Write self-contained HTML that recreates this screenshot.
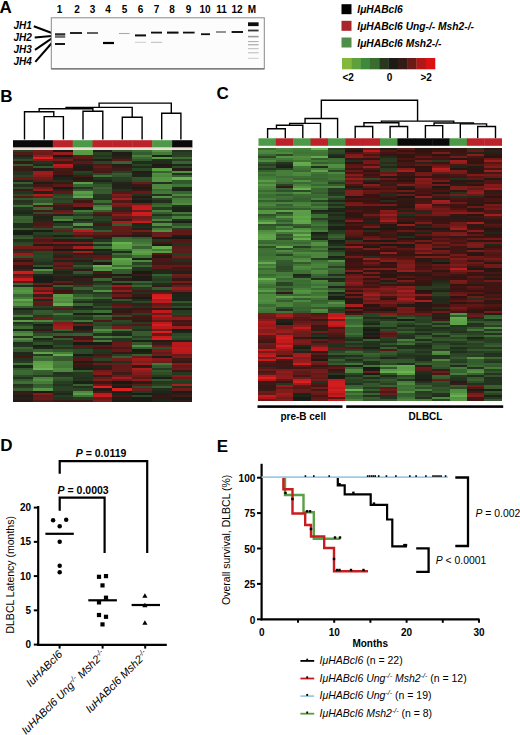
<!DOCTYPE html>
<html><head><meta charset="utf-8"><style>
html,body{margin:0;padding:0;background:#fff;}
svg{display:block;font-family:"Liberation Sans", sans-serif;}
</style></head><body>
<svg width="520" height="735" viewBox="0 0 520 735" shape-rendering="auto">
<rect width="520" height="735" fill="#fff"/>
<text x="-0.6" y="12.6" font-size="17" font-weight="bold" font-style="normal" text-anchor="start" fill="#000" >A</text>
<text x="59.5" y="12.8" font-size="10" font-weight="bold" font-style="normal" text-anchor="middle" fill="#000" >1</text>
<text x="77" y="12.8" font-size="10" font-weight="bold" font-style="normal" text-anchor="middle" fill="#000" >2</text>
<text x="92.5" y="12.8" font-size="10" font-weight="bold" font-style="normal" text-anchor="middle" fill="#000" >3</text>
<text x="108" y="12.8" font-size="10" font-weight="bold" font-style="normal" text-anchor="middle" fill="#000" >4</text>
<text x="124.5" y="12.8" font-size="10" font-weight="bold" font-style="normal" text-anchor="middle" fill="#000" >5</text>
<text x="140.5" y="12.8" font-size="10" font-weight="bold" font-style="normal" text-anchor="middle" fill="#000" >6</text>
<text x="156.5" y="12.8" font-size="10" font-weight="bold" font-style="normal" text-anchor="middle" fill="#000" >7</text>
<text x="172" y="12.8" font-size="10" font-weight="bold" font-style="normal" text-anchor="middle" fill="#000" >8</text>
<text x="188.5" y="12.8" font-size="10" font-weight="bold" font-style="normal" text-anchor="middle" fill="#000" >9</text>
<text x="205" y="12.8" font-size="10" font-weight="bold" font-style="normal" text-anchor="middle" fill="#000" >10</text>
<text x="221.5" y="12.8" font-size="10" font-weight="bold" font-style="normal" text-anchor="middle" fill="#000" >11</text>
<text x="237" y="12.8" font-size="10" font-weight="bold" font-style="normal" text-anchor="middle" fill="#000" >12</text>
<text x="252" y="12.8" font-size="10" font-weight="bold" font-style="normal" text-anchor="middle" fill="#000" >M</text>
<text x="13.5" y="28.9" font-size="10" font-weight="bold" font-style="italic" text-anchor="start" fill="#000" >JH1</text>
<text x="13.5" y="40.8" font-size="10" font-weight="bold" font-style="italic" text-anchor="start" fill="#000" >JH2</text>
<text x="13.5" y="53.2" font-size="10" font-weight="bold" font-style="italic" text-anchor="start" fill="#000" >JH3</text>
<text x="13.5" y="65.3" font-size="10" font-weight="bold" font-style="italic" text-anchor="start" fill="#000" >JH4</text>
<line x1="33.8" y1="26.2" x2="51.8" y2="33" stroke="#000" stroke-width="2" />
<line x1="34.7" y1="37.5" x2="51.8" y2="35.9" stroke="#000" stroke-width="2" />
<line x1="35" y1="49.8" x2="51.8" y2="38.4" stroke="#000" stroke-width="2" />
<line x1="35.3" y1="61.9" x2="51.8" y2="43" stroke="#000" stroke-width="2" />
<defs><filter id="bl" x="-20%" y="-200%" width="140%" height="500%"><feGaussianBlur stdDeviation="0.55"/></filter></defs>
<rect x="51.3" y="17.8" width="213" height="51" fill="#fcfcfc" stroke="#8a8a8a" stroke-width="1"/>
<line x1="51.3" y1="68.9" x2="264.3" y2="68.9" stroke="#707070" stroke-width="1.4" />
<rect x="55" y="33.099999999999994" width="10.200000000000003" height="4.4" fill="#9a9a9a" filter="url(#bl)"/>
<rect x="55" y="33.4" width="10.200000000000003" height="1.8" fill="#2e2e2e" filter="url(#bl)"/>
<rect x="55" y="36.35" width="10.200000000000003" height="1.3" fill="#555" filter="url(#bl)"/>
<rect x="55" y="43.05" width="10" height="1.9" fill="#111" filter="url(#bl)"/>
<rect x="70" y="32.1" width="12" height="1.8" fill="#111" filter="url(#bl)"/>
<rect x="87" y="32.2" width="11" height="1.6" fill="#3c3c3c" filter="url(#bl)"/>
<rect x="103" y="41.9" width="11" height="2.2" fill="#000" filter="url(#bl)"/>
<rect x="119" y="32.95" width="10.599999999999994" height="1.1" fill="#aaa" filter="url(#bl)"/>
<rect x="135" y="34.4" width="11" height="2.0" fill="#111" filter="url(#bl)"/>
<rect x="135" y="41.8" width="11" height="1.0" fill="#ccc" filter="url(#bl)"/>
<rect x="151" y="31.650000000000002" width="11" height="1.9" fill="#111" filter="url(#bl)"/>
<rect x="151" y="41.8" width="11" height="1.0" fill="#bbb" filter="url(#bl)"/>
<rect x="167" y="31.6" width="11.5" height="2.0" fill="#0a0a0a" filter="url(#bl)"/>
<rect x="183" y="31.700000000000003" width="11.599999999999994" height="1.8" fill="#111" filter="url(#bl)"/>
<rect x="201" y="33.300000000000004" width="9" height="1.8" fill="#111" filter="url(#bl)"/>
<rect x="216" y="31.35" width="10" height="1.3" fill="#5a5a5a" filter="url(#bl)"/>
<rect x="231.6" y="31.05" width="11.400000000000006" height="1.9" fill="#111" filter="url(#bl)"/>
<rect x="248" y="22.3" width="10.600000000000023" height="3.8" fill="#111" filter="url(#bl)"/>
<rect x="248" y="29.6" width="10.600000000000023" height="1.8" fill="#333" filter="url(#bl)"/>
<rect x="248" y="35.800000000000004" width="10.600000000000023" height="1.6" fill="#999" filter="url(#bl)"/>
<rect x="248" y="41.1" width="10.600000000000023" height="1.0" fill="#aaa" filter="url(#bl)"/>
<rect x="248" y="44.3" width="10.600000000000023" height="1.0" fill="#999" filter="url(#bl)"/>
<rect x="248" y="48.2" width="10.600000000000023" height="1.0" fill="#bbb" filter="url(#bl)"/>
<rect x="248" y="52.3" width="10.600000000000023" height="1.0" fill="#bbb" filter="url(#bl)"/>
<rect x="248" y="57.8" width="10.600000000000023" height="1.0" fill="#ccc" filter="url(#bl)"/>
<rect x="341.5" y="4.2" width="10" height="10" fill="#000" />
<text x="357.3" y="13.399999999999999" font-size="10.25" font-weight="bold" font-style="italic" text-anchor="start" fill="#000" >I&#956;HABcl6</text>
<rect x="341.5" y="20.8" width="10" height="10" fill="#a8252b" />
<text x="357.3" y="30.0" font-size="10.25" font-weight="bold" font-style="italic" text-anchor="start" fill="#000" >I&#956;HABcl6 Ung-/- Msh2-/-</text>
<rect x="341.5" y="37.5" width="10" height="10" fill="#4f8d49" />
<text x="357.3" y="46.7" font-size="10.25" font-weight="bold" font-style="italic" text-anchor="start" fill="#000" >I&#956;HABcl6 Msh2-/-</text>
<rect x="342.0" y="58" width="9.600000000000001" height="11.3" fill="#84b83c" />
<rect x="351.3" y="58" width="9.600000000000001" height="11.3" fill="#5f9f3c" />
<rect x="360.6" y="58" width="9.600000000000001" height="11.3" fill="#3f8a3a" />
<rect x="369.9" y="58" width="9.600000000000001" height="11.3" fill="#3a6c2e" />
<rect x="379.2" y="58" width="9.600000000000001" height="11.3" fill="#28381f" />
<rect x="388.5" y="58" width="9.600000000000001" height="11.3" fill="#1c1c16" />
<rect x="397.8" y="58" width="9.600000000000001" height="11.3" fill="#361a14" />
<rect x="407.1" y="58" width="9.600000000000001" height="11.3" fill="#6a1a17" />
<rect x="416.4" y="58" width="9.600000000000001" height="11.3" fill="#b01818" />
<rect x="425.7" y="58" width="9.600000000000001" height="11.3" fill="#dc1212" />
<text x="342.5" y="80.5" font-size="10" font-weight="bold" font-style="normal" text-anchor="start" fill="#000" >&lt;2</text>
<text x="389.6" y="80.5" font-size="10" font-weight="bold" font-style="normal" text-anchor="middle" fill="#000" >0</text>
<text x="431.8" y="80.5" font-size="10" font-weight="bold" font-style="normal" text-anchor="end" fill="#000" >&gt;2</text>
<text x="0.2" y="102.2" font-size="17" font-weight="bold" font-style="normal" text-anchor="start" fill="#000" >B</text>
<polyline points="44.2,139.6 44.2,116.6 63.4,116.6 63.4,139.6" fill="none" stroke="#000" stroke-width="1.4" stroke-linejoin="miter" stroke-linecap="butt"/>
<polyline points="24.5,139.6 24.5,111.8 53.8,111.8 53.8,116.6" fill="none" stroke="#000" stroke-width="1.4" stroke-linejoin="miter" stroke-linecap="butt"/>
<polyline points="83,139.6 83,111.3 102.8,111.3 102.8,139.6" fill="none" stroke="#000" stroke-width="1.4" stroke-linejoin="miter" stroke-linecap="butt"/>
<polyline points="39.15,111.8 39.15,108.7 92.9,108.7 92.9,111.3" fill="none" stroke="#000" stroke-width="1.4" stroke-linejoin="miter" stroke-linecap="butt"/>
<polyline points="122.3,139.6 122.3,117.2 142.1,117.2 142.1,139.6" fill="none" stroke="#000" stroke-width="1.4" stroke-linejoin="miter" stroke-linecap="butt"/>
<polyline points="66.025,108.7 66.025,107.4 132.2,107.4 132.2,117.2" fill="none" stroke="#000" stroke-width="1.4" stroke-linejoin="miter" stroke-linecap="butt"/>
<polyline points="161.7,139.6 161.7,113.2 180.9,113.2 180.9,139.6" fill="none" stroke="#000" stroke-width="1.4" stroke-linejoin="miter" stroke-linecap="butt"/>
<polyline points="99.1125,107.4 99.1125,103.1 171.3,103.1 171.3,113.2" fill="none" stroke="#000" stroke-width="1.4" stroke-linejoin="miter" stroke-linecap="butt"/>
<rect x="13.0" y="140.2" width="20.29" height="7.400000000000006" fill="#0a0a0a" />
<rect x="32.89" y="140.2" width="20.29" height="7.400000000000006" fill="#0a0a0a" />
<rect x="52.78" y="140.2" width="20.29" height="7.400000000000006" fill="#bb2229" />
<rect x="72.67" y="140.2" width="20.29" height="7.400000000000006" fill="#4c9a48" />
<rect x="92.56" y="140.2" width="20.29" height="7.400000000000006" fill="#bb2229" />
<rect x="112.44" y="140.2" width="20.29" height="7.400000000000006" fill="#bb2229" />
<rect x="132.33" y="140.2" width="20.29" height="7.400000000000006" fill="#bb2229" />
<rect x="152.22" y="140.2" width="20.29" height="7.400000000000006" fill="#4c9a48" />
<rect x="172.11" y="140.2" width="20.29" height="7.400000000000006" fill="#0a0a0a" />
<rect x="13" y="147.6" width="179" height="2.3" fill="#ecdcd8" />
<g shape-rendering="crispEdges">
<rect x="13" y="150" width="20" height="2" fill="#294023"/>
<rect x="13" y="152" width="20" height="3" fill="#4c1b17"/>
<rect x="13" y="155" width="20" height="2" fill="#1d2719"/>
<rect x="13" y="157" width="20" height="2" fill="#23331f"/>
<rect x="13" y="159" width="20" height="2" fill="#314a29"/>
<rect x="13" y="161" width="20" height="3" fill="#391915"/>
<rect x="13" y="164" width="20" height="2" fill="#35572c"/>
<rect x="13" y="166" width="20" height="2" fill="#3b1e18"/>
<rect x="13" y="168" width="20" height="3" fill="#381d17"/>
<rect x="13" y="171" width="20" height="2" fill="#24321e"/>
<rect x="13" y="173" width="20" height="2" fill="#24321e"/>
<rect x="13" y="175" width="20" height="2" fill="#2b4025"/>
<rect x="13" y="177" width="20" height="3" fill="#691a18"/>
<rect x="13" y="180" width="20" height="2" fill="#22221a"/>
<rect x="13" y="182" width="20" height="2" fill="#395d2f"/>
<rect x="13" y="184" width="20" height="3" fill="#23311d"/>
<rect x="13" y="187" width="20" height="2" fill="#324b29"/>
<rect x="13" y="189" width="20" height="2" fill="#3c1a16"/>
<rect x="13" y="191" width="20" height="3" fill="#253421"/>
<rect x="13" y="194" width="20" height="2" fill="#304828"/>
<rect x="13" y="196" width="20" height="2" fill="#4f1c18"/>
<rect x="13" y="198" width="20" height="2" fill="#35552b"/>
<rect x="13" y="200" width="20" height="3" fill="#25341f"/>
<rect x="13" y="203" width="20" height="2" fill="#293c23"/>
<rect x="13" y="205" width="20" height="2" fill="#3f7135"/>
<rect x="13" y="207" width="20" height="3" fill="#23341f"/>
<rect x="13" y="210" width="20" height="2" fill="#1f2e1c"/>
<rect x="13" y="212" width="20" height="2" fill="#1d2719"/>
<rect x="13" y="214" width="20" height="2" fill="#253620"/>
<rect x="13" y="216" width="20" height="3" fill="#396431"/>
<rect x="13" y="219" width="20" height="2" fill="#375a2e"/>
<rect x="13" y="221" width="20" height="2" fill="#3a5e30"/>
<rect x="13" y="223" width="20" height="3" fill="#1f2d1b"/>
<rect x="13" y="226" width="20" height="2" fill="#202f1c"/>
<rect x="13" y="228" width="20" height="2" fill="#365a2e"/>
<rect x="13" y="230" width="20" height="2" fill="#192115"/>
<rect x="13" y="232" width="20" height="3" fill="#171e13"/>
<rect x="13" y="235" width="20" height="2" fill="#2f4e28"/>
<rect x="13" y="237" width="20" height="2" fill="#37592d"/>
<rect x="13" y="239" width="20" height="3" fill="#22321e"/>
<rect x="13" y="242" width="20" height="2" fill="#2b4725"/>
<rect x="13" y="244" width="20" height="2" fill="#2e4b28"/>
<rect x="13" y="246" width="20" height="3" fill="#741918"/>
<rect x="13" y="249" width="20" height="2" fill="#202f1c"/>
<rect x="13" y="251" width="20" height="2" fill="#5e1a18"/>
<rect x="13" y="253" width="20" height="2" fill="#971c1c"/>
<rect x="13" y="255" width="20" height="3" fill="#315129"/>
<rect x="13" y="258" width="20" height="2" fill="#541715"/>
<rect x="13" y="260" width="20" height="2" fill="#281b15"/>
<rect x="13" y="262" width="20" height="3" fill="#661917"/>
<rect x="13" y="265" width="20" height="2" fill="#2b1d16"/>
<rect x="13" y="267" width="20" height="2" fill="#2b1c16"/>
<rect x="13" y="269" width="20" height="2" fill="#4e1816"/>
<rect x="13" y="271" width="20" height="3" fill="#cf1d1f"/>
<rect x="13" y="274" width="20" height="2" fill="#5e1a18"/>
<rect x="13" y="276" width="20" height="2" fill="#7b1b19"/>
<rect x="13" y="278" width="20" height="3" fill="#ca1c1e"/>
<rect x="13" y="281" width="20" height="2" fill="#631917"/>
<rect x="13" y="283" width="20" height="2" fill="#3c6232"/>
<rect x="13" y="285" width="20" height="2" fill="#22301f"/>
<rect x="13" y="287" width="20" height="3" fill="#508c3f"/>
<rect x="13" y="290" width="20" height="2" fill="#579845"/>
<rect x="13" y="292" width="20" height="2" fill="#528f40"/>
<rect x="13" y="294" width="20" height="3" fill="#386532"/>
<rect x="13" y="297" width="20" height="2" fill="#447b3a"/>
<rect x="13" y="299" width="20" height="2" fill="#5fa94b"/>
<rect x="13" y="301" width="20" height="2" fill="#4e883d"/>
<rect x="13" y="303" width="20" height="3" fill="#559642"/>
<rect x="13" y="306" width="20" height="2" fill="#355e2f"/>
<rect x="13" y="308" width="20" height="2" fill="#1c2618"/>
<rect x="13" y="310" width="20" height="3" fill="#293b23"/>
<rect x="13" y="313" width="20" height="2" fill="#2b4625"/>
<rect x="13" y="315" width="20" height="2" fill="#45793a"/>
<rect x="13" y="317" width="20" height="3" fill="#253321"/>
<rect x="13" y="320" width="20" height="2" fill="#5c9c46"/>
<rect x="13" y="322" width="20" height="2" fill="#21311d"/>
<rect x="13" y="324" width="20" height="2" fill="#2d4a27"/>
<rect x="13" y="326" width="20" height="3" fill="#3c6c33"/>
<rect x="13" y="329" width="20" height="2" fill="#1d2719"/>
<rect x="13" y="331" width="20" height="2" fill="#467b3a"/>
<rect x="13" y="333" width="20" height="3" fill="#518e40"/>
<rect x="13" y="336" width="20" height="2" fill="#24351f"/>
<rect x="13" y="338" width="20" height="2" fill="#548f43"/>
<rect x="13" y="340" width="20" height="2" fill="#3f7135"/>
<rect x="13" y="342" width="20" height="3" fill="#20301c"/>
<rect x="13" y="345" width="20" height="2" fill="#23341f"/>
<rect x="13" y="347" width="20" height="2" fill="#3a6632"/>
<rect x="13" y="349" width="20" height="3" fill="#34542b"/>
<rect x="13" y="352" width="20" height="2" fill="#1e291a"/>
<rect x="13" y="354" width="20" height="2" fill="#1f291b"/>
<rect x="13" y="356" width="20" height="2" fill="#451614"/>
<rect x="13" y="358" width="20" height="3" fill="#22331e"/>
<rect x="13" y="361" width="20" height="2" fill="#273d21"/>
<rect x="13" y="363" width="20" height="2" fill="#407336"/>
<rect x="13" y="365" width="20" height="3" fill="#1d2719"/>
<rect x="13" y="368" width="20" height="2" fill="#35572c"/>
<rect x="13" y="370" width="20" height="2" fill="#3b6a32"/>
<rect x="13" y="372" width="20" height="3" fill="#3b6933"/>
<rect x="13" y="375" width="20" height="2" fill="#2e4c28"/>
<rect x="13" y="377" width="20" height="2" fill="#22321e"/>
<rect x="13" y="379" width="20" height="2" fill="#31572b"/>
<rect x="13" y="381" width="20" height="3" fill="#3d6e34"/>
<rect x="13" y="384" width="20" height="2" fill="#25361f"/>
<rect x="13" y="386" width="20" height="2" fill="#273d21"/>
<rect x="13" y="388" width="20" height="3" fill="#385c2f"/>
<rect x="13" y="391" width="20" height="2" fill="#351c18"/>
<rect x="13" y="393" width="20" height="2" fill="#341c18"/>
<rect x="13" y="395" width="20" height="2" fill="#1b1f17"/>
<rect x="13" y="397" width="20" height="3" fill="#2a1c16"/>
<rect x="13" y="400" width="20" height="2" fill="#261914"/>
<rect x="33" y="150" width="20" height="2" fill="#731d1b"/>
<rect x="33" y="152" width="20" height="3" fill="#6d1b19"/>
<rect x="33" y="155" width="20" height="2" fill="#961c1c"/>
<rect x="33" y="157" width="20" height="2" fill="#de1f21"/>
<rect x="33" y="159" width="20" height="2" fill="#7e1c1a"/>
<rect x="33" y="161" width="20" height="3" fill="#253321"/>
<rect x="33" y="164" width="20" height="2" fill="#1f291b"/>
<rect x="33" y="166" width="20" height="2" fill="#36572c"/>
<rect x="33" y="168" width="20" height="3" fill="#271a14"/>
<rect x="33" y="171" width="20" height="2" fill="#9a1d1d"/>
<rect x="33" y="173" width="20" height="2" fill="#9b1d1d"/>
<rect x="33" y="175" width="20" height="2" fill="#8a1b1b"/>
<rect x="33" y="177" width="20" height="3" fill="#661e1c"/>
<rect x="33" y="180" width="20" height="2" fill="#591917"/>
<rect x="33" y="182" width="20" height="2" fill="#1a1e16"/>
<rect x="33" y="184" width="20" height="3" fill="#471614"/>
<rect x="33" y="187" width="20" height="2" fill="#6f1b19"/>
<rect x="33" y="189" width="20" height="2" fill="#941d1d"/>
<rect x="33" y="191" width="20" height="3" fill="#1b2518"/>
<rect x="33" y="194" width="20" height="2" fill="#b6191b"/>
<rect x="33" y="196" width="20" height="2" fill="#721917"/>
<rect x="33" y="198" width="20" height="2" fill="#365f2e"/>
<rect x="33" y="200" width="20" height="3" fill="#34552b"/>
<rect x="33" y="203" width="20" height="2" fill="#4e863f"/>
<rect x="33" y="205" width="20" height="2" fill="#4a1b16"/>
<rect x="33" y="207" width="20" height="3" fill="#3c6132"/>
<rect x="33" y="210" width="20" height="2" fill="#461915"/>
<rect x="33" y="212" width="20" height="2" fill="#314928"/>
<rect x="33" y="214" width="20" height="2" fill="#3a1e18"/>
<rect x="33" y="216" width="20" height="3" fill="#23231a"/>
<rect x="33" y="219" width="20" height="2" fill="#1e281a"/>
<rect x="33" y="221" width="20" height="2" fill="#481a16"/>
<rect x="33" y="223" width="20" height="3" fill="#491a16"/>
<rect x="33" y="226" width="20" height="2" fill="#551e1a"/>
<rect x="33" y="228" width="20" height="2" fill="#304828"/>
<rect x="33" y="230" width="20" height="2" fill="#191d15"/>
<rect x="33" y="232" width="20" height="3" fill="#283e22"/>
<rect x="33" y="235" width="20" height="2" fill="#23311d"/>
<rect x="33" y="237" width="20" height="2" fill="#611d1b"/>
<rect x="33" y="239" width="20" height="3" fill="#541716"/>
<rect x="33" y="242" width="20" height="2" fill="#691a18"/>
<rect x="33" y="244" width="20" height="2" fill="#261913"/>
<rect x="33" y="246" width="20" height="3" fill="#711c1a"/>
<rect x="33" y="249" width="20" height="2" fill="#4f1917"/>
<rect x="33" y="251" width="20" height="2" fill="#2a4424"/>
<rect x="33" y="253" width="20" height="2" fill="#284223"/>
<rect x="33" y="255" width="20" height="3" fill="#2b4725"/>
<rect x="33" y="258" width="20" height="2" fill="#284223"/>
<rect x="33" y="260" width="20" height="2" fill="#293b23"/>
<rect x="33" y="262" width="20" height="3" fill="#21311d"/>
<rect x="33" y="265" width="20" height="2" fill="#33542b"/>
<rect x="33" y="267" width="20" height="2" fill="#182015"/>
<rect x="33" y="269" width="20" height="2" fill="#559144"/>
<rect x="33" y="271" width="20" height="3" fill="#37592d"/>
<rect x="33" y="274" width="20" height="2" fill="#1e281a"/>
<rect x="33" y="276" width="20" height="2" fill="#1a1e16"/>
<rect x="33" y="278" width="20" height="3" fill="#191d15"/>
<rect x="33" y="281" width="20" height="2" fill="#1a1e16"/>
<rect x="33" y="283" width="20" height="2" fill="#6d1b19"/>
<rect x="33" y="285" width="20" height="2" fill="#301a16"/>
<rect x="33" y="287" width="20" height="3" fill="#901b1b"/>
<rect x="33" y="290" width="20" height="2" fill="#641917"/>
<rect x="33" y="292" width="20" height="2" fill="#b8191b"/>
<rect x="33" y="294" width="20" height="3" fill="#3e1b17"/>
<rect x="33" y="297" width="20" height="2" fill="#8b1b1b"/>
<rect x="33" y="299" width="20" height="2" fill="#1f291b"/>
<rect x="33" y="301" width="20" height="2" fill="#661917"/>
<rect x="33" y="303" width="20" height="3" fill="#5d1a18"/>
<rect x="33" y="306" width="20" height="2" fill="#2a4124"/>
<rect x="33" y="308" width="20" height="2" fill="#22301f"/>
<rect x="33" y="310" width="20" height="3" fill="#37592d"/>
<rect x="33" y="313" width="20" height="2" fill="#34552b"/>
<rect x="33" y="315" width="20" height="2" fill="#273821"/>
<rect x="33" y="317" width="20" height="3" fill="#701c1a"/>
<rect x="33" y="320" width="20" height="2" fill="#4f8740"/>
<rect x="33" y="322" width="20" height="2" fill="#2c4926"/>
<rect x="33" y="324" width="20" height="2" fill="#192115"/>
<rect x="33" y="326" width="20" height="3" fill="#212f1e"/>
<rect x="33" y="329" width="20" height="2" fill="#371814"/>
<rect x="33" y="331" width="20" height="2" fill="#273821"/>
<rect x="33" y="333" width="20" height="3" fill="#2f4e28"/>
<rect x="33" y="336" width="20" height="2" fill="#447a39"/>
<rect x="33" y="338" width="20" height="2" fill="#1e281a"/>
<rect x="33" y="340" width="20" height="2" fill="#273821"/>
<rect x="33" y="342" width="20" height="3" fill="#305029"/>
<rect x="33" y="345" width="20" height="2" fill="#192115"/>
<rect x="33" y="347" width="20" height="2" fill="#1e291a"/>
<rect x="33" y="349" width="20" height="3" fill="#3b6031"/>
<rect x="33" y="352" width="20" height="2" fill="#5fa149"/>
<rect x="33" y="354" width="20" height="2" fill="#263a20"/>
<rect x="33" y="356" width="20" height="2" fill="#417537"/>
<rect x="33" y="358" width="20" height="3" fill="#3b6a32"/>
<rect x="33" y="361" width="20" height="2" fill="#5c9c46"/>
<rect x="33" y="363" width="20" height="2" fill="#5fa048"/>
<rect x="33" y="365" width="20" height="3" fill="#61a44a"/>
<rect x="33" y="368" width="20" height="2" fill="#6bb451"/>
<rect x="33" y="370" width="20" height="2" fill="#366030"/>
<rect x="33" y="372" width="20" height="3" fill="#35592d"/>
<rect x="33" y="375" width="20" height="2" fill="#273d21"/>
<rect x="33" y="377" width="20" height="2" fill="#4c813d"/>
<rect x="33" y="379" width="20" height="2" fill="#549044"/>
<rect x="33" y="381" width="20" height="3" fill="#467c3b"/>
<rect x="33" y="384" width="20" height="2" fill="#37592d"/>
<rect x="33" y="386" width="20" height="2" fill="#366130"/>
<rect x="33" y="388" width="20" height="3" fill="#569345"/>
<rect x="33" y="391" width="20" height="2" fill="#1e1a14"/>
<rect x="33" y="393" width="20" height="2" fill="#871a1a"/>
<rect x="33" y="395" width="20" height="2" fill="#5f1b18"/>
<rect x="33" y="397" width="20" height="3" fill="#611d1b"/>
<rect x="33" y="400" width="20" height="2" fill="#501917"/>
<rect x="53" y="150" width="20" height="2" fill="#1c1813"/>
<rect x="53" y="152" width="20" height="3" fill="#961c1c"/>
<rect x="53" y="155" width="20" height="2" fill="#171b14"/>
<rect x="53" y="157" width="20" height="2" fill="#561816"/>
<rect x="53" y="159" width="20" height="2" fill="#741d1a"/>
<rect x="53" y="161" width="20" height="3" fill="#3d1a16"/>
<rect x="53" y="164" width="20" height="2" fill="#c21a1c"/>
<rect x="53" y="166" width="20" height="2" fill="#ad1719"/>
<rect x="53" y="168" width="20" height="3" fill="#471915"/>
<rect x="53" y="171" width="20" height="2" fill="#431814"/>
<rect x="53" y="173" width="20" height="2" fill="#421714"/>
<rect x="53" y="175" width="20" height="2" fill="#191d15"/>
<rect x="53" y="177" width="20" height="3" fill="#22221a"/>
<rect x="53" y="180" width="20" height="2" fill="#23311d"/>
<rect x="53" y="182" width="20" height="2" fill="#3a1915"/>
<rect x="53" y="184" width="20" height="3" fill="#591917"/>
<rect x="53" y="187" width="20" height="2" fill="#1c1813"/>
<rect x="53" y="189" width="20" height="2" fill="#3c1a16"/>
<rect x="53" y="191" width="20" height="3" fill="#5b1917"/>
<rect x="53" y="194" width="20" height="2" fill="#294424"/>
<rect x="53" y="196" width="20" height="2" fill="#315129"/>
<rect x="53" y="198" width="20" height="2" fill="#2a3f24"/>
<rect x="53" y="200" width="20" height="3" fill="#2f4727"/>
<rect x="53" y="203" width="20" height="2" fill="#571f1a"/>
<rect x="53" y="205" width="20" height="2" fill="#3f1b17"/>
<rect x="53" y="207" width="20" height="3" fill="#23231b"/>
<rect x="53" y="210" width="20" height="2" fill="#571f1b"/>
<rect x="53" y="212" width="20" height="2" fill="#741d1b"/>
<rect x="53" y="214" width="20" height="2" fill="#1e281a"/>
<rect x="53" y="216" width="20" height="3" fill="#3a6732"/>
<rect x="53" y="219" width="20" height="2" fill="#4b843f"/>
<rect x="53" y="221" width="20" height="2" fill="#1b2316"/>
<rect x="53" y="223" width="20" height="3" fill="#283b22"/>
<rect x="53" y="226" width="20" height="2" fill="#3d6332"/>
<rect x="53" y="228" width="20" height="2" fill="#2a4123"/>
<rect x="53" y="230" width="20" height="2" fill="#621d1b"/>
<rect x="53" y="232" width="20" height="3" fill="#2a4123"/>
<rect x="53" y="235" width="20" height="2" fill="#1b2316"/>
<rect x="53" y="237" width="20" height="2" fill="#283f22"/>
<rect x="53" y="239" width="20" height="3" fill="#361713"/>
<rect x="53" y="242" width="20" height="2" fill="#831919"/>
<rect x="53" y="244" width="20" height="2" fill="#311a16"/>
<rect x="53" y="246" width="20" height="3" fill="#501917"/>
<rect x="53" y="249" width="20" height="2" fill="#1c1812"/>
<rect x="53" y="251" width="20" height="2" fill="#5b1917"/>
<rect x="53" y="253" width="20" height="2" fill="#222f1c"/>
<rect x="53" y="255" width="20" height="3" fill="#341c18"/>
<rect x="53" y="258" width="20" height="2" fill="#5c1a18"/>
<rect x="53" y="260" width="20" height="2" fill="#22221a"/>
<rect x="53" y="262" width="20" height="3" fill="#621d1b"/>
<rect x="53" y="265" width="20" height="2" fill="#4d1b17"/>
<rect x="53" y="267" width="20" height="2" fill="#641e1c"/>
<rect x="53" y="269" width="20" height="2" fill="#23301d"/>
<rect x="53" y="271" width="20" height="3" fill="#23231a"/>
<rect x="53" y="274" width="20" height="2" fill="#222f1c"/>
<rect x="53" y="276" width="20" height="2" fill="#351b16"/>
<rect x="53" y="278" width="20" height="3" fill="#212119"/>
<rect x="53" y="281" width="20" height="2" fill="#5e1c1a"/>
<rect x="53" y="283" width="20" height="2" fill="#371814"/>
<rect x="53" y="285" width="20" height="2" fill="#385b2e"/>
<rect x="53" y="287" width="20" height="3" fill="#21311d"/>
<rect x="53" y="290" width="20" height="2" fill="#371714"/>
<rect x="53" y="292" width="20" height="2" fill="#451514"/>
<rect x="53" y="294" width="20" height="3" fill="#5c9b46"/>
<rect x="53" y="297" width="20" height="2" fill="#539142"/>
<rect x="53" y="299" width="20" height="2" fill="#569345"/>
<rect x="53" y="301" width="20" height="2" fill="#4d8841"/>
<rect x="53" y="303" width="20" height="3" fill="#65ab4d"/>
<rect x="53" y="306" width="20" height="2" fill="#284222"/>
<rect x="53" y="308" width="20" height="2" fill="#5a1917"/>
<rect x="53" y="310" width="20" height="3" fill="#2c4826"/>
<rect x="53" y="313" width="20" height="2" fill="#427638"/>
<rect x="53" y="315" width="20" height="2" fill="#2e4b27"/>
<rect x="53" y="317" width="20" height="3" fill="#2a4524"/>
<rect x="53" y="320" width="20" height="2" fill="#36582d"/>
<rect x="53" y="322" width="20" height="2" fill="#831919"/>
<rect x="53" y="324" width="20" height="2" fill="#931b1b"/>
<rect x="53" y="326" width="20" height="3" fill="#a11e1e"/>
<rect x="53" y="329" width="20" height="2" fill="#3a5e30"/>
<rect x="53" y="331" width="20" height="2" fill="#222f1e"/>
<rect x="53" y="333" width="20" height="3" fill="#36592d"/>
<rect x="53" y="336" width="20" height="2" fill="#381814"/>
<rect x="53" y="338" width="20" height="2" fill="#375a2e"/>
<rect x="53" y="340" width="20" height="2" fill="#24381f"/>
<rect x="53" y="342" width="20" height="3" fill="#263720"/>
<rect x="53" y="345" width="20" height="2" fill="#2e4b27"/>
<rect x="53" y="347" width="20" height="2" fill="#263421"/>
<rect x="53" y="349" width="20" height="3" fill="#35562b"/>
<rect x="53" y="352" width="20" height="2" fill="#4a7e3b"/>
<rect x="53" y="354" width="20" height="2" fill="#65aa4d"/>
<rect x="53" y="356" width="20" height="2" fill="#335b2d"/>
<rect x="53" y="358" width="20" height="3" fill="#36572c"/>
<rect x="53" y="361" width="20" height="2" fill="#467b3a"/>
<rect x="53" y="363" width="20" height="2" fill="#467b3a"/>
<rect x="53" y="365" width="20" height="3" fill="#437638"/>
<rect x="53" y="368" width="20" height="2" fill="#518b41"/>
<rect x="53" y="370" width="20" height="2" fill="#4c8740"/>
<rect x="53" y="372" width="20" height="3" fill="#22321e"/>
<rect x="53" y="375" width="20" height="2" fill="#24381f"/>
<rect x="53" y="377" width="20" height="2" fill="#37592d"/>
<rect x="53" y="379" width="20" height="2" fill="#315129"/>
<rect x="53" y="381" width="20" height="3" fill="#283e22"/>
<rect x="53" y="384" width="20" height="2" fill="#22331e"/>
<rect x="53" y="386" width="20" height="2" fill="#294023"/>
<rect x="53" y="388" width="20" height="3" fill="#2a4123"/>
<rect x="53" y="391" width="20" height="2" fill="#21311d"/>
<rect x="53" y="393" width="20" height="2" fill="#1e281a"/>
<rect x="53" y="395" width="20" height="2" fill="#263c21"/>
<rect x="53" y="397" width="20" height="3" fill="#243320"/>
<rect x="53" y="400" width="20" height="2" fill="#3a1915"/>
<rect x="73" y="150" width="20" height="2" fill="#589c45"/>
<rect x="73" y="152" width="20" height="3" fill="#589945"/>
<rect x="73" y="155" width="20" height="2" fill="#5d1c1a"/>
<rect x="73" y="157" width="20" height="2" fill="#5a1917"/>
<rect x="73" y="159" width="20" height="2" fill="#341c18"/>
<rect x="73" y="161" width="20" height="3" fill="#571816"/>
<rect x="73" y="164" width="20" height="2" fill="#321b17"/>
<rect x="73" y="166" width="20" height="2" fill="#1b1f16"/>
<rect x="73" y="168" width="20" height="3" fill="#271a14"/>
<rect x="73" y="171" width="20" height="2" fill="#284223"/>
<rect x="73" y="173" width="20" height="2" fill="#25391f"/>
<rect x="73" y="175" width="20" height="2" fill="#4a1715"/>
<rect x="73" y="177" width="20" height="3" fill="#1a1f16"/>
<rect x="73" y="180" width="20" height="2" fill="#311a16"/>
<rect x="73" y="182" width="20" height="2" fill="#599c46"/>
<rect x="73" y="184" width="20" height="3" fill="#386431"/>
<rect x="73" y="187" width="20" height="2" fill="#23341f"/>
<rect x="73" y="189" width="20" height="2" fill="#34542b"/>
<rect x="73" y="191" width="20" height="3" fill="#599e46"/>
<rect x="73" y="194" width="20" height="2" fill="#518b41"/>
<rect x="73" y="196" width="20" height="2" fill="#62a64b"/>
<rect x="73" y="198" width="20" height="2" fill="#284122"/>
<rect x="73" y="200" width="20" height="3" fill="#451514"/>
<rect x="73" y="203" width="20" height="2" fill="#6e1c1a"/>
<rect x="73" y="205" width="20" height="2" fill="#721d1b"/>
<rect x="73" y="207" width="20" height="3" fill="#191c15"/>
<rect x="73" y="210" width="20" height="2" fill="#447b3a"/>
<rect x="73" y="212" width="20" height="2" fill="#33552b"/>
<rect x="73" y="214" width="20" height="2" fill="#293b23"/>
<rect x="73" y="216" width="20" height="3" fill="#36582d"/>
<rect x="73" y="219" width="20" height="2" fill="#1f2e1c"/>
<rect x="73" y="221" width="20" height="2" fill="#294023"/>
<rect x="73" y="223" width="20" height="3" fill="#549342"/>
<rect x="73" y="226" width="20" height="2" fill="#22301f"/>
<rect x="73" y="228" width="20" height="2" fill="#3c6a34"/>
<rect x="73" y="230" width="20" height="2" fill="#b91a1b"/>
<rect x="73" y="232" width="20" height="3" fill="#711c1a"/>
<rect x="73" y="235" width="20" height="2" fill="#4a1715"/>
<rect x="73" y="237" width="20" height="2" fill="#294323"/>
<rect x="73" y="239" width="20" height="3" fill="#1c2518"/>
<rect x="73" y="242" width="20" height="2" fill="#801c1a"/>
<rect x="73" y="244" width="20" height="2" fill="#291b15"/>
<rect x="73" y="246" width="20" height="3" fill="#a41e1e"/>
<rect x="73" y="249" width="20" height="2" fill="#1a1e16"/>
<rect x="73" y="251" width="20" height="2" fill="#a01e1e"/>
<rect x="73" y="253" width="20" height="2" fill="#3e1a16"/>
<rect x="73" y="255" width="20" height="3" fill="#4d1b18"/>
<rect x="73" y="258" width="20" height="2" fill="#24321e"/>
<rect x="73" y="260" width="20" height="2" fill="#311a16"/>
<rect x="73" y="262" width="20" height="3" fill="#24331e"/>
<rect x="73" y="265" width="20" height="2" fill="#33552b"/>
<rect x="73" y="267" width="20" height="2" fill="#273c21"/>
<rect x="73" y="269" width="20" height="2" fill="#311a17"/>
<rect x="73" y="271" width="20" height="3" fill="#33552b"/>
<rect x="73" y="274" width="20" height="2" fill="#23311f"/>
<rect x="73" y="276" width="20" height="2" fill="#1b1f16"/>
<rect x="73" y="278" width="20" height="3" fill="#351c18"/>
<rect x="73" y="281" width="20" height="2" fill="#1f291b"/>
<rect x="73" y="283" width="20" height="2" fill="#491715"/>
<rect x="73" y="285" width="20" height="2" fill="#283e22"/>
<rect x="73" y="287" width="20" height="3" fill="#3a5f30"/>
<rect x="73" y="290" width="20" height="2" fill="#25351f"/>
<rect x="73" y="292" width="20" height="2" fill="#273921"/>
<rect x="73" y="294" width="20" height="3" fill="#345d2e"/>
<rect x="73" y="297" width="20" height="2" fill="#447738"/>
<rect x="73" y="299" width="20" height="2" fill="#2e4b27"/>
<rect x="73" y="301" width="20" height="2" fill="#202f1c"/>
<rect x="73" y="303" width="20" height="3" fill="#386330"/>
<rect x="73" y="306" width="20" height="2" fill="#1d2719"/>
<rect x="73" y="308" width="20" height="2" fill="#212f1e"/>
<rect x="73" y="310" width="20" height="3" fill="#34562c"/>
<rect x="73" y="313" width="20" height="2" fill="#1a2216"/>
<rect x="73" y="315" width="20" height="2" fill="#2d4a27"/>
<rect x="73" y="317" width="20" height="3" fill="#263720"/>
<rect x="73" y="320" width="20" height="2" fill="#447839"/>
<rect x="73" y="322" width="20" height="2" fill="#1f2a1b"/>
<rect x="73" y="324" width="20" height="2" fill="#651e1c"/>
<rect x="73" y="326" width="20" height="3" fill="#191d15"/>
<rect x="73" y="329" width="20" height="2" fill="#301a16"/>
<rect x="73" y="331" width="20" height="2" fill="#253421"/>
<rect x="73" y="333" width="20" height="3" fill="#3a5e30"/>
<rect x="73" y="336" width="20" height="2" fill="#3c1a16"/>
<rect x="73" y="338" width="20" height="2" fill="#471614"/>
<rect x="73" y="340" width="20" height="2" fill="#751a18"/>
<rect x="73" y="342" width="20" height="3" fill="#171b14"/>
<rect x="73" y="345" width="20" height="2" fill="#5a1917"/>
<rect x="73" y="347" width="20" height="2" fill="#243220"/>
<rect x="73" y="349" width="20" height="3" fill="#2d4a27"/>
<rect x="73" y="352" width="20" height="2" fill="#2c4826"/>
<rect x="73" y="354" width="20" height="2" fill="#191d15"/>
<rect x="73" y="356" width="20" height="2" fill="#22301f"/>
<rect x="73" y="358" width="20" height="3" fill="#561816"/>
<rect x="73" y="361" width="20" height="2" fill="#251913"/>
<rect x="73" y="363" width="20" height="2" fill="#451514"/>
<rect x="73" y="365" width="20" height="3" fill="#2e1915"/>
<rect x="73" y="368" width="20" height="2" fill="#1a1e16"/>
<rect x="73" y="370" width="20" height="2" fill="#385b2e"/>
<rect x="73" y="372" width="20" height="3" fill="#25391f"/>
<rect x="73" y="375" width="20" height="2" fill="#263720"/>
<rect x="73" y="377" width="20" height="2" fill="#22321e"/>
<rect x="73" y="379" width="20" height="2" fill="#24341e"/>
<rect x="73" y="381" width="20" height="3" fill="#1a2216"/>
<rect x="73" y="384" width="20" height="2" fill="#3a5e30"/>
<rect x="73" y="386" width="20" height="2" fill="#21311d"/>
<rect x="73" y="388" width="20" height="3" fill="#284223"/>
<rect x="73" y="391" width="20" height="2" fill="#4e893e"/>
<rect x="73" y="393" width="20" height="2" fill="#5a9d47"/>
<rect x="73" y="395" width="20" height="2" fill="#3f7037"/>
<rect x="73" y="397" width="20" height="3" fill="#24391f"/>
<rect x="73" y="400" width="20" height="2" fill="#351c18"/>
<rect x="93" y="150" width="19" height="2" fill="#202019"/>
<rect x="93" y="152" width="19" height="3" fill="#284122"/>
<rect x="93" y="155" width="19" height="2" fill="#25341f"/>
<rect x="93" y="157" width="19" height="2" fill="#293f23"/>
<rect x="93" y="159" width="19" height="2" fill="#202018"/>
<rect x="93" y="161" width="19" height="3" fill="#2a4524"/>
<rect x="93" y="164" width="19" height="2" fill="#4b1b17"/>
<rect x="93" y="166" width="19" height="2" fill="#621d1b"/>
<rect x="93" y="168" width="19" height="3" fill="#4d1b17"/>
<rect x="93" y="171" width="19" height="2" fill="#4a1715"/>
<rect x="93" y="173" width="19" height="2" fill="#2b4625"/>
<rect x="93" y="175" width="19" height="2" fill="#3f7236"/>
<rect x="93" y="177" width="19" height="3" fill="#22331e"/>
<rect x="93" y="180" width="19" height="2" fill="#1c2618"/>
<rect x="93" y="182" width="19" height="2" fill="#293f22"/>
<rect x="93" y="184" width="19" height="3" fill="#31522a"/>
<rect x="93" y="187" width="19" height="2" fill="#3d6232"/>
<rect x="93" y="189" width="19" height="2" fill="#34572c"/>
<rect x="93" y="191" width="19" height="3" fill="#375b2e"/>
<rect x="93" y="194" width="19" height="2" fill="#25351f"/>
<rect x="93" y="196" width="19" height="2" fill="#25361f"/>
<rect x="93" y="198" width="19" height="2" fill="#21311d"/>
<rect x="93" y="200" width="19" height="3" fill="#3d6b34"/>
<rect x="93" y="203" width="19" height="2" fill="#294023"/>
<rect x="93" y="205" width="19" height="2" fill="#45793a"/>
<rect x="93" y="207" width="19" height="3" fill="#538e43"/>
<rect x="93" y="210" width="19" height="2" fill="#385b2e"/>
<rect x="93" y="212" width="19" height="2" fill="#511d19"/>
<rect x="93" y="214" width="19" height="2" fill="#3c1a16"/>
<rect x="93" y="216" width="19" height="3" fill="#293d23"/>
<rect x="93" y="219" width="19" height="2" fill="#2b4124"/>
<rect x="93" y="221" width="19" height="2" fill="#24331e"/>
<rect x="93" y="223" width="19" height="3" fill="#421714"/>
<rect x="93" y="226" width="19" height="2" fill="#253321"/>
<rect x="93" y="228" width="19" height="2" fill="#26341f"/>
<rect x="93" y="230" width="19" height="2" fill="#385c2f"/>
<rect x="93" y="232" width="19" height="3" fill="#581f1b"/>
<rect x="93" y="235" width="19" height="2" fill="#481614"/>
<rect x="93" y="237" width="19" height="2" fill="#1b2518"/>
<rect x="93" y="239" width="19" height="3" fill="#253321"/>
<rect x="93" y="242" width="19" height="2" fill="#3e7035"/>
<rect x="93" y="244" width="19" height="2" fill="#23311f"/>
<rect x="93" y="246" width="19" height="3" fill="#3d6d35"/>
<rect x="93" y="249" width="19" height="2" fill="#1a2316"/>
<rect x="93" y="251" width="19" height="2" fill="#222f1e"/>
<rect x="93" y="253" width="19" height="2" fill="#2b1d17"/>
<rect x="93" y="255" width="19" height="3" fill="#591917"/>
<rect x="93" y="258" width="19" height="2" fill="#671a18"/>
<rect x="93" y="260" width="19" height="2" fill="#32532a"/>
<rect x="93" y="262" width="19" height="3" fill="#1b1712"/>
<rect x="93" y="265" width="19" height="2" fill="#67ae4f"/>
<rect x="93" y="267" width="19" height="2" fill="#508c3f"/>
<rect x="93" y="269" width="19" height="2" fill="#559443"/>
<rect x="93" y="271" width="19" height="3" fill="#4b1715"/>
<rect x="93" y="274" width="19" height="2" fill="#192115"/>
<rect x="93" y="276" width="19" height="2" fill="#381814"/>
<rect x="93" y="278" width="19" height="3" fill="#3d6332"/>
<rect x="93" y="281" width="19" height="2" fill="#222f1e"/>
<rect x="93" y="283" width="19" height="2" fill="#263b20"/>
<rect x="93" y="285" width="19" height="2" fill="#375a2e"/>
<rect x="93" y="287" width="19" height="3" fill="#2e4b27"/>
<rect x="93" y="290" width="19" height="2" fill="#539142"/>
<rect x="93" y="292" width="19" height="2" fill="#25391f"/>
<rect x="93" y="294" width="19" height="3" fill="#2c4826"/>
<rect x="93" y="297" width="19" height="2" fill="#396431"/>
<rect x="93" y="299" width="19" height="2" fill="#253321"/>
<rect x="93" y="301" width="19" height="2" fill="#1e2d1b"/>
<rect x="93" y="303" width="19" height="3" fill="#263720"/>
<rect x="93" y="306" width="19" height="2" fill="#2e4c28"/>
<rect x="93" y="308" width="19" height="2" fill="#22321e"/>
<rect x="93" y="310" width="19" height="3" fill="#3d6e34"/>
<rect x="93" y="313" width="19" height="2" fill="#171e13"/>
<rect x="93" y="315" width="19" height="2" fill="#3c6c33"/>
<rect x="93" y="317" width="19" height="3" fill="#315129"/>
<rect x="93" y="320" width="19" height="2" fill="#4d1816"/>
<rect x="93" y="322" width="19" height="2" fill="#2d4a27"/>
<rect x="93" y="324" width="19" height="2" fill="#294323"/>
<rect x="93" y="326" width="19" height="3" fill="#34572c"/>
<rect x="93" y="329" width="19" height="2" fill="#528c42"/>
<rect x="93" y="331" width="19" height="2" fill="#3e6d35"/>
<rect x="93" y="333" width="19" height="3" fill="#23311f"/>
<rect x="93" y="336" width="19" height="2" fill="#487f3c"/>
<rect x="93" y="338" width="19" height="2" fill="#253a20"/>
<rect x="93" y="340" width="19" height="2" fill="#467b3a"/>
<rect x="93" y="342" width="19" height="3" fill="#181c14"/>
<rect x="93" y="345" width="19" height="2" fill="#511d19"/>
<rect x="93" y="347" width="19" height="2" fill="#441513"/>
<rect x="93" y="349" width="19" height="3" fill="#25341f"/>
<rect x="93" y="352" width="19" height="2" fill="#23311d"/>
<rect x="93" y="354" width="19" height="2" fill="#391d17"/>
<rect x="93" y="356" width="19" height="2" fill="#551e1a"/>
<rect x="93" y="358" width="19" height="3" fill="#2c4325"/>
<rect x="93" y="361" width="19" height="2" fill="#351b15"/>
<rect x="93" y="363" width="19" height="2" fill="#661e1c"/>
<rect x="93" y="365" width="19" height="3" fill="#1e281a"/>
<rect x="93" y="368" width="19" height="2" fill="#381814"/>
<rect x="93" y="370" width="19" height="2" fill="#701c1a"/>
<rect x="93" y="372" width="19" height="3" fill="#861a1a"/>
<rect x="93" y="375" width="19" height="2" fill="#3c1a16"/>
<rect x="93" y="377" width="19" height="2" fill="#631d1b"/>
<rect x="93" y="379" width="19" height="2" fill="#811c1a"/>
<rect x="93" y="381" width="19" height="3" fill="#3a1915"/>
<rect x="93" y="384" width="19" height="2" fill="#691a18"/>
<rect x="93" y="386" width="19" height="2" fill="#dc1f21"/>
<rect x="93" y="388" width="19" height="3" fill="#261913"/>
<rect x="93" y="391" width="19" height="2" fill="#4b1715"/>
<rect x="93" y="393" width="19" height="2" fill="#bb191b"/>
<rect x="93" y="395" width="19" height="2" fill="#c91b1d"/>
<rect x="93" y="397" width="19" height="3" fill="#6b1a18"/>
<rect x="93" y="400" width="19" height="2" fill="#7d1b19"/>
<rect x="112" y="150" width="20" height="2" fill="#34552b"/>
<rect x="112" y="152" width="20" height="3" fill="#1e1e17"/>
<rect x="112" y="155" width="20" height="2" fill="#212119"/>
<rect x="112" y="157" width="20" height="2" fill="#381d17"/>
<rect x="112" y="159" width="20" height="2" fill="#581917"/>
<rect x="112" y="161" width="20" height="3" fill="#3b6031"/>
<rect x="112" y="164" width="20" height="2" fill="#202019"/>
<rect x="112" y="166" width="20" height="2" fill="#351b16"/>
<rect x="112" y="168" width="20" height="3" fill="#3c1f18"/>
<rect x="112" y="171" width="20" height="2" fill="#2a3e24"/>
<rect x="112" y="173" width="20" height="2" fill="#375a2e"/>
<rect x="112" y="175" width="20" height="2" fill="#31522a"/>
<rect x="112" y="177" width="20" height="3" fill="#2a3e24"/>
<rect x="112" y="180" width="20" height="2" fill="#263921"/>
<rect x="112" y="182" width="20" height="2" fill="#23231b"/>
<rect x="112" y="184" width="20" height="3" fill="#212119"/>
<rect x="112" y="187" width="20" height="2" fill="#23231a"/>
<rect x="112" y="189" width="20" height="2" fill="#24331e"/>
<rect x="112" y="191" width="20" height="3" fill="#551816"/>
<rect x="112" y="194" width="20" height="2" fill="#821c1a"/>
<rect x="112" y="196" width="20" height="2" fill="#641e1c"/>
<rect x="112" y="198" width="20" height="2" fill="#a01e1e"/>
<rect x="112" y="200" width="20" height="3" fill="#501917"/>
<rect x="112" y="203" width="20" height="2" fill="#801c1a"/>
<rect x="112" y="205" width="20" height="2" fill="#6e1c1a"/>
<rect x="112" y="207" width="20" height="3" fill="#1f2e1c"/>
<rect x="112" y="210" width="20" height="2" fill="#491715"/>
<rect x="112" y="212" width="20" height="2" fill="#611b19"/>
<rect x="112" y="214" width="20" height="2" fill="#8e1c1c"/>
<rect x="112" y="216" width="20" height="3" fill="#601b19"/>
<rect x="112" y="219" width="20" height="2" fill="#3b1915"/>
<rect x="112" y="221" width="20" height="2" fill="#a31e1e"/>
<rect x="112" y="223" width="20" height="3" fill="#35582d"/>
<rect x="112" y="226" width="20" height="2" fill="#5e1c1a"/>
<rect x="112" y="228" width="20" height="2" fill="#641917"/>
<rect x="112" y="230" width="20" height="2" fill="#611b19"/>
<rect x="112" y="232" width="20" height="3" fill="#5b1917"/>
<rect x="112" y="235" width="20" height="2" fill="#311a16"/>
<rect x="112" y="237" width="20" height="2" fill="#3c6a34"/>
<rect x="112" y="239" width="20" height="3" fill="#407236"/>
<rect x="112" y="242" width="20" height="2" fill="#68b04f"/>
<rect x="112" y="244" width="20" height="2" fill="#5ba147"/>
<rect x="112" y="246" width="20" height="3" fill="#5ba047"/>
<rect x="112" y="249" width="20" height="2" fill="#3e6e35"/>
<rect x="112" y="251" width="20" height="2" fill="#1e2d1b"/>
<rect x="112" y="253" width="20" height="2" fill="#3d6d34"/>
<rect x="112" y="255" width="20" height="3" fill="#32522a"/>
<rect x="112" y="258" width="20" height="2" fill="#60a94b"/>
<rect x="112" y="260" width="20" height="2" fill="#589b45"/>
<rect x="112" y="262" width="20" height="3" fill="#549442"/>
<rect x="112" y="265" width="20" height="2" fill="#3c6a34"/>
<rect x="112" y="267" width="20" height="2" fill="#599d45"/>
<rect x="112" y="269" width="20" height="2" fill="#385c2f"/>
<rect x="112" y="271" width="20" height="3" fill="#36582d"/>
<rect x="112" y="274" width="20" height="2" fill="#1f1b14"/>
<rect x="112" y="276" width="20" height="2" fill="#294023"/>
<rect x="112" y="278" width="20" height="3" fill="#2a1c16"/>
<rect x="112" y="281" width="20" height="2" fill="#36592d"/>
<rect x="112" y="283" width="20" height="2" fill="#291b15"/>
<rect x="112" y="285" width="20" height="2" fill="#9e1d1d"/>
<rect x="112" y="287" width="20" height="3" fill="#591917"/>
<rect x="112" y="290" width="20" height="2" fill="#931b1b"/>
<rect x="112" y="292" width="20" height="2" fill="#3c1a16"/>
<rect x="112" y="294" width="20" height="3" fill="#681a18"/>
<rect x="112" y="297" width="20" height="2" fill="#381814"/>
<rect x="112" y="299" width="20" height="2" fill="#34552b"/>
<rect x="112" y="301" width="20" height="2" fill="#20301d"/>
<rect x="112" y="303" width="20" height="3" fill="#531715"/>
<rect x="112" y="306" width="20" height="2" fill="#691a18"/>
<rect x="112" y="308" width="20" height="2" fill="#23231b"/>
<rect x="112" y="310" width="20" height="3" fill="#311a16"/>
<rect x="112" y="313" width="20" height="2" fill="#4a1a16"/>
<rect x="112" y="315" width="20" height="2" fill="#2e4b27"/>
<rect x="112" y="317" width="20" height="3" fill="#451614"/>
<rect x="112" y="320" width="20" height="2" fill="#304828"/>
<rect x="112" y="322" width="20" height="2" fill="#2b4024"/>
<rect x="112" y="324" width="20" height="2" fill="#24321e"/>
<rect x="112" y="326" width="20" height="3" fill="#731c1a"/>
<rect x="112" y="329" width="20" height="2" fill="#3e7035"/>
<rect x="112" y="331" width="20" height="2" fill="#22321e"/>
<rect x="112" y="333" width="20" height="3" fill="#1e281a"/>
<rect x="112" y="336" width="20" height="2" fill="#3f7135"/>
<rect x="112" y="338" width="20" height="2" fill="#23331f"/>
<rect x="112" y="340" width="20" height="2" fill="#22331e"/>
<rect x="112" y="342" width="20" height="3" fill="#681a18"/>
<rect x="112" y="345" width="20" height="2" fill="#611d1b"/>
<rect x="112" y="347" width="20" height="2" fill="#4e1816"/>
<rect x="112" y="349" width="20" height="3" fill="#671918"/>
<rect x="112" y="352" width="20" height="2" fill="#361713"/>
<rect x="112" y="354" width="20" height="2" fill="#283f22"/>
<rect x="112" y="356" width="20" height="2" fill="#385c2f"/>
<rect x="112" y="358" width="20" height="3" fill="#701c1a"/>
<rect x="112" y="361" width="20" height="2" fill="#21311d"/>
<rect x="112" y="363" width="20" height="2" fill="#631d1b"/>
<rect x="112" y="365" width="20" height="3" fill="#611b19"/>
<rect x="112" y="368" width="20" height="2" fill="#651918"/>
<rect x="112" y="370" width="20" height="2" fill="#5d1c1a"/>
<rect x="112" y="372" width="20" height="3" fill="#3f1b17"/>
<rect x="112" y="375" width="20" height="2" fill="#721917"/>
<rect x="112" y="377" width="20" height="2" fill="#a21e1e"/>
<rect x="112" y="379" width="20" height="2" fill="#631d1b"/>
<rect x="112" y="381" width="20" height="3" fill="#1b1812"/>
<rect x="112" y="384" width="20" height="2" fill="#321b17"/>
<rect x="112" y="386" width="20" height="2" fill="#181b14"/>
<rect x="112" y="388" width="20" height="3" fill="#dd1f21"/>
<rect x="112" y="391" width="20" height="2" fill="#1a1e16"/>
<rect x="112" y="393" width="20" height="2" fill="#1c2618"/>
<rect x="112" y="395" width="20" height="2" fill="#4a1715"/>
<rect x="112" y="397" width="20" height="3" fill="#281a15"/>
<rect x="112" y="400" width="20" height="2" fill="#1f1b14"/>
<rect x="132" y="150" width="20" height="2" fill="#3c6b33"/>
<rect x="132" y="152" width="20" height="3" fill="#345d2e"/>
<rect x="132" y="155" width="20" height="2" fill="#497e3b"/>
<rect x="132" y="157" width="20" height="2" fill="#3a6732"/>
<rect x="132" y="159" width="20" height="2" fill="#31582c"/>
<rect x="132" y="161" width="20" height="3" fill="#1f2d1b"/>
<rect x="132" y="164" width="20" height="2" fill="#294323"/>
<rect x="132" y="166" width="20" height="2" fill="#1e2d1b"/>
<rect x="132" y="168" width="20" height="3" fill="#2a4625"/>
<rect x="132" y="171" width="20" height="2" fill="#281a15"/>
<rect x="132" y="173" width="20" height="2" fill="#1b2518"/>
<rect x="132" y="175" width="20" height="2" fill="#1c2618"/>
<rect x="132" y="177" width="20" height="3" fill="#32532a"/>
<rect x="132" y="180" width="20" height="2" fill="#2f4e28"/>
<rect x="132" y="182" width="20" height="2" fill="#621d1b"/>
<rect x="132" y="184" width="20" height="3" fill="#381814"/>
<rect x="132" y="187" width="20" height="2" fill="#1e1a14"/>
<rect x="132" y="189" width="20" height="2" fill="#381814"/>
<rect x="132" y="191" width="20" height="3" fill="#671918"/>
<rect x="132" y="194" width="20" height="2" fill="#23311f"/>
<rect x="132" y="196" width="20" height="2" fill="#271a14"/>
<rect x="132" y="198" width="20" height="2" fill="#1e291a"/>
<rect x="132" y="200" width="20" height="3" fill="#1e1a14"/>
<rect x="132" y="203" width="20" height="2" fill="#721c1a"/>
<rect x="132" y="205" width="20" height="2" fill="#bf1a1c"/>
<rect x="132" y="207" width="20" height="3" fill="#ca1c1e"/>
<rect x="132" y="210" width="20" height="2" fill="#631d1b"/>
<rect x="132" y="212" width="20" height="2" fill="#cf1d1f"/>
<rect x="132" y="214" width="20" height="2" fill="#ca1c1e"/>
<rect x="132" y="216" width="20" height="3" fill="#6e1b19"/>
<rect x="132" y="219" width="20" height="2" fill="#811c1a"/>
<rect x="132" y="221" width="20" height="2" fill="#c41b1d"/>
<rect x="132" y="223" width="20" height="3" fill="#1e281a"/>
<rect x="132" y="226" width="20" height="2" fill="#202f1c"/>
<rect x="132" y="228" width="20" height="2" fill="#1c2618"/>
<rect x="132" y="230" width="20" height="2" fill="#761d1b"/>
<rect x="132" y="232" width="20" height="3" fill="#3b1915"/>
<rect x="132" y="235" width="20" height="2" fill="#192015"/>
<rect x="132" y="237" width="20" height="2" fill="#36582c"/>
<rect x="132" y="239" width="20" height="3" fill="#3e6f34"/>
<rect x="132" y="242" width="20" height="2" fill="#447a39"/>
<rect x="132" y="244" width="20" height="2" fill="#4f8740"/>
<rect x="132" y="246" width="20" height="3" fill="#386230"/>
<rect x="132" y="249" width="20" height="2" fill="#549442"/>
<rect x="132" y="251" width="20" height="2" fill="#5da449"/>
<rect x="132" y="253" width="20" height="2" fill="#569843"/>
<rect x="132" y="255" width="20" height="3" fill="#3f7135"/>
<rect x="132" y="258" width="20" height="2" fill="#182014"/>
<rect x="132" y="260" width="20" height="2" fill="#4d8740"/>
<rect x="132" y="262" width="20" height="3" fill="#284223"/>
<rect x="132" y="265" width="20" height="2" fill="#386331"/>
<rect x="132" y="267" width="20" height="2" fill="#22331e"/>
<rect x="132" y="269" width="20" height="2" fill="#22321e"/>
<rect x="132" y="271" width="20" height="3" fill="#1c1812"/>
<rect x="132" y="274" width="20" height="2" fill="#3b1915"/>
<rect x="132" y="276" width="20" height="2" fill="#191d15"/>
<rect x="132" y="278" width="20" height="3" fill="#1e1a14"/>
<rect x="132" y="281" width="20" height="2" fill="#376230"/>
<rect x="132" y="283" width="20" height="2" fill="#294323"/>
<rect x="132" y="285" width="20" height="2" fill="#396531"/>
<rect x="132" y="287" width="20" height="3" fill="#24391f"/>
<rect x="132" y="290" width="20" height="2" fill="#441814"/>
<rect x="132" y="292" width="20" height="2" fill="#23301d"/>
<rect x="132" y="294" width="20" height="3" fill="#341b15"/>
<rect x="132" y="297" width="20" height="2" fill="#181c15"/>
<rect x="132" y="299" width="20" height="2" fill="#212e1b"/>
<rect x="132" y="301" width="20" height="2" fill="#2b4725"/>
<rect x="132" y="303" width="20" height="3" fill="#3a1e18"/>
<rect x="132" y="306" width="20" height="2" fill="#24321e"/>
<rect x="132" y="308" width="20" height="2" fill="#361713"/>
<rect x="132" y="310" width="20" height="3" fill="#4c1b17"/>
<rect x="132" y="313" width="20" height="2" fill="#2b3f25"/>
<rect x="132" y="315" width="20" height="2" fill="#4a1715"/>
<rect x="132" y="317" width="20" height="3" fill="#371c16"/>
<rect x="132" y="320" width="20" height="2" fill="#361713"/>
<rect x="132" y="322" width="20" height="2" fill="#273d21"/>
<rect x="132" y="324" width="20" height="2" fill="#541716"/>
<rect x="132" y="326" width="20" height="3" fill="#293f23"/>
<rect x="132" y="329" width="20" height="2" fill="#23311f"/>
<rect x="132" y="331" width="20" height="2" fill="#37592d"/>
<rect x="132" y="333" width="20" height="3" fill="#335b2d"/>
<rect x="132" y="336" width="20" height="2" fill="#283e22"/>
<rect x="132" y="338" width="20" height="2" fill="#31522a"/>
<rect x="132" y="340" width="20" height="2" fill="#1a2216"/>
<rect x="132" y="342" width="20" height="3" fill="#35562b"/>
<rect x="132" y="345" width="20" height="2" fill="#528d42"/>
<rect x="132" y="347" width="20" height="2" fill="#355e2f"/>
<rect x="132" y="349" width="20" height="3" fill="#171e13"/>
<rect x="132" y="352" width="20" height="2" fill="#1b2417"/>
<rect x="132" y="354" width="20" height="2" fill="#395c2f"/>
<rect x="132" y="356" width="20" height="2" fill="#711917"/>
<rect x="132" y="358" width="20" height="3" fill="#971c1c"/>
<rect x="132" y="361" width="20" height="2" fill="#831d1b"/>
<rect x="132" y="363" width="20" height="2" fill="#9f1d1d"/>
<rect x="132" y="365" width="20" height="3" fill="#2a1c16"/>
<rect x="132" y="368" width="20" height="2" fill="#a51f1f"/>
<rect x="132" y="370" width="20" height="2" fill="#931b1b"/>
<rect x="132" y="372" width="20" height="3" fill="#801c1a"/>
<rect x="132" y="375" width="20" height="2" fill="#6d1b19"/>
<rect x="132" y="377" width="20" height="2" fill="#581917"/>
<rect x="132" y="379" width="20" height="2" fill="#911b1b"/>
<rect x="132" y="381" width="20" height="3" fill="#2a1c16"/>
<rect x="132" y="384" width="20" height="2" fill="#5c1b19"/>
<rect x="132" y="386" width="20" height="2" fill="#2d4a27"/>
<rect x="132" y="388" width="20" height="3" fill="#681f1d"/>
<rect x="132" y="391" width="20" height="2" fill="#24381f"/>
<rect x="132" y="393" width="20" height="2" fill="#191d15"/>
<rect x="132" y="395" width="20" height="2" fill="#2b4725"/>
<rect x="132" y="397" width="20" height="3" fill="#191d15"/>
<rect x="132" y="400" width="20" height="2" fill="#1d1913"/>
<rect x="152" y="150" width="20" height="2" fill="#569245"/>
<rect x="152" y="152" width="20" height="3" fill="#437939"/>
<rect x="152" y="155" width="20" height="2" fill="#1b2316"/>
<rect x="152" y="157" width="20" height="2" fill="#579944"/>
<rect x="152" y="159" width="20" height="2" fill="#21301d"/>
<rect x="152" y="161" width="20" height="3" fill="#1f2e1c"/>
<rect x="152" y="164" width="20" height="2" fill="#1f1a14"/>
<rect x="152" y="166" width="20" height="2" fill="#271a14"/>
<rect x="152" y="168" width="20" height="3" fill="#5a9f46"/>
<rect x="152" y="171" width="20" height="2" fill="#386331"/>
<rect x="152" y="173" width="20" height="2" fill="#529041"/>
<rect x="152" y="175" width="20" height="2" fill="#4e883d"/>
<rect x="152" y="177" width="20" height="3" fill="#559543"/>
<rect x="152" y="180" width="20" height="2" fill="#559543"/>
<rect x="152" y="182" width="20" height="2" fill="#20301c"/>
<rect x="152" y="184" width="20" height="3" fill="#4e863f"/>
<rect x="152" y="187" width="20" height="2" fill="#508840"/>
<rect x="152" y="189" width="20" height="2" fill="#3c6b34"/>
<rect x="152" y="191" width="20" height="3" fill="#437839"/>
<rect x="152" y="194" width="20" height="2" fill="#22321e"/>
<rect x="152" y="196" width="20" height="2" fill="#528f41"/>
<rect x="152" y="198" width="20" height="2" fill="#2a3d23"/>
<rect x="152" y="200" width="20" height="3" fill="#20301c"/>
<rect x="152" y="203" width="20" height="2" fill="#365f2e"/>
<rect x="152" y="205" width="20" height="2" fill="#3c6c33"/>
<rect x="152" y="207" width="20" height="3" fill="#273c21"/>
<rect x="152" y="210" width="20" height="2" fill="#49803d"/>
<rect x="152" y="212" width="20" height="2" fill="#345d2e"/>
<rect x="152" y="214" width="20" height="2" fill="#23331f"/>
<rect x="152" y="216" width="20" height="3" fill="#30562b"/>
<rect x="152" y="219" width="20" height="2" fill="#4a823e"/>
<rect x="152" y="221" width="20" height="2" fill="#283a22"/>
<rect x="152" y="223" width="20" height="3" fill="#528f41"/>
<rect x="152" y="226" width="20" height="2" fill="#2b4625"/>
<rect x="152" y="228" width="20" height="2" fill="#447939"/>
<rect x="152" y="230" width="20" height="2" fill="#538e43"/>
<rect x="152" y="232" width="20" height="3" fill="#661e1c"/>
<rect x="152" y="235" width="20" height="2" fill="#711c1a"/>
<rect x="152" y="237" width="20" height="2" fill="#1d1913"/>
<rect x="152" y="239" width="20" height="3" fill="#253421"/>
<rect x="152" y="242" width="20" height="2" fill="#461614"/>
<rect x="152" y="244" width="20" height="2" fill="#171b14"/>
<rect x="152" y="246" width="20" height="3" fill="#64a84c"/>
<rect x="152" y="249" width="20" height="2" fill="#457939"/>
<rect x="152" y="251" width="20" height="2" fill="#5c9c47"/>
<rect x="152" y="253" width="20" height="2" fill="#531715"/>
<rect x="152" y="255" width="20" height="3" fill="#261914"/>
<rect x="152" y="258" width="20" height="2" fill="#4c1816"/>
<rect x="152" y="260" width="20" height="2" fill="#491715"/>
<rect x="152" y="262" width="20" height="3" fill="#3e1a16"/>
<rect x="152" y="265" width="20" height="2" fill="#631917"/>
<rect x="152" y="267" width="20" height="2" fill="#5f1a18"/>
<rect x="152" y="269" width="20" height="2" fill="#1e291a"/>
<rect x="152" y="271" width="20" height="3" fill="#1f2a1b"/>
<rect x="152" y="274" width="20" height="2" fill="#355f2f"/>
<rect x="152" y="276" width="20" height="2" fill="#2b4625"/>
<rect x="152" y="278" width="20" height="3" fill="#273d21"/>
<rect x="152" y="281" width="20" height="2" fill="#2b4725"/>
<rect x="152" y="283" width="20" height="2" fill="#1f2e1b"/>
<rect x="152" y="285" width="20" height="2" fill="#351c18"/>
<rect x="152" y="287" width="20" height="3" fill="#36592d"/>
<rect x="152" y="290" width="20" height="2" fill="#1f2e1c"/>
<rect x="152" y="292" width="20" height="2" fill="#5d1a18"/>
<rect x="152" y="294" width="20" height="3" fill="#d21d1f"/>
<rect x="152" y="297" width="20" height="2" fill="#de1f21"/>
<rect x="152" y="299" width="20" height="2" fill="#a71f1f"/>
<rect x="152" y="301" width="20" height="2" fill="#c11b1d"/>
<rect x="152" y="303" width="20" height="3" fill="#5f1c1a"/>
<rect x="152" y="306" width="20" height="2" fill="#7c1b19"/>
<rect x="152" y="308" width="20" height="2" fill="#381814"/>
<rect x="152" y="310" width="20" height="3" fill="#bf1a1c"/>
<rect x="152" y="313" width="20" height="2" fill="#6a1b19"/>
<rect x="152" y="315" width="20" height="2" fill="#b9191b"/>
<rect x="152" y="317" width="20" height="3" fill="#8d1b1b"/>
<rect x="152" y="320" width="20" height="2" fill="#641917"/>
<rect x="152" y="322" width="20" height="2" fill="#bc1a1c"/>
<rect x="152" y="324" width="20" height="2" fill="#d31d1f"/>
<rect x="152" y="326" width="20" height="3" fill="#bd191b"/>
<rect x="152" y="329" width="20" height="2" fill="#6b1b19"/>
<rect x="152" y="331" width="20" height="2" fill="#db1f21"/>
<rect x="152" y="333" width="20" height="3" fill="#661a18"/>
<rect x="152" y="336" width="20" height="2" fill="#c41b1d"/>
<rect x="152" y="338" width="20" height="2" fill="#d61e20"/>
<rect x="152" y="340" width="20" height="2" fill="#271a14"/>
<rect x="152" y="342" width="20" height="3" fill="#361d19"/>
<rect x="152" y="345" width="20" height="2" fill="#681a18"/>
<rect x="152" y="347" width="20" height="2" fill="#2f4d27"/>
<rect x="152" y="349" width="20" height="3" fill="#7b1b19"/>
<rect x="152" y="352" width="20" height="2" fill="#601c1a"/>
<rect x="152" y="354" width="20" height="2" fill="#711c1a"/>
<rect x="152" y="356" width="20" height="2" fill="#1a1e16"/>
<rect x="152" y="358" width="20" height="3" fill="#851a1a"/>
<rect x="152" y="361" width="20" height="2" fill="#691f1d"/>
<rect x="152" y="363" width="20" height="2" fill="#447739"/>
<rect x="152" y="365" width="20" height="3" fill="#35592d"/>
<rect x="152" y="368" width="20" height="2" fill="#253a20"/>
<rect x="152" y="370" width="20" height="2" fill="#35582d"/>
<rect x="152" y="372" width="20" height="3" fill="#2f4e27"/>
<rect x="152" y="375" width="20" height="2" fill="#263b20"/>
<rect x="152" y="377" width="20" height="2" fill="#192115"/>
<rect x="152" y="379" width="20" height="2" fill="#34562c"/>
<rect x="152" y="381" width="20" height="3" fill="#263720"/>
<rect x="152" y="384" width="20" height="2" fill="#294023"/>
<rect x="152" y="386" width="20" height="2" fill="#3a5e30"/>
<rect x="152" y="388" width="20" height="3" fill="#202d1c"/>
<rect x="152" y="391" width="20" height="2" fill="#1c2619"/>
<rect x="152" y="393" width="20" height="2" fill="#291b15"/>
<rect x="152" y="395" width="20" height="2" fill="#361713"/>
<rect x="152" y="397" width="20" height="3" fill="#2a1c16"/>
<rect x="152" y="400" width="20" height="2" fill="#1c2518"/>
<rect x="172" y="150" width="20" height="2" fill="#243320"/>
<rect x="172" y="152" width="20" height="3" fill="#293f22"/>
<rect x="172" y="155" width="20" height="2" fill="#294424"/>
<rect x="172" y="157" width="20" height="2" fill="#3c6b34"/>
<rect x="172" y="159" width="20" height="2" fill="#293f22"/>
<rect x="172" y="161" width="20" height="3" fill="#3b6031"/>
<rect x="172" y="164" width="20" height="2" fill="#1e281a"/>
<rect x="172" y="166" width="20" height="2" fill="#2c4926"/>
<rect x="172" y="168" width="20" height="3" fill="#291b15"/>
<rect x="172" y="171" width="20" height="2" fill="#549044"/>
<rect x="172" y="173" width="20" height="2" fill="#22321e"/>
<rect x="172" y="175" width="20" height="2" fill="#36602f"/>
<rect x="172" y="177" width="20" height="3" fill="#6ab351"/>
<rect x="172" y="180" width="20" height="2" fill="#32592c"/>
<rect x="172" y="182" width="20" height="2" fill="#335a2d"/>
<rect x="172" y="184" width="20" height="3" fill="#407336"/>
<rect x="172" y="187" width="20" height="2" fill="#1f2e1c"/>
<rect x="172" y="189" width="20" height="2" fill="#1d2719"/>
<rect x="172" y="191" width="20" height="3" fill="#386330"/>
<rect x="172" y="194" width="20" height="2" fill="#4d873d"/>
<rect x="172" y="196" width="20" height="2" fill="#34552b"/>
<rect x="172" y="198" width="20" height="2" fill="#467c3b"/>
<rect x="172" y="200" width="20" height="3" fill="#4a7f3c"/>
<rect x="172" y="203" width="20" height="2" fill="#528c42"/>
<rect x="172" y="205" width="20" height="2" fill="#23311f"/>
<rect x="172" y="207" width="20" height="3" fill="#1c2618"/>
<rect x="172" y="210" width="20" height="2" fill="#1b2316"/>
<rect x="172" y="212" width="20" height="2" fill="#447739"/>
<rect x="172" y="214" width="20" height="2" fill="#2e4b28"/>
<rect x="172" y="216" width="20" height="3" fill="#49803d"/>
<rect x="172" y="219" width="20" height="2" fill="#243320"/>
<rect x="172" y="221" width="20" height="2" fill="#192015"/>
<rect x="172" y="223" width="20" height="3" fill="#31522a"/>
<rect x="172" y="226" width="20" height="2" fill="#417537"/>
<rect x="172" y="228" width="20" height="2" fill="#293c23"/>
<rect x="172" y="230" width="20" height="2" fill="#5f1a18"/>
<rect x="172" y="232" width="20" height="3" fill="#5e1a18"/>
<rect x="172" y="235" width="20" height="2" fill="#1b1f17"/>
<rect x="172" y="237" width="20" height="2" fill="#1b1812"/>
<rect x="172" y="239" width="20" height="3" fill="#501917"/>
<rect x="172" y="242" width="20" height="2" fill="#4f1c18"/>
<rect x="172" y="244" width="20" height="2" fill="#23311d"/>
<rect x="172" y="246" width="20" height="3" fill="#561e1a"/>
<rect x="172" y="249" width="20" height="2" fill="#621d1b"/>
<rect x="172" y="251" width="20" height="2" fill="#571f1a"/>
<rect x="172" y="253" width="20" height="2" fill="#273d21"/>
<rect x="172" y="255" width="20" height="3" fill="#691f1d"/>
<rect x="172" y="258" width="20" height="2" fill="#4f1c18"/>
<rect x="172" y="260" width="20" height="2" fill="#22301d"/>
<rect x="172" y="262" width="20" height="3" fill="#3c1a16"/>
<rect x="172" y="265" width="20" height="2" fill="#671918"/>
<rect x="172" y="267" width="20" height="2" fill="#431814"/>
<rect x="172" y="269" width="20" height="2" fill="#391d17"/>
<rect x="172" y="271" width="20" height="3" fill="#212119"/>
<rect x="172" y="274" width="20" height="2" fill="#701c1a"/>
<rect x="172" y="276" width="20" height="2" fill="#5f1b18"/>
<rect x="172" y="278" width="20" height="3" fill="#381814"/>
<rect x="172" y="281" width="20" height="2" fill="#7b1b19"/>
<rect x="172" y="283" width="20" height="2" fill="#3c1a16"/>
<rect x="172" y="285" width="20" height="2" fill="#661e1c"/>
<rect x="172" y="287" width="20" height="3" fill="#961c1c"/>
<rect x="172" y="290" width="20" height="2" fill="#6f1c1a"/>
<rect x="172" y="292" width="20" height="2" fill="#2f1916"/>
<rect x="172" y="294" width="20" height="3" fill="#1b2518"/>
<rect x="172" y="297" width="20" height="2" fill="#1d2719"/>
<rect x="172" y="299" width="20" height="2" fill="#1c2618"/>
<rect x="172" y="301" width="20" height="2" fill="#34552b"/>
<rect x="172" y="303" width="20" height="3" fill="#253321"/>
<rect x="172" y="306" width="20" height="2" fill="#2f4e28"/>
<rect x="172" y="308" width="20" height="2" fill="#181f14"/>
<rect x="172" y="310" width="20" height="3" fill="#273c21"/>
<rect x="172" y="313" width="20" height="2" fill="#284223"/>
<rect x="172" y="315" width="20" height="2" fill="#651918"/>
<rect x="172" y="317" width="20" height="3" fill="#8a1b1b"/>
<rect x="172" y="320" width="20" height="2" fill="#441513"/>
<rect x="172" y="322" width="20" height="2" fill="#4f1816"/>
<rect x="172" y="324" width="20" height="2" fill="#471614"/>
<rect x="172" y="326" width="20" height="3" fill="#9b1d1d"/>
<rect x="172" y="329" width="20" height="2" fill="#171e13"/>
<rect x="172" y="331" width="20" height="2" fill="#1c2618"/>
<rect x="172" y="333" width="20" height="3" fill="#2c4826"/>
<rect x="172" y="336" width="20" height="2" fill="#305029"/>
<rect x="172" y="338" width="20" height="2" fill="#2b4625"/>
<rect x="172" y="340" width="20" height="2" fill="#1c2518"/>
<rect x="172" y="342" width="20" height="3" fill="#b91a1b"/>
<rect x="172" y="345" width="20" height="2" fill="#b4191b"/>
<rect x="172" y="347" width="20" height="2" fill="#c01a1c"/>
<rect x="172" y="349" width="20" height="3" fill="#be1a1c"/>
<rect x="172" y="352" width="20" height="2" fill="#b5191b"/>
<rect x="172" y="354" width="20" height="2" fill="#6a1b19"/>
<rect x="172" y="356" width="20" height="2" fill="#7a1b19"/>
<rect x="172" y="358" width="20" height="3" fill="#3e1b17"/>
<rect x="172" y="361" width="20" height="2" fill="#361714"/>
<rect x="172" y="363" width="20" height="2" fill="#811c1a"/>
<rect x="172" y="365" width="20" height="3" fill="#641917"/>
<rect x="172" y="368" width="20" height="2" fill="#6b1b19"/>
<rect x="172" y="370" width="20" height="2" fill="#391815"/>
<rect x="172" y="372" width="20" height="3" fill="#25391f"/>
<rect x="172" y="375" width="20" height="2" fill="#841d1b"/>
<rect x="172" y="377" width="20" height="2" fill="#6a1a18"/>
<rect x="172" y="379" width="20" height="2" fill="#284122"/>
<rect x="172" y="381" width="20" height="3" fill="#273d21"/>
<rect x="172" y="384" width="20" height="2" fill="#a51f1f"/>
<rect x="172" y="386" width="20" height="2" fill="#202f1c"/>
<rect x="172" y="388" width="20" height="3" fill="#6c1b19"/>
<rect x="172" y="391" width="20" height="2" fill="#1e1a14"/>
<rect x="172" y="393" width="20" height="2" fill="#311a16"/>
<rect x="172" y="395" width="20" height="2" fill="#3e1b17"/>
<rect x="172" y="397" width="20" height="3" fill="#1d1913"/>
<rect x="172" y="400" width="20" height="2" fill="#311a16"/>
</g>
<text x="216.6" y="99.4" font-size="17" font-weight="bold" font-style="normal" text-anchor="start" fill="#000" >C</text>
<polyline points="267.6,138.3 267.6,128.8 285.3,128.8 285.3,138.3" fill="none" stroke="#000" stroke-width="1.4" stroke-linejoin="miter" stroke-linecap="butt"/>
<polyline points="276.45000000000005,128.8 276.45000000000005,125.2 302.8,125.2 302.8,138.3" fill="none" stroke="#000" stroke-width="1.4" stroke-linejoin="miter" stroke-linecap="butt"/>
<polyline points="289.625,125.2 289.625,123.4 320.5,123.4 320.5,138.3" fill="none" stroke="#000" stroke-width="1.4" stroke-linejoin="miter" stroke-linecap="butt"/>
<polyline points="305.0625,123.4 305.0625,118.5 337.6,118.5 337.6,138.3" fill="none" stroke="#000" stroke-width="1.4" stroke-linejoin="miter" stroke-linecap="butt"/>
<polyline points="355.2,138.3 355.2,126.5 372.7,126.5 372.7,138.3" fill="none" stroke="#000" stroke-width="1.4" stroke-linejoin="miter" stroke-linecap="butt"/>
<polyline points="390.1,138.3 390.1,126.5 407.6,126.5 407.6,138.3" fill="none" stroke="#000" stroke-width="1.4" stroke-linejoin="miter" stroke-linecap="butt"/>
<polyline points="363.95,126.5 363.95,122.7 398.85,122.7 398.85,126.5" fill="none" stroke="#000" stroke-width="1.4" stroke-linejoin="miter" stroke-linecap="butt"/>
<polyline points="425.4,138.3 425.4,125.6 442.7,125.6 442.7,138.3" fill="none" stroke="#000" stroke-width="1.4" stroke-linejoin="miter" stroke-linecap="butt"/>
<polyline points="477.7,138.3 477.7,126.5 495.5,126.5 495.5,138.3" fill="none" stroke="#000" stroke-width="1.4" stroke-linejoin="miter" stroke-linecap="butt"/>
<polyline points="460.3,138.3 460.3,123.9 486.6,123.9 486.6,126.5" fill="none" stroke="#000" stroke-width="1.4" stroke-linejoin="miter" stroke-linecap="butt"/>
<polyline points="434.04999999999995,125.6 434.04999999999995,123.0 473.45000000000005,123.0 473.45000000000005,123.9" fill="none" stroke="#000" stroke-width="1.4" stroke-linejoin="miter" stroke-linecap="butt"/>
<polyline points="381.4,122.7 381.4,121.1 453.75,121.1 453.75,123.0" fill="none" stroke="#000" stroke-width="1.4" stroke-linejoin="miter" stroke-linecap="butt"/>
<polyline points="321.33125,118.5 321.33125,100.2 417.575,100.2 417.575,121.1" fill="none" stroke="#000" stroke-width="1.4" stroke-linejoin="miter" stroke-linecap="butt"/>
<rect x="258.5" y="138.3" width="17.76" height="7.599999999999994" fill="#4c9a48" />
<rect x="275.86" y="138.3" width="17.76" height="7.599999999999994" fill="#bb2229" />
<rect x="293.23" y="138.3" width="17.76" height="7.599999999999994" fill="#4c9a48" />
<rect x="310.59" y="138.3" width="17.76" height="7.599999999999994" fill="#bb2229" />
<rect x="327.96" y="138.3" width="17.76" height="7.599999999999994" fill="#4c9a48" />
<rect x="345.32" y="138.3" width="17.76" height="7.599999999999994" fill="#bb2229" />
<rect x="362.69" y="138.3" width="17.76" height="7.599999999999994" fill="#bb2229" />
<rect x="380.05" y="138.3" width="17.76" height="7.599999999999994" fill="#4c9a48" />
<rect x="397.41" y="138.3" width="17.76" height="7.599999999999994" fill="#0a0a0a" />
<rect x="414.78" y="138.3" width="17.76" height="7.599999999999994" fill="#0a0a0a" />
<rect x="432.14" y="138.3" width="17.76" height="7.599999999999994" fill="#0a0a0a" />
<rect x="449.51" y="138.3" width="17.76" height="7.599999999999994" fill="#4c9a48" />
<rect x="466.87" y="138.3" width="17.76" height="7.599999999999994" fill="#bb2229" />
<rect x="484.24" y="138.3" width="17.76" height="7.599999999999994" fill="#bb2229" />
<rect x="258.5" y="145.9" width="243.1" height="2.1" fill="#f4f8f2" />
<g shape-rendering="crispEdges">
<rect x="258" y="148" width="18" height="2" fill="#3c6b33"/>
<rect x="258" y="150" width="18" height="2" fill="#4e893e"/>
<rect x="258" y="152" width="18" height="2" fill="#4a853d"/>
<rect x="258" y="154" width="18" height="2" fill="#3b6a33"/>
<rect x="258" y="156" width="18" height="2" fill="#2b4725"/>
<rect x="258" y="158" width="18" height="2" fill="#417737"/>
<rect x="258" y="160" width="18" height="2" fill="#508c40"/>
<rect x="258" y="162" width="18" height="2" fill="#33552b"/>
<rect x="258" y="164" width="18" height="2" fill="#284122"/>
<rect x="258" y="166" width="18" height="2" fill="#33552b"/>
<rect x="258" y="168" width="18" height="2" fill="#263c20"/>
<rect x="258" y="170" width="18" height="2" fill="#36612e"/>
<rect x="258" y="172" width="18" height="2" fill="#427838"/>
<rect x="258" y="174" width="18" height="2" fill="#3b6c32"/>
<rect x="258" y="176" width="18" height="2" fill="#427938"/>
<rect x="258" y="178" width="18" height="2" fill="#467f3a"/>
<rect x="258" y="180" width="18" height="2" fill="#589c45"/>
<rect x="258" y="182" width="18" height="2" fill="#487f3a"/>
<rect x="258" y="184" width="18" height="2" fill="#559743"/>
<rect x="258" y="186" width="18" height="2" fill="#4c863d"/>
<rect x="258" y="188" width="18" height="2" fill="#487f3a"/>
<rect x="258" y="190" width="18" height="2" fill="#3b6a31"/>
<rect x="258" y="192" width="18" height="2" fill="#457e3b"/>
<rect x="258" y="194" width="18" height="2" fill="#3c6e33"/>
<rect x="258" y="196" width="18" height="2" fill="#3c6d32"/>
<rect x="258" y="198" width="18" height="2" fill="#48833c"/>
<rect x="258" y="200" width="18" height="2" fill="#35602e"/>
<rect x="258" y="202" width="18" height="2" fill="#457d3a"/>
<rect x="258" y="204" width="18" height="2" fill="#4d873d"/>
<rect x="258" y="206" width="18" height="2" fill="#407435"/>
<rect x="258" y="208" width="18" height="2" fill="#37622f"/>
<rect x="258" y="210" width="18" height="2" fill="#559642"/>
<rect x="258" y="212" width="18" height="2" fill="#569644"/>
<rect x="258" y="214" width="18" height="2" fill="#32532a"/>
<rect x="258" y="216" width="18" height="2" fill="#396532"/>
<rect x="258" y="218" width="18" height="2" fill="#427537"/>
<rect x="258" y="220" width="18" height="2" fill="#539142"/>
<rect x="258" y="222" width="18" height="2" fill="#69b150"/>
<rect x="258" y="224" width="18" height="2" fill="#315129"/>
<rect x="258" y="226" width="18" height="2" fill="#36612e"/>
<rect x="258" y="228" width="18" height="2" fill="#36602e"/>
<rect x="258" y="230" width="18" height="2" fill="#4f8b3f"/>
<rect x="258" y="232" width="18" height="2" fill="#549442"/>
<rect x="258" y="234" width="18" height="2" fill="#5fa149"/>
<rect x="258" y="236" width="18" height="2" fill="#62a64b"/>
<rect x="258" y="238" width="18" height="2" fill="#60a249"/>
<rect x="258" y="240" width="18" height="2" fill="#3c6e33"/>
<rect x="258" y="242" width="18" height="2" fill="#396731"/>
<rect x="258" y="244" width="18" height="2" fill="#49843d"/>
<rect x="258" y="246" width="18" height="2" fill="#2f4e28"/>
<rect x="258" y="248" width="18" height="2" fill="#3d6e33"/>
<rect x="258" y="250" width="18" height="2" fill="#3f7235"/>
<rect x="258" y="252" width="18" height="2" fill="#3e7034"/>
<rect x="258" y="254" width="18" height="2" fill="#3c6d34"/>
<rect x="258" y="256" width="18" height="2" fill="#407536"/>
<rect x="258" y="258" width="18" height="2" fill="#417636"/>
<rect x="258" y="260" width="18" height="2" fill="#4a7f3c"/>
<rect x="258" y="262" width="18" height="2" fill="#61ab4c"/>
<rect x="258" y="264" width="18" height="2" fill="#447b3a"/>
<rect x="258" y="266" width="18" height="2" fill="#4f8a3e"/>
<rect x="258" y="268" width="18" height="2" fill="#3b6b31"/>
<rect x="258" y="270" width="18" height="2" fill="#447c3a"/>
<rect x="258" y="272" width="18" height="2" fill="#447c3a"/>
<rect x="258" y="274" width="18" height="2" fill="#3a6832"/>
<rect x="258" y="276" width="18" height="2" fill="#417737"/>
<rect x="258" y="278" width="18" height="2" fill="#6ab351"/>
<rect x="258" y="280" width="18" height="2" fill="#539243"/>
<rect x="258" y="282" width="18" height="2" fill="#4d873e"/>
<rect x="258" y="284" width="18" height="2" fill="#407537"/>
<rect x="258" y="286" width="18" height="2" fill="#3d6f33"/>
<rect x="258" y="288" width="18" height="2" fill="#4b883f"/>
<rect x="258" y="290" width="18" height="2" fill="#5a9d47"/>
<rect x="258" y="292" width="18" height="2" fill="#3f7335"/>
<rect x="258" y="294" width="18" height="2" fill="#4f8b3f"/>
<rect x="258" y="296" width="18" height="2" fill="#4e893e"/>
<rect x="258" y="298" width="18" height="2" fill="#508c40"/>
<rect x="258" y="300" width="18" height="2" fill="#529041"/>
<rect x="258" y="302" width="18" height="2" fill="#4a873e"/>
<rect x="258" y="304" width="18" height="3" fill="#3c6c34"/>
<rect x="258" y="307" width="18" height="2" fill="#467f3a"/>
<rect x="258" y="309" width="18" height="2" fill="#427938"/>
<rect x="258" y="311" width="18" height="2" fill="#3f7335"/>
<rect x="258" y="313" width="18" height="2" fill="#731c1a"/>
<rect x="258" y="315" width="18" height="2" fill="#6e1c1a"/>
<rect x="258" y="317" width="18" height="2" fill="#681a18"/>
<rect x="258" y="319" width="18" height="2" fill="#821d1b"/>
<rect x="258" y="321" width="18" height="2" fill="#b5181a"/>
<rect x="258" y="323" width="18" height="2" fill="#ab1719"/>
<rect x="258" y="325" width="18" height="2" fill="#911c1c"/>
<rect x="258" y="327" width="18" height="2" fill="#a41e1e"/>
<rect x="258" y="329" width="18" height="2" fill="#891b1b"/>
<rect x="258" y="331" width="18" height="2" fill="#841d1b"/>
<rect x="258" y="333" width="18" height="2" fill="#a51e1e"/>
<rect x="258" y="335" width="18" height="2" fill="#5d1a18"/>
<rect x="258" y="337" width="18" height="2" fill="#551816"/>
<rect x="258" y="339" width="18" height="2" fill="#4a1715"/>
<rect x="258" y="341" width="18" height="2" fill="#3b1915"/>
<rect x="258" y="343" width="18" height="2" fill="#671f1d"/>
<rect x="258" y="345" width="18" height="2" fill="#661917"/>
<rect x="258" y="347" width="18" height="2" fill="#5c1b19"/>
<rect x="258" y="349" width="18" height="2" fill="#c51b1d"/>
<rect x="258" y="351" width="18" height="2" fill="#7a1b19"/>
<rect x="258" y="353" width="18" height="2" fill="#b7191b"/>
<rect x="258" y="355" width="18" height="2" fill="#c71b1d"/>
<rect x="258" y="357" width="18" height="2" fill="#741d1b"/>
<rect x="258" y="359" width="18" height="2" fill="#c81b1d"/>
<rect x="258" y="361" width="18" height="2" fill="#4f1917"/>
<rect x="258" y="363" width="18" height="2" fill="#4a1715"/>
<rect x="258" y="365" width="18" height="2" fill="#351c18"/>
<rect x="258" y="367" width="18" height="2" fill="#561816"/>
<rect x="258" y="369" width="18" height="2" fill="#661e1c"/>
<rect x="258" y="371" width="18" height="2" fill="#4c1816"/>
<rect x="258" y="373" width="18" height="2" fill="#5c1b19"/>
<rect x="258" y="375" width="18" height="2" fill="#ba191b"/>
<rect x="258" y="377" width="18" height="2" fill="#de1f21"/>
<rect x="258" y="379" width="18" height="2" fill="#ad1719"/>
<rect x="258" y="381" width="18" height="2" fill="#3b1915"/>
<rect x="258" y="383" width="18" height="2" fill="#3c1a16"/>
<rect x="258" y="385" width="18" height="2" fill="#381814"/>
<rect x="258" y="387" width="18" height="2" fill="#371814"/>
<rect x="258" y="389" width="18" height="2" fill="#3b1915"/>
<rect x="258" y="391" width="18" height="2" fill="#6c1b19"/>
<rect x="258" y="393" width="18" height="2" fill="#631917"/>
<rect x="258" y="395" width="18" height="2" fill="#c61b1d"/>
<rect x="258" y="397" width="18" height="2" fill="#ae1719"/>
<rect x="258" y="399" width="18" height="2" fill="#6a1b19"/>
<rect x="276" y="148" width="17" height="2" fill="#4b843c"/>
<rect x="276" y="150" width="17" height="2" fill="#447c39"/>
<rect x="276" y="152" width="17" height="2" fill="#4e893e"/>
<rect x="276" y="154" width="17" height="2" fill="#2e4b27"/>
<rect x="276" y="156" width="17" height="2" fill="#539241"/>
<rect x="276" y="158" width="17" height="2" fill="#427938"/>
<rect x="276" y="160" width="17" height="2" fill="#3a6930"/>
<rect x="276" y="162" width="17" height="2" fill="#24351f"/>
<rect x="276" y="164" width="17" height="2" fill="#1f291a"/>
<rect x="276" y="166" width="17" height="2" fill="#1a2216"/>
<rect x="276" y="168" width="17" height="2" fill="#294624"/>
<rect x="276" y="170" width="17" height="2" fill="#477d3b"/>
<rect x="276" y="172" width="17" height="2" fill="#487e3c"/>
<rect x="276" y="174" width="17" height="2" fill="#477d3b"/>
<rect x="276" y="176" width="17" height="2" fill="#3e6c36"/>
<rect x="276" y="178" width="17" height="2" fill="#44793a"/>
<rect x="276" y="180" width="17" height="2" fill="#44783a"/>
<rect x="276" y="182" width="17" height="2" fill="#3e6c36"/>
<rect x="276" y="184" width="17" height="2" fill="#294323"/>
<rect x="276" y="186" width="17" height="2" fill="#331b17"/>
<rect x="276" y="188" width="17" height="2" fill="#396432"/>
<rect x="276" y="190" width="17" height="2" fill="#2f522a"/>
<rect x="276" y="192" width="17" height="2" fill="#45793a"/>
<rect x="276" y="194" width="17" height="2" fill="#345b2e"/>
<rect x="276" y="196" width="17" height="2" fill="#407136"/>
<rect x="276" y="198" width="17" height="2" fill="#3d6a35"/>
<rect x="276" y="200" width="17" height="2" fill="#2f5129"/>
<rect x="276" y="202" width="17" height="2" fill="#4b833e"/>
<rect x="276" y="204" width="17" height="2" fill="#376030"/>
<rect x="276" y="206" width="17" height="2" fill="#3f6e37"/>
<rect x="276" y="208" width="17" height="2" fill="#33592d"/>
<rect x="276" y="210" width="17" height="2" fill="#5ea549"/>
<rect x="276" y="212" width="17" height="2" fill="#2c4b26"/>
<rect x="276" y="214" width="17" height="2" fill="#3b6733"/>
<rect x="276" y="216" width="17" height="2" fill="#559642"/>
<rect x="276" y="218" width="17" height="2" fill="#3f6f36"/>
<rect x="276" y="220" width="17" height="2" fill="#365f2f"/>
<rect x="276" y="222" width="17" height="2" fill="#44783a"/>
<rect x="276" y="224" width="17" height="2" fill="#2d4d27"/>
<rect x="276" y="226" width="17" height="2" fill="#4c853f"/>
<rect x="276" y="228" width="17" height="2" fill="#3e6d34"/>
<rect x="276" y="230" width="17" height="2" fill="#5ea64a"/>
<rect x="276" y="232" width="17" height="2" fill="#44783a"/>
<rect x="276" y="234" width="17" height="2" fill="#2f4f28"/>
<rect x="276" y="236" width="17" height="2" fill="#365e2f"/>
<rect x="276" y="238" width="17" height="2" fill="#2a4724"/>
<rect x="276" y="240" width="17" height="2" fill="#417236"/>
<rect x="276" y="242" width="17" height="2" fill="#3e6e35"/>
<rect x="276" y="244" width="17" height="2" fill="#427537"/>
<rect x="276" y="246" width="17" height="2" fill="#66ac4e"/>
<rect x="276" y="248" width="17" height="2" fill="#30522a"/>
<rect x="276" y="250" width="17" height="2" fill="#508c3f"/>
<rect x="276" y="252" width="17" height="2" fill="#417236"/>
<rect x="276" y="254" width="17" height="2" fill="#294624"/>
<rect x="276" y="256" width="17" height="2" fill="#44793a"/>
<rect x="276" y="258" width="17" height="2" fill="#457939"/>
<rect x="276" y="260" width="17" height="2" fill="#345a2e"/>
<rect x="276" y="262" width="17" height="2" fill="#33582d"/>
<rect x="276" y="264" width="17" height="2" fill="#32562c"/>
<rect x="276" y="266" width="17" height="2" fill="#2c4c27"/>
<rect x="276" y="268" width="17" height="2" fill="#2d4c27"/>
<rect x="276" y="270" width="17" height="2" fill="#30512a"/>
<rect x="276" y="272" width="17" height="2" fill="#457939"/>
<rect x="276" y="274" width="17" height="2" fill="#447738"/>
<rect x="276" y="276" width="17" height="2" fill="#4b843e"/>
<rect x="276" y="278" width="17" height="2" fill="#3b6832"/>
<rect x="276" y="280" width="17" height="2" fill="#417236"/>
<rect x="276" y="282" width="17" height="2" fill="#294624"/>
<rect x="276" y="284" width="17" height="2" fill="#294624"/>
<rect x="276" y="286" width="17" height="2" fill="#3c6933"/>
<rect x="276" y="288" width="17" height="2" fill="#2e4f28"/>
<rect x="276" y="290" width="17" height="2" fill="#365e2f"/>
<rect x="276" y="292" width="17" height="2" fill="#301916"/>
<rect x="276" y="294" width="17" height="2" fill="#3b6733"/>
<rect x="276" y="296" width="17" height="2" fill="#5d9e47"/>
<rect x="276" y="298" width="17" height="2" fill="#407237"/>
<rect x="276" y="300" width="17" height="2" fill="#385b2e"/>
<rect x="276" y="302" width="17" height="2" fill="#487f3c"/>
<rect x="276" y="304" width="17" height="3" fill="#4a813d"/>
<rect x="276" y="307" width="17" height="2" fill="#305029"/>
<rect x="276" y="309" width="17" height="2" fill="#23311f"/>
<rect x="276" y="311" width="17" height="2" fill="#417337"/>
<rect x="276" y="313" width="17" height="2" fill="#a01e1e"/>
<rect x="276" y="315" width="17" height="2" fill="#a81f1f"/>
<rect x="276" y="317" width="17" height="2" fill="#741d1b"/>
<rect x="276" y="319" width="17" height="2" fill="#1c2518"/>
<rect x="276" y="321" width="17" height="2" fill="#291b15"/>
<rect x="276" y="323" width="17" height="2" fill="#181b14"/>
<rect x="276" y="325" width="17" height="2" fill="#7b1b19"/>
<rect x="276" y="327" width="17" height="2" fill="#781a18"/>
<rect x="276" y="329" width="17" height="2" fill="#921c1c"/>
<rect x="276" y="331" width="17" height="2" fill="#9b1d1d"/>
<rect x="276" y="333" width="17" height="2" fill="#711c1a"/>
<rect x="276" y="335" width="17" height="2" fill="#c41a1c"/>
<rect x="276" y="337" width="17" height="2" fill="#d11d1f"/>
<rect x="276" y="339" width="17" height="2" fill="#c11b1d"/>
<rect x="276" y="341" width="17" height="2" fill="#c21b1d"/>
<rect x="276" y="343" width="17" height="2" fill="#ad1719"/>
<rect x="276" y="345" width="17" height="2" fill="#da1e20"/>
<rect x="276" y="347" width="17" height="2" fill="#b6191b"/>
<rect x="276" y="349" width="17" height="2" fill="#8f1c1c"/>
<rect x="276" y="351" width="17" height="2" fill="#771a18"/>
<rect x="276" y="353" width="17" height="2" fill="#781a18"/>
<rect x="276" y="355" width="17" height="2" fill="#3b1915"/>
<rect x="276" y="357" width="17" height="2" fill="#c61b1d"/>
<rect x="276" y="359" width="17" height="2" fill="#491715"/>
<rect x="276" y="361" width="17" height="2" fill="#381814"/>
<rect x="276" y="363" width="17" height="2" fill="#441513"/>
<rect x="276" y="365" width="17" height="2" fill="#391915"/>
<rect x="276" y="367" width="17" height="2" fill="#391815"/>
<rect x="276" y="369" width="17" height="2" fill="#731c1a"/>
<rect x="276" y="371" width="17" height="2" fill="#921b1b"/>
<rect x="276" y="373" width="17" height="2" fill="#811c1a"/>
<rect x="276" y="375" width="17" height="2" fill="#8c1b1b"/>
<rect x="276" y="377" width="17" height="2" fill="#8e1c1c"/>
<rect x="276" y="379" width="17" height="2" fill="#5b1917"/>
<rect x="276" y="381" width="17" height="2" fill="#361714"/>
<rect x="276" y="383" width="17" height="2" fill="#24381f"/>
<rect x="276" y="385" width="17" height="2" fill="#921b1b"/>
<rect x="276" y="387" width="17" height="2" fill="#671a18"/>
<rect x="276" y="389" width="17" height="2" fill="#801c1a"/>
<rect x="276" y="391" width="17" height="2" fill="#811c1a"/>
<rect x="276" y="393" width="17" height="2" fill="#9c1d1d"/>
<rect x="276" y="395" width="17" height="2" fill="#8f1c1c"/>
<rect x="276" y="397" width="17" height="2" fill="#701c1a"/>
<rect x="276" y="399" width="17" height="2" fill="#821d1a"/>
<rect x="293" y="148" width="18" height="2" fill="#447d3a"/>
<rect x="293" y="150" width="18" height="2" fill="#407637"/>
<rect x="293" y="152" width="18" height="2" fill="#3f7436"/>
<rect x="293" y="154" width="18" height="2" fill="#437a38"/>
<rect x="293" y="156" width="18" height="2" fill="#508d40"/>
<rect x="293" y="158" width="18" height="2" fill="#4d873d"/>
<rect x="293" y="160" width="18" height="2" fill="#407536"/>
<rect x="293" y="162" width="18" height="2" fill="#66ac4e"/>
<rect x="293" y="164" width="18" height="2" fill="#60a94b"/>
<rect x="293" y="166" width="18" height="2" fill="#417737"/>
<rect x="293" y="168" width="18" height="2" fill="#3e7235"/>
<rect x="293" y="170" width="18" height="2" fill="#396830"/>
<rect x="293" y="172" width="18" height="2" fill="#4f8b3f"/>
<rect x="293" y="174" width="18" height="2" fill="#4b873e"/>
<rect x="293" y="176" width="18" height="2" fill="#3e7034"/>
<rect x="293" y="178" width="18" height="2" fill="#386530"/>
<rect x="293" y="180" width="18" height="2" fill="#539242"/>
<rect x="293" y="182" width="18" height="2" fill="#3b6a33"/>
<rect x="293" y="184" width="18" height="2" fill="#4a7f3b"/>
<rect x="293" y="186" width="18" height="2" fill="#549343"/>
<rect x="293" y="188" width="18" height="2" fill="#68b050"/>
<rect x="293" y="190" width="18" height="2" fill="#2d4a27"/>
<rect x="293" y="192" width="18" height="2" fill="#528f41"/>
<rect x="293" y="194" width="18" height="2" fill="#3c6c33"/>
<rect x="293" y="196" width="18" height="2" fill="#396730"/>
<rect x="293" y="198" width="18" height="2" fill="#355f2e"/>
<rect x="293" y="200" width="18" height="2" fill="#36622f"/>
<rect x="293" y="202" width="18" height="2" fill="#47803b"/>
<rect x="293" y="204" width="18" height="2" fill="#4a863d"/>
<rect x="293" y="206" width="18" height="2" fill="#417636"/>
<rect x="293" y="208" width="18" height="2" fill="#355f2d"/>
<rect x="293" y="210" width="18" height="2" fill="#5d9d47"/>
<rect x="293" y="212" width="18" height="2" fill="#599b46"/>
<rect x="293" y="214" width="18" height="2" fill="#589c45"/>
<rect x="293" y="216" width="18" height="2" fill="#5ea649"/>
<rect x="293" y="218" width="18" height="2" fill="#5a9f47"/>
<rect x="293" y="220" width="18" height="2" fill="#60aa4b"/>
<rect x="293" y="222" width="18" height="2" fill="#60a34a"/>
<rect x="293" y="224" width="18" height="2" fill="#3a5e30"/>
<rect x="293" y="226" width="18" height="2" fill="#2f4e28"/>
<rect x="293" y="228" width="18" height="2" fill="#518e41"/>
<rect x="293" y="230" width="18" height="2" fill="#5ca248"/>
<rect x="293" y="232" width="18" height="2" fill="#4c833d"/>
<rect x="293" y="234" width="18" height="2" fill="#68b04f"/>
<rect x="293" y="236" width="18" height="2" fill="#508b3f"/>
<rect x="293" y="238" width="18" height="2" fill="#66ac4e"/>
<rect x="293" y="240" width="18" height="2" fill="#417536"/>
<rect x="293" y="242" width="18" height="2" fill="#3a6832"/>
<rect x="293" y="244" width="18" height="2" fill="#457c39"/>
<rect x="293" y="246" width="18" height="2" fill="#273d21"/>
<rect x="293" y="248" width="18" height="2" fill="#3c6c32"/>
<rect x="293" y="250" width="18" height="2" fill="#3c6e33"/>
<rect x="293" y="252" width="18" height="2" fill="#4f8b3f"/>
<rect x="293" y="254" width="18" height="2" fill="#447c39"/>
<rect x="293" y="256" width="18" height="2" fill="#3c6d33"/>
<rect x="293" y="258" width="18" height="2" fill="#4f873f"/>
<rect x="293" y="260" width="18" height="2" fill="#559245"/>
<rect x="293" y="262" width="18" height="2" fill="#35582d"/>
<rect x="293" y="264" width="18" height="2" fill="#407536"/>
<rect x="293" y="266" width="18" height="2" fill="#4f8b3f"/>
<rect x="293" y="268" width="18" height="2" fill="#48823c"/>
<rect x="293" y="270" width="18" height="2" fill="#3e7134"/>
<rect x="293" y="272" width="18" height="2" fill="#3e7034"/>
<rect x="293" y="274" width="18" height="2" fill="#1d2719"/>
<rect x="293" y="276" width="18" height="2" fill="#23311f"/>
<rect x="293" y="278" width="18" height="2" fill="#417737"/>
<rect x="293" y="280" width="18" height="2" fill="#3c6c34"/>
<rect x="293" y="282" width="18" height="2" fill="#3d6f33"/>
<rect x="293" y="284" width="18" height="2" fill="#3a6932"/>
<rect x="293" y="286" width="18" height="2" fill="#3d6e34"/>
<rect x="293" y="288" width="18" height="2" fill="#47803b"/>
<rect x="293" y="290" width="18" height="2" fill="#549542"/>
<rect x="293" y="292" width="18" height="2" fill="#508d40"/>
<rect x="293" y="294" width="18" height="2" fill="#3a6931"/>
<rect x="293" y="296" width="18" height="2" fill="#549343"/>
<rect x="293" y="298" width="18" height="2" fill="#355e2f"/>
<rect x="293" y="300" width="18" height="2" fill="#4d8740"/>
<rect x="293" y="302" width="18" height="2" fill="#3d6f33"/>
<rect x="293" y="304" width="18" height="3" fill="#3c6b34"/>
<rect x="293" y="307" width="18" height="2" fill="#37632f"/>
<rect x="293" y="309" width="18" height="2" fill="#396631"/>
<rect x="293" y="311" width="18" height="2" fill="#35582d"/>
<rect x="293" y="313" width="18" height="2" fill="#6a1a18"/>
<rect x="293" y="315" width="18" height="2" fill="#631d1b"/>
<rect x="293" y="317" width="18" height="2" fill="#551816"/>
<rect x="293" y="319" width="18" height="2" fill="#541716"/>
<rect x="293" y="321" width="18" height="2" fill="#661918"/>
<rect x="293" y="323" width="18" height="2" fill="#761a18"/>
<rect x="293" y="325" width="18" height="2" fill="#8e1c1c"/>
<rect x="293" y="327" width="18" height="2" fill="#c01b1c"/>
<rect x="293" y="329" width="18" height="2" fill="#8a1b1b"/>
<rect x="293" y="331" width="18" height="2" fill="#701c1a"/>
<rect x="293" y="333" width="18" height="2" fill="#671f1c"/>
<rect x="293" y="335" width="18" height="2" fill="#671e1c"/>
<rect x="293" y="337" width="18" height="2" fill="#391814"/>
<rect x="293" y="339" width="18" height="2" fill="#721d1b"/>
<rect x="293" y="341" width="18" height="2" fill="#861a1a"/>
<rect x="293" y="343" width="18" height="2" fill="#6f1c1a"/>
<rect x="293" y="345" width="18" height="2" fill="#1f291b"/>
<rect x="293" y="347" width="18" height="2" fill="#261914"/>
<rect x="293" y="349" width="18" height="2" fill="#253321"/>
<rect x="293" y="351" width="18" height="2" fill="#341c18"/>
<rect x="293" y="353" width="18" height="2" fill="#9d1d1d"/>
<rect x="293" y="355" width="18" height="2" fill="#a61f1f"/>
<rect x="293" y="357" width="18" height="2" fill="#821d1b"/>
<rect x="293" y="359" width="18" height="2" fill="#951c1c"/>
<rect x="293" y="361" width="18" height="2" fill="#941d1d"/>
<rect x="293" y="363" width="18" height="2" fill="#d01d1f"/>
<rect x="293" y="365" width="18" height="2" fill="#5a1b19"/>
<rect x="293" y="367" width="18" height="2" fill="#441513"/>
<rect x="293" y="369" width="18" height="2" fill="#681f1d"/>
<rect x="293" y="371" width="18" height="2" fill="#5c1b19"/>
<rect x="293" y="373" width="18" height="2" fill="#651917"/>
<rect x="293" y="375" width="18" height="2" fill="#481614"/>
<rect x="293" y="377" width="18" height="2" fill="#681f1d"/>
<rect x="293" y="379" width="18" height="2" fill="#c61b1d"/>
<rect x="293" y="381" width="18" height="2" fill="#dd1f21"/>
<rect x="293" y="383" width="18" height="2" fill="#9d1d1d"/>
<rect x="293" y="385" width="18" height="2" fill="#5c1a18"/>
<rect x="293" y="387" width="18" height="2" fill="#501917"/>
<rect x="293" y="389" width="18" height="2" fill="#651e1c"/>
<rect x="293" y="391" width="18" height="2" fill="#6a1b19"/>
<rect x="293" y="393" width="18" height="2" fill="#1b2417"/>
<rect x="293" y="395" width="18" height="2" fill="#1b2518"/>
<rect x="293" y="397" width="18" height="2" fill="#181c14"/>
<rect x="293" y="399" width="18" height="2" fill="#191d15"/>
<rect x="311" y="148" width="17" height="2" fill="#6ab351"/>
<rect x="311" y="150" width="17" height="2" fill="#437a38"/>
<rect x="311" y="152" width="17" height="2" fill="#407436"/>
<rect x="311" y="154" width="17" height="2" fill="#417437"/>
<rect x="311" y="156" width="17" height="2" fill="#64a94c"/>
<rect x="311" y="158" width="17" height="2" fill="#355f2d"/>
<rect x="311" y="160" width="17" height="2" fill="#437a38"/>
<rect x="311" y="162" width="17" height="2" fill="#345e2d"/>
<rect x="311" y="164" width="17" height="2" fill="#4c893f"/>
<rect x="311" y="166" width="17" height="2" fill="#20301c"/>
<rect x="311" y="168" width="17" height="2" fill="#487f3a"/>
<rect x="311" y="170" width="17" height="2" fill="#61a34a"/>
<rect x="311" y="172" width="17" height="2" fill="#407537"/>
<rect x="311" y="174" width="17" height="2" fill="#3b6932"/>
<rect x="311" y="176" width="17" height="2" fill="#3b6a33"/>
<rect x="311" y="178" width="17" height="2" fill="#386430"/>
<rect x="311" y="180" width="17" height="2" fill="#3b6a33"/>
<rect x="311" y="182" width="17" height="2" fill="#437a38"/>
<rect x="311" y="184" width="17" height="2" fill="#396731"/>
<rect x="311" y="186" width="17" height="2" fill="#47813b"/>
<rect x="311" y="188" width="17" height="2" fill="#386530"/>
<rect x="311" y="190" width="17" height="2" fill="#396730"/>
<rect x="311" y="192" width="17" height="2" fill="#385c2f"/>
<rect x="311" y="194" width="17" height="2" fill="#3c6d33"/>
<rect x="311" y="196" width="17" height="2" fill="#3a6832"/>
<rect x="311" y="198" width="17" height="2" fill="#47813b"/>
<rect x="311" y="200" width="17" height="2" fill="#293f23"/>
<rect x="311" y="202" width="17" height="2" fill="#3f7235"/>
<rect x="311" y="204" width="17" height="2" fill="#35602e"/>
<rect x="311" y="206" width="17" height="2" fill="#467f3a"/>
<rect x="311" y="208" width="17" height="2" fill="#3b6a33"/>
<rect x="311" y="210" width="17" height="2" fill="#1c2618"/>
<rect x="311" y="212" width="17" height="2" fill="#263720"/>
<rect x="311" y="214" width="17" height="2" fill="#3c6e33"/>
<rect x="311" y="216" width="17" height="2" fill="#3d6e34"/>
<rect x="311" y="218" width="17" height="2" fill="#274022"/>
<rect x="311" y="220" width="17" height="2" fill="#355f2e"/>
<rect x="311" y="222" width="17" height="2" fill="#3c6d32"/>
<rect x="311" y="224" width="17" height="2" fill="#427938"/>
<rect x="311" y="226" width="17" height="2" fill="#36612e"/>
<rect x="311" y="228" width="17" height="2" fill="#3c6b33"/>
<rect x="311" y="230" width="17" height="2" fill="#457d3a"/>
<rect x="311" y="232" width="17" height="2" fill="#182014"/>
<rect x="311" y="234" width="17" height="2" fill="#202d1d"/>
<rect x="311" y="236" width="17" height="2" fill="#273921"/>
<rect x="311" y="238" width="17" height="2" fill="#1e281a"/>
<rect x="311" y="240" width="17" height="2" fill="#3c6c34"/>
<rect x="311" y="242" width="17" height="2" fill="#539243"/>
<rect x="311" y="244" width="17" height="2" fill="#528f41"/>
<rect x="311" y="246" width="17" height="2" fill="#3a6930"/>
<rect x="311" y="248" width="17" height="2" fill="#467e3a"/>
<rect x="311" y="250" width="17" height="2" fill="#386530"/>
<rect x="311" y="252" width="17" height="2" fill="#4e883e"/>
<rect x="311" y="254" width="17" height="2" fill="#4a863e"/>
<rect x="311" y="256" width="17" height="2" fill="#4d873d"/>
<rect x="311" y="258" width="17" height="2" fill="#273d21"/>
<rect x="311" y="260" width="17" height="2" fill="#3c6d33"/>
<rect x="311" y="262" width="17" height="2" fill="#437a38"/>
<rect x="311" y="264" width="17" height="2" fill="#49843c"/>
<rect x="311" y="266" width="17" height="2" fill="#49843d"/>
<rect x="311" y="268" width="17" height="2" fill="#3b6c32"/>
<rect x="311" y="270" width="17" height="2" fill="#4d883e"/>
<rect x="311" y="272" width="17" height="2" fill="#4c853c"/>
<rect x="311" y="274" width="17" height="2" fill="#3a6832"/>
<rect x="311" y="276" width="17" height="2" fill="#36612e"/>
<rect x="311" y="278" width="17" height="2" fill="#1f2e1b"/>
<rect x="311" y="280" width="17" height="2" fill="#4d873d"/>
<rect x="311" y="282" width="17" height="2" fill="#467f3a"/>
<rect x="311" y="284" width="17" height="2" fill="#3e7134"/>
<rect x="311" y="286" width="17" height="2" fill="#4a873e"/>
<rect x="311" y="288" width="17" height="2" fill="#3a6932"/>
<rect x="311" y="290" width="17" height="2" fill="#4e893e"/>
<rect x="311" y="292" width="17" height="2" fill="#3e7135"/>
<rect x="311" y="294" width="17" height="2" fill="#427737"/>
<rect x="311" y="296" width="17" height="2" fill="#4f8a3f"/>
<rect x="311" y="298" width="17" height="2" fill="#3e7034"/>
<rect x="311" y="300" width="17" height="2" fill="#366030"/>
<rect x="311" y="302" width="17" height="2" fill="#3a6930"/>
<rect x="311" y="304" width="17" height="3" fill="#437b39"/>
<rect x="311" y="307" width="17" height="2" fill="#375a2e"/>
<rect x="311" y="309" width="17" height="2" fill="#518d40"/>
<rect x="311" y="311" width="17" height="2" fill="#4a823b"/>
<rect x="311" y="313" width="17" height="2" fill="#4c1816"/>
<rect x="311" y="315" width="17" height="2" fill="#5d1a18"/>
<rect x="311" y="317" width="17" height="2" fill="#6d1b19"/>
<rect x="311" y="319" width="17" height="2" fill="#381814"/>
<rect x="311" y="321" width="17" height="2" fill="#5b1b19"/>
<rect x="311" y="323" width="17" height="2" fill="#5e1c1a"/>
<rect x="311" y="325" width="17" height="2" fill="#381814"/>
<rect x="311" y="327" width="17" height="2" fill="#451514"/>
<rect x="311" y="329" width="17" height="2" fill="#1d2719"/>
<rect x="311" y="331" width="17" height="2" fill="#701c1a"/>
<rect x="311" y="333" width="17" height="2" fill="#1f2a1b"/>
<rect x="311" y="335" width="17" height="2" fill="#243220"/>
<rect x="311" y="337" width="17" height="2" fill="#1e1a14"/>
<rect x="311" y="339" width="17" height="2" fill="#631d1b"/>
<rect x="311" y="341" width="17" height="2" fill="#361d18"/>
<rect x="311" y="343" width="17" height="2" fill="#5a1b19"/>
<rect x="311" y="345" width="17" height="2" fill="#7b1b19"/>
<rect x="311" y="347" width="17" height="2" fill="#b8191b"/>
<rect x="311" y="349" width="17" height="2" fill="#bc1a1c"/>
<rect x="311" y="351" width="17" height="2" fill="#361713"/>
<rect x="311" y="353" width="17" height="2" fill="#5a1b19"/>
<rect x="311" y="355" width="17" height="2" fill="#361714"/>
<rect x="311" y="357" width="17" height="2" fill="#471614"/>
<rect x="311" y="359" width="17" height="2" fill="#181b14"/>
<rect x="311" y="361" width="17" height="2" fill="#761d1b"/>
<rect x="311" y="363" width="17" height="2" fill="#6a1a18"/>
<rect x="311" y="365" width="17" height="2" fill="#381814"/>
<rect x="311" y="367" width="17" height="2" fill="#4d1816"/>
<rect x="311" y="369" width="17" height="2" fill="#701c1a"/>
<rect x="311" y="371" width="17" height="2" fill="#751d1b"/>
<rect x="311" y="373" width="17" height="2" fill="#611b19"/>
<rect x="311" y="375" width="17" height="2" fill="#731917"/>
<rect x="311" y="377" width="17" height="2" fill="#631917"/>
<rect x="311" y="379" width="17" height="2" fill="#721d1b"/>
<rect x="311" y="381" width="17" height="2" fill="#243220"/>
<rect x="311" y="383" width="17" height="2" fill="#4d1816"/>
<rect x="311" y="385" width="17" height="2" fill="#461614"/>
<rect x="311" y="387" width="17" height="2" fill="#731c1a"/>
<rect x="311" y="389" width="17" height="2" fill="#3f1b17"/>
<rect x="311" y="391" width="17" height="2" fill="#6f1b19"/>
<rect x="311" y="393" width="17" height="2" fill="#671917"/>
<rect x="311" y="395" width="17" height="2" fill="#471614"/>
<rect x="311" y="397" width="17" height="2" fill="#591917"/>
<rect x="311" y="399" width="17" height="2" fill="#691a18"/>
<rect x="328" y="148" width="17" height="2" fill="#283e22"/>
<rect x="328" y="150" width="17" height="2" fill="#2f4e27"/>
<rect x="328" y="152" width="17" height="2" fill="#2d4a27"/>
<rect x="328" y="154" width="17" height="2" fill="#222f1e"/>
<rect x="328" y="156" width="17" height="2" fill="#1c2619"/>
<rect x="328" y="158" width="17" height="2" fill="#3c6b33"/>
<rect x="328" y="160" width="17" height="2" fill="#3e7135"/>
<rect x="328" y="162" width="17" height="2" fill="#3a6830"/>
<rect x="328" y="164" width="17" height="2" fill="#518f41"/>
<rect x="328" y="166" width="17" height="2" fill="#508d40"/>
<rect x="328" y="168" width="17" height="2" fill="#3f7335"/>
<rect x="328" y="170" width="17" height="2" fill="#2b4725"/>
<rect x="328" y="172" width="17" height="2" fill="#4d873e"/>
<rect x="328" y="174" width="17" height="2" fill="#3e7134"/>
<rect x="328" y="176" width="17" height="2" fill="#3e7034"/>
<rect x="328" y="178" width="17" height="2" fill="#417636"/>
<rect x="328" y="180" width="17" height="2" fill="#36612f"/>
<rect x="328" y="182" width="17" height="2" fill="#283e22"/>
<rect x="328" y="184" width="17" height="2" fill="#375b2e"/>
<rect x="328" y="186" width="17" height="2" fill="#4e883e"/>
<rect x="328" y="188" width="17" height="2" fill="#263720"/>
<rect x="328" y="190" width="17" height="2" fill="#273921"/>
<rect x="328" y="192" width="17" height="2" fill="#22321e"/>
<rect x="328" y="194" width="17" height="2" fill="#25391f"/>
<rect x="328" y="196" width="17" height="2" fill="#375b2e"/>
<rect x="328" y="198" width="17" height="2" fill="#284223"/>
<rect x="328" y="200" width="17" height="2" fill="#1e281a"/>
<rect x="328" y="202" width="17" height="2" fill="#2c4926"/>
<rect x="328" y="204" width="17" height="2" fill="#21301d"/>
<rect x="328" y="206" width="17" height="2" fill="#2e4b28"/>
<rect x="328" y="208" width="17" height="2" fill="#1e281a"/>
<rect x="328" y="210" width="17" height="2" fill="#1a2316"/>
<rect x="328" y="212" width="17" height="2" fill="#263720"/>
<rect x="328" y="214" width="17" height="2" fill="#1f291b"/>
<rect x="328" y="216" width="17" height="2" fill="#263720"/>
<rect x="328" y="218" width="17" height="2" fill="#25361f"/>
<rect x="328" y="220" width="17" height="2" fill="#1b2417"/>
<rect x="328" y="222" width="17" height="2" fill="#212e1d"/>
<rect x="328" y="224" width="17" height="2" fill="#283a22"/>
<rect x="328" y="226" width="17" height="2" fill="#1a2316"/>
<rect x="328" y="228" width="17" height="2" fill="#1a2216"/>
<rect x="328" y="230" width="17" height="2" fill="#253a20"/>
<rect x="328" y="232" width="17" height="2" fill="#273d21"/>
<rect x="328" y="234" width="17" height="2" fill="#34572c"/>
<rect x="328" y="236" width="17" height="2" fill="#3a6331"/>
<rect x="328" y="238" width="17" height="2" fill="#304f28"/>
<rect x="328" y="240" width="17" height="2" fill="#181f14"/>
<rect x="328" y="242" width="17" height="2" fill="#1c2619"/>
<rect x="328" y="244" width="17" height="2" fill="#232f1f"/>
<rect x="328" y="246" width="17" height="2" fill="#2d4a27"/>
<rect x="328" y="248" width="17" height="2" fill="#1d2117"/>
<rect x="328" y="250" width="17" height="2" fill="#263c20"/>
<rect x="328" y="252" width="17" height="2" fill="#32542b"/>
<rect x="328" y="254" width="17" height="2" fill="#35582d"/>
<rect x="328" y="256" width="17" height="2" fill="#1b2316"/>
<rect x="328" y="258" width="17" height="2" fill="#23301f"/>
<rect x="328" y="260" width="17" height="2" fill="#559245"/>
<rect x="328" y="262" width="17" height="2" fill="#3e6e36"/>
<rect x="328" y="264" width="17" height="2" fill="#3d6834"/>
<rect x="328" y="266" width="17" height="2" fill="#284222"/>
<rect x="328" y="268" width="17" height="2" fill="#3e6934"/>
<rect x="328" y="270" width="17" height="2" fill="#3b6131"/>
<rect x="328" y="272" width="17" height="2" fill="#395d2f"/>
<rect x="328" y="274" width="17" height="2" fill="#23301f"/>
<rect x="328" y="276" width="17" height="2" fill="#385b2e"/>
<rect x="328" y="278" width="17" height="2" fill="#1e291b"/>
<rect x="328" y="280" width="17" height="2" fill="#212c1d"/>
<rect x="328" y="282" width="17" height="2" fill="#3f6b35"/>
<rect x="328" y="284" width="17" height="2" fill="#3d6332"/>
<rect x="328" y="286" width="17" height="2" fill="#1f2319"/>
<rect x="328" y="288" width="17" height="2" fill="#35562c"/>
<rect x="328" y="290" width="17" height="2" fill="#416e37"/>
<rect x="328" y="292" width="17" height="2" fill="#1d2719"/>
<rect x="328" y="294" width="17" height="2" fill="#284223"/>
<rect x="328" y="296" width="17" height="2" fill="#192115"/>
<rect x="328" y="298" width="17" height="2" fill="#1d2017"/>
<rect x="328" y="300" width="17" height="2" fill="#3c6532"/>
<rect x="328" y="302" width="17" height="2" fill="#559144"/>
<rect x="328" y="304" width="17" height="3" fill="#437839"/>
<rect x="328" y="307" width="17" height="2" fill="#2d4927"/>
<rect x="328" y="309" width="17" height="2" fill="#25391f"/>
<rect x="328" y="311" width="17" height="2" fill="#2a4123"/>
<rect x="328" y="313" width="17" height="2" fill="#c21b1d"/>
<rect x="328" y="315" width="17" height="2" fill="#bf1b1c"/>
<rect x="328" y="317" width="17" height="2" fill="#dd1f21"/>
<rect x="328" y="319" width="17" height="2" fill="#6e1b19"/>
<rect x="328" y="321" width="17" height="2" fill="#c81b1d"/>
<rect x="328" y="323" width="17" height="2" fill="#cb1c1e"/>
<rect x="328" y="325" width="17" height="2" fill="#b4181a"/>
<rect x="328" y="327" width="17" height="2" fill="#4c1816"/>
<rect x="328" y="329" width="17" height="2" fill="#681a18"/>
<rect x="328" y="331" width="17" height="2" fill="#631917"/>
<rect x="328" y="333" width="17" height="2" fill="#4f1917"/>
<rect x="328" y="335" width="17" height="2" fill="#481614"/>
<rect x="328" y="337" width="17" height="2" fill="#2a1c16"/>
<rect x="328" y="339" width="17" height="2" fill="#4d1816"/>
<rect x="328" y="341" width="17" height="2" fill="#5c1a18"/>
<rect x="328" y="343" width="17" height="2" fill="#22301e"/>
<rect x="328" y="345" width="17" height="2" fill="#212d1d"/>
<rect x="328" y="347" width="17" height="2" fill="#5d1c1a"/>
<rect x="328" y="349" width="17" height="2" fill="#24391f"/>
<rect x="328" y="351" width="17" height="2" fill="#2c4826"/>
<rect x="328" y="353" width="17" height="2" fill="#375a2e"/>
<rect x="328" y="355" width="17" height="2" fill="#1f2e1c"/>
<rect x="328" y="357" width="17" height="2" fill="#263b20"/>
<rect x="328" y="359" width="17" height="2" fill="#3a5e30"/>
<rect x="328" y="361" width="17" height="2" fill="#2c4826"/>
<rect x="328" y="363" width="17" height="2" fill="#375a2e"/>
<rect x="328" y="365" width="17" height="2" fill="#491715"/>
<rect x="328" y="367" width="17" height="2" fill="#5e1a18"/>
<rect x="328" y="369" width="17" height="2" fill="#371714"/>
<rect x="328" y="371" width="17" height="2" fill="#361d19"/>
<rect x="328" y="373" width="17" height="2" fill="#24381e"/>
<rect x="328" y="375" width="17" height="2" fill="#181c15"/>
<rect x="328" y="377" width="17" height="2" fill="#1e1a14"/>
<rect x="328" y="379" width="17" height="2" fill="#bf1a1c"/>
<rect x="328" y="381" width="17" height="2" fill="#cf1d1f"/>
<rect x="328" y="383" width="17" height="2" fill="#d31d1f"/>
<rect x="328" y="385" width="17" height="2" fill="#cd1d1f"/>
<rect x="328" y="387" width="17" height="2" fill="#c01a1c"/>
<rect x="328" y="389" width="17" height="2" fill="#d31d1f"/>
<rect x="328" y="391" width="17" height="2" fill="#c71b1d"/>
<rect x="328" y="393" width="17" height="2" fill="#b1181a"/>
<rect x="328" y="395" width="17" height="2" fill="#c41b1d"/>
<rect x="328" y="397" width="17" height="2" fill="#551816"/>
<rect x="328" y="399" width="17" height="2" fill="#c21a1c"/>
<rect x="345" y="148" width="18" height="2" fill="#3b1612"/>
<rect x="345" y="150" width="18" height="2" fill="#1c1813"/>
<rect x="345" y="152" width="18" height="2" fill="#4d1412"/>
<rect x="345" y="154" width="18" height="2" fill="#7c1b19"/>
<rect x="345" y="156" width="18" height="2" fill="#851d1b"/>
<rect x="345" y="158" width="18" height="2" fill="#3f1311"/>
<rect x="345" y="160" width="18" height="2" fill="#222f1e"/>
<rect x="345" y="162" width="18" height="2" fill="#2e1410"/>
<rect x="345" y="164" width="18" height="2" fill="#581715"/>
<rect x="345" y="166" width="18" height="2" fill="#601715"/>
<rect x="345" y="168" width="18" height="2" fill="#411412"/>
<rect x="345" y="170" width="18" height="2" fill="#671917"/>
<rect x="345" y="172" width="18" height="2" fill="#491513"/>
<rect x="345" y="174" width="18" height="2" fill="#891b1b"/>
<rect x="345" y="176" width="18" height="2" fill="#5d1a18"/>
<rect x="345" y="178" width="18" height="2" fill="#971c1c"/>
<rect x="345" y="180" width="18" height="2" fill="#641917"/>
<rect x="345" y="182" width="18" height="2" fill="#7e1c1a"/>
<rect x="345" y="184" width="18" height="2" fill="#501513"/>
<rect x="345" y="186" width="18" height="2" fill="#2f1410"/>
<rect x="345" y="188" width="18" height="2" fill="#23291b"/>
<rect x="345" y="190" width="18" height="2" fill="#841d1b"/>
<rect x="345" y="192" width="18" height="2" fill="#841d1b"/>
<rect x="345" y="194" width="18" height="2" fill="#801c1a"/>
<rect x="345" y="196" width="18" height="2" fill="#261512"/>
<rect x="345" y="198" width="18" height="2" fill="#461513"/>
<rect x="345" y="200" width="18" height="2" fill="#351410"/>
<rect x="345" y="202" width="18" height="2" fill="#721917"/>
<rect x="345" y="204" width="18" height="2" fill="#771a18"/>
<rect x="345" y="206" width="18" height="2" fill="#401412"/>
<rect x="345" y="208" width="18" height="2" fill="#291b15"/>
<rect x="345" y="210" width="18" height="2" fill="#501513"/>
<rect x="345" y="212" width="18" height="2" fill="#391210"/>
<rect x="345" y="214" width="18" height="2" fill="#2f1511"/>
<rect x="345" y="216" width="18" height="2" fill="#2b1814"/>
<rect x="345" y="218" width="18" height="2" fill="#4f1413"/>
<rect x="345" y="220" width="18" height="2" fill="#801c1a"/>
<rect x="345" y="222" width="18" height="2" fill="#3b1210"/>
<rect x="345" y="224" width="18" height="2" fill="#4a1614"/>
<rect x="345" y="226" width="18" height="2" fill="#3c1211"/>
<rect x="345" y="228" width="18" height="2" fill="#3d1311"/>
<rect x="345" y="230" width="18" height="2" fill="#6c1816"/>
<rect x="345" y="232" width="18" height="2" fill="#641816"/>
<rect x="345" y="234" width="18" height="2" fill="#591715"/>
<rect x="345" y="236" width="18" height="2" fill="#491513"/>
<rect x="345" y="238" width="18" height="2" fill="#2a1814"/>
<rect x="345" y="240" width="18" height="2" fill="#2b371f"/>
<rect x="345" y="242" width="18" height="2" fill="#681a18"/>
<rect x="345" y="244" width="18" height="2" fill="#3b1210"/>
<rect x="345" y="246" width="18" height="2" fill="#991c1c"/>
<rect x="345" y="248" width="18" height="2" fill="#4c1614"/>
<rect x="345" y="250" width="18" height="2" fill="#421412"/>
<rect x="345" y="252" width="18" height="2" fill="#2a1814"/>
<rect x="345" y="254" width="18" height="2" fill="#401412"/>
<rect x="345" y="256" width="18" height="2" fill="#731917"/>
<rect x="345" y="258" width="18" height="2" fill="#3d1311"/>
<rect x="345" y="260" width="18" height="2" fill="#3b1210"/>
<rect x="345" y="262" width="18" height="2" fill="#421312"/>
<rect x="345" y="264" width="18" height="2" fill="#441412"/>
<rect x="345" y="266" width="18" height="2" fill="#381511"/>
<rect x="345" y="268" width="18" height="2" fill="#481513"/>
<rect x="345" y="270" width="18" height="2" fill="#801c1a"/>
<rect x="345" y="272" width="18" height="2" fill="#271612"/>
<rect x="345" y="274" width="18" height="2" fill="#621816"/>
<rect x="345" y="276" width="18" height="2" fill="#7f1c1a"/>
<rect x="345" y="278" width="18" height="2" fill="#691a18"/>
<rect x="345" y="280" width="18" height="2" fill="#6f1c1a"/>
<rect x="345" y="282" width="18" height="2" fill="#8f1c1c"/>
<rect x="345" y="284" width="18" height="2" fill="#781a18"/>
<rect x="345" y="286" width="18" height="2" fill="#4f1412"/>
<rect x="345" y="288" width="18" height="2" fill="#671a18"/>
<rect x="345" y="290" width="18" height="2" fill="#3f1311"/>
<rect x="345" y="292" width="18" height="2" fill="#7a1b19"/>
<rect x="345" y="294" width="18" height="2" fill="#2e1410"/>
<rect x="345" y="296" width="18" height="2" fill="#6f1917"/>
<rect x="345" y="298" width="18" height="2" fill="#291713"/>
<rect x="345" y="300" width="18" height="2" fill="#291713"/>
<rect x="345" y="302" width="18" height="2" fill="#2b1814"/>
<rect x="345" y="304" width="18" height="3" fill="#a91f1f"/>
<rect x="345" y="307" width="18" height="2" fill="#261612"/>
<rect x="345" y="309" width="18" height="2" fill="#661916"/>
<rect x="345" y="311" width="18" height="2" fill="#281613"/>
<rect x="345" y="313" width="18" height="2" fill="#4b1715"/>
<rect x="345" y="315" width="18" height="2" fill="#37612f"/>
<rect x="345" y="317" width="18" height="2" fill="#48803d"/>
<rect x="345" y="319" width="18" height="2" fill="#386431"/>
<rect x="345" y="321" width="18" height="2" fill="#3a6732"/>
<rect x="345" y="323" width="18" height="2" fill="#3d6c35"/>
<rect x="345" y="325" width="18" height="2" fill="#4c8740"/>
<rect x="345" y="327" width="18" height="2" fill="#376331"/>
<rect x="345" y="329" width="18" height="2" fill="#376231"/>
<rect x="345" y="331" width="18" height="2" fill="#376231"/>
<rect x="345" y="333" width="18" height="2" fill="#3f7236"/>
<rect x="345" y="335" width="18" height="2" fill="#32592c"/>
<rect x="345" y="337" width="18" height="2" fill="#263b20"/>
<rect x="345" y="339" width="18" height="2" fill="#202f1c"/>
<rect x="345" y="341" width="18" height="2" fill="#2f4e28"/>
<rect x="345" y="343" width="18" height="2" fill="#23341f"/>
<rect x="345" y="345" width="18" height="2" fill="#294424"/>
<rect x="345" y="347" width="18" height="2" fill="#551816"/>
<rect x="345" y="349" width="18" height="2" fill="#294023"/>
<rect x="345" y="351" width="18" height="2" fill="#3c6c33"/>
<rect x="345" y="353" width="18" height="2" fill="#365a2e"/>
<rect x="345" y="355" width="18" height="2" fill="#21311d"/>
<rect x="345" y="357" width="18" height="2" fill="#2f4e28"/>
<rect x="345" y="359" width="18" height="2" fill="#21301d"/>
<rect x="345" y="361" width="18" height="2" fill="#2a4524"/>
<rect x="345" y="363" width="18" height="2" fill="#427738"/>
<rect x="345" y="365" width="18" height="2" fill="#1b2417"/>
<rect x="345" y="367" width="18" height="2" fill="#386330"/>
<rect x="345" y="369" width="18" height="2" fill="#4e8941"/>
<rect x="345" y="371" width="18" height="2" fill="#4c8640"/>
<rect x="345" y="373" width="18" height="2" fill="#2b4725"/>
<rect x="345" y="375" width="18" height="2" fill="#21311d"/>
<rect x="345" y="377" width="18" height="2" fill="#2f4e28"/>
<rect x="345" y="379" width="18" height="2" fill="#284222"/>
<rect x="345" y="381" width="18" height="2" fill="#2a4123"/>
<rect x="345" y="383" width="18" height="2" fill="#243220"/>
<rect x="345" y="385" width="18" height="2" fill="#376231"/>
<rect x="345" y="387" width="18" height="2" fill="#3b6a32"/>
<rect x="345" y="389" width="18" height="2" fill="#69b150"/>
<rect x="345" y="391" width="18" height="2" fill="#386330"/>
<rect x="345" y="393" width="18" height="2" fill="#457a3a"/>
<rect x="345" y="395" width="18" height="2" fill="#366130"/>
<rect x="345" y="397" width="18" height="2" fill="#3a6732"/>
<rect x="345" y="399" width="18" height="2" fill="#4c813d"/>
<rect x="363" y="148" width="17" height="2" fill="#661a18"/>
<rect x="363" y="150" width="17" height="2" fill="#bb1a1c"/>
<rect x="363" y="152" width="17" height="2" fill="#711917"/>
<rect x="363" y="154" width="17" height="2" fill="#4e1412"/>
<rect x="363" y="156" width="17" height="2" fill="#6f1917"/>
<rect x="363" y="158" width="17" height="2" fill="#321612"/>
<rect x="363" y="160" width="17" height="2" fill="#731917"/>
<rect x="363" y="162" width="17" height="2" fill="#761a18"/>
<rect x="363" y="164" width="17" height="2" fill="#491513"/>
<rect x="363" y="166" width="17" height="2" fill="#941d1d"/>
<rect x="363" y="168" width="17" height="2" fill="#4e1715"/>
<rect x="363" y="170" width="17" height="2" fill="#2f1411"/>
<rect x="363" y="172" width="17" height="2" fill="#4d1614"/>
<rect x="363" y="174" width="17" height="2" fill="#3e1311"/>
<rect x="363" y="176" width="17" height="2" fill="#4c1312"/>
<rect x="363" y="178" width="17" height="2" fill="#344225"/>
<rect x="363" y="180" width="17" height="2" fill="#361d19"/>
<rect x="363" y="182" width="17" height="2" fill="#261612"/>
<rect x="363" y="184" width="17" height="2" fill="#841d1b"/>
<rect x="363" y="186" width="17" height="2" fill="#631816"/>
<rect x="363" y="188" width="17" height="2" fill="#371511"/>
<rect x="363" y="190" width="17" height="2" fill="#691816"/>
<rect x="363" y="192" width="17" height="2" fill="#631816"/>
<rect x="363" y="194" width="17" height="2" fill="#3c1211"/>
<rect x="363" y="196" width="17" height="2" fill="#3c1210"/>
<rect x="363" y="198" width="17" height="2" fill="#3b1612"/>
<rect x="363" y="200" width="17" height="2" fill="#3a1210"/>
<rect x="363" y="202" width="17" height="2" fill="#431412"/>
<rect x="363" y="204" width="17" height="2" fill="#751a18"/>
<rect x="363" y="206" width="17" height="2" fill="#3c1211"/>
<rect x="363" y="208" width="17" height="2" fill="#371511"/>
<rect x="363" y="210" width="17" height="2" fill="#381511"/>
<rect x="363" y="212" width="17" height="2" fill="#3d1713"/>
<rect x="363" y="214" width="17" height="2" fill="#6c1b19"/>
<rect x="363" y="216" width="17" height="2" fill="#4d1412"/>
<rect x="363" y="218" width="17" height="2" fill="#341712"/>
<rect x="363" y="220" width="17" height="2" fill="#331b17"/>
<rect x="363" y="222" width="17" height="2" fill="#1b2417"/>
<rect x="363" y="224" width="17" height="2" fill="#501413"/>
<rect x="363" y="226" width="17" height="2" fill="#781a18"/>
<rect x="363" y="228" width="17" height="2" fill="#261612"/>
<rect x="363" y="230" width="17" height="2" fill="#22301e"/>
<rect x="363" y="232" width="17" height="2" fill="#361410"/>
<rect x="363" y="234" width="17" height="2" fill="#361410"/>
<rect x="363" y="236" width="17" height="2" fill="#5f1715"/>
<rect x="363" y="238" width="17" height="2" fill="#741a18"/>
<rect x="363" y="240" width="17" height="2" fill="#271612"/>
<rect x="363" y="242" width="17" height="2" fill="#631816"/>
<rect x="363" y="244" width="17" height="2" fill="#401412"/>
<rect x="363" y="246" width="17" height="2" fill="#1d1913"/>
<rect x="363" y="248" width="17" height="2" fill="#7e1c1a"/>
<rect x="363" y="250" width="17" height="2" fill="#371511"/>
<rect x="363" y="252" width="17" height="2" fill="#341310"/>
<rect x="363" y="254" width="17" height="2" fill="#341410"/>
<rect x="363" y="256" width="17" height="2" fill="#22301f"/>
<rect x="363" y="258" width="17" height="2" fill="#9e1d1d"/>
<rect x="363" y="260" width="17" height="2" fill="#4f1412"/>
<rect x="363" y="262" width="17" height="2" fill="#731917"/>
<rect x="363" y="264" width="17" height="2" fill="#581715"/>
<rect x="363" y="266" width="17" height="2" fill="#351410"/>
<rect x="363" y="268" width="17" height="2" fill="#7b1b19"/>
<rect x="363" y="270" width="17" height="2" fill="#321612"/>
<rect x="363" y="272" width="17" height="2" fill="#781b19"/>
<rect x="363" y="274" width="17" height="2" fill="#331612"/>
<rect x="363" y="276" width="17" height="2" fill="#751a18"/>
<rect x="363" y="278" width="17" height="2" fill="#371411"/>
<rect x="363" y="280" width="17" height="2" fill="#581715"/>
<rect x="363" y="282" width="17" height="2" fill="#3b1612"/>
<rect x="363" y="284" width="17" height="2" fill="#4d1714"/>
<rect x="363" y="286" width="17" height="2" fill="#431513"/>
<rect x="363" y="288" width="17" height="2" fill="#781b19"/>
<rect x="363" y="290" width="17" height="2" fill="#6b1816"/>
<rect x="363" y="292" width="17" height="2" fill="#851d1b"/>
<rect x="363" y="294" width="17" height="2" fill="#a31e1e"/>
<rect x="363" y="296" width="17" height="2" fill="#721d1b"/>
<rect x="363" y="298" width="17" height="2" fill="#8c1b1b"/>
<rect x="363" y="300" width="17" height="2" fill="#661a18"/>
<rect x="363" y="302" width="17" height="2" fill="#801919"/>
<rect x="363" y="304" width="17" height="3" fill="#2e1410"/>
<rect x="363" y="307" width="17" height="2" fill="#401412"/>
<rect x="363" y="309" width="17" height="2" fill="#281713"/>
<rect x="363" y="311" width="17" height="2" fill="#541614"/>
<rect x="363" y="313" width="17" height="2" fill="#294424"/>
<rect x="363" y="315" width="17" height="2" fill="#294423"/>
<rect x="363" y="317" width="17" height="2" fill="#202f1c"/>
<rect x="363" y="319" width="17" height="2" fill="#294424"/>
<rect x="363" y="321" width="17" height="2" fill="#23341f"/>
<rect x="363" y="323" width="17" height="2" fill="#1d2719"/>
<rect x="363" y="325" width="17" height="2" fill="#315129"/>
<rect x="363" y="327" width="17" height="2" fill="#1c2518"/>
<rect x="363" y="329" width="17" height="2" fill="#1c1813"/>
<rect x="363" y="331" width="17" height="2" fill="#1d2719"/>
<rect x="363" y="333" width="17" height="2" fill="#191d15"/>
<rect x="363" y="335" width="17" height="2" fill="#2b1c16"/>
<rect x="363" y="337" width="17" height="2" fill="#1b1712"/>
<rect x="363" y="339" width="17" height="2" fill="#3b6031"/>
<rect x="363" y="341" width="17" height="2" fill="#23341f"/>
<rect x="363" y="343" width="17" height="2" fill="#20301d"/>
<rect x="363" y="345" width="17" height="2" fill="#243320"/>
<rect x="363" y="347" width="17" height="2" fill="#1a2216"/>
<rect x="363" y="349" width="17" height="2" fill="#253a20"/>
<rect x="363" y="351" width="17" height="2" fill="#2c4826"/>
<rect x="363" y="353" width="17" height="2" fill="#3d6332"/>
<rect x="363" y="355" width="17" height="2" fill="#365a2e"/>
<rect x="363" y="357" width="17" height="2" fill="#2b4725"/>
<rect x="363" y="359" width="17" height="2" fill="#345d2e"/>
<rect x="363" y="361" width="17" height="2" fill="#22301e"/>
<rect x="363" y="363" width="17" height="2" fill="#20301c"/>
<rect x="363" y="365" width="17" height="2" fill="#437638"/>
<rect x="363" y="367" width="17" height="2" fill="#1c1813"/>
<rect x="363" y="369" width="17" height="2" fill="#191d15"/>
<rect x="363" y="371" width="17" height="2" fill="#691f1d"/>
<rect x="363" y="373" width="17" height="2" fill="#171b14"/>
<rect x="363" y="375" width="17" height="2" fill="#35582d"/>
<rect x="363" y="377" width="17" height="2" fill="#20301c"/>
<rect x="363" y="379" width="17" height="2" fill="#305029"/>
<rect x="363" y="381" width="17" height="2" fill="#263c21"/>
<rect x="363" y="383" width="17" height="2" fill="#36572c"/>
<rect x="363" y="385" width="17" height="2" fill="#33552b"/>
<rect x="363" y="387" width="17" height="2" fill="#273d21"/>
<rect x="363" y="389" width="17" height="2" fill="#345d2e"/>
<rect x="363" y="391" width="17" height="2" fill="#23341f"/>
<rect x="363" y="393" width="17" height="2" fill="#3c6132"/>
<rect x="363" y="395" width="17" height="2" fill="#243220"/>
<rect x="363" y="397" width="17" height="2" fill="#385b2e"/>
<rect x="363" y="399" width="17" height="2" fill="#33552b"/>
<rect x="380" y="148" width="17" height="2" fill="#181c15"/>
<rect x="380" y="150" width="17" height="2" fill="#561614"/>
<rect x="380" y="152" width="17" height="2" fill="#451412"/>
<rect x="380" y="154" width="17" height="2" fill="#331612"/>
<rect x="380" y="156" width="17" height="2" fill="#242a1b"/>
<rect x="380" y="158" width="17" height="2" fill="#2c3920"/>
<rect x="380" y="160" width="17" height="2" fill="#2d3a20"/>
<rect x="380" y="162" width="17" height="2" fill="#272f1c"/>
<rect x="380" y="164" width="17" height="2" fill="#2d3a20"/>
<rect x="380" y="166" width="17" height="2" fill="#22281a"/>
<rect x="380" y="168" width="17" height="2" fill="#2f3c21"/>
<rect x="380" y="170" width="17" height="2" fill="#313f23"/>
<rect x="380" y="172" width="17" height="2" fill="#641816"/>
<rect x="380" y="174" width="17" height="2" fill="#841d1b"/>
<rect x="380" y="176" width="17" height="2" fill="#291713"/>
<rect x="380" y="178" width="17" height="2" fill="#661917"/>
<rect x="380" y="180" width="17" height="2" fill="#3a1612"/>
<rect x="380" y="182" width="17" height="2" fill="#4a1614"/>
<rect x="380" y="184" width="17" height="2" fill="#331b17"/>
<rect x="380" y="186" width="17" height="2" fill="#581715"/>
<rect x="380" y="188" width="17" height="2" fill="#4c1412"/>
<rect x="380" y="190" width="17" height="2" fill="#631816"/>
<rect x="380" y="192" width="17" height="2" fill="#4a1614"/>
<rect x="380" y="194" width="17" height="2" fill="#202d1c"/>
<rect x="380" y="196" width="17" height="2" fill="#441412"/>
<rect x="380" y="198" width="17" height="2" fill="#2e1410"/>
<rect x="380" y="200" width="17" height="2" fill="#262e1c"/>
<rect x="380" y="202" width="17" height="2" fill="#341410"/>
<rect x="380" y="204" width="17" height="2" fill="#761a18"/>
<rect x="380" y="206" width="17" height="2" fill="#2a1814"/>
<rect x="380" y="208" width="17" height="2" fill="#331612"/>
<rect x="380" y="210" width="17" height="2" fill="#891b1b"/>
<rect x="380" y="212" width="17" height="2" fill="#7d1b19"/>
<rect x="380" y="214" width="17" height="2" fill="#9e1d1d"/>
<rect x="380" y="216" width="17" height="2" fill="#741918"/>
<rect x="380" y="218" width="17" height="2" fill="#811c1a"/>
<rect x="380" y="220" width="17" height="2" fill="#a51e1e"/>
<rect x="380" y="222" width="17" height="2" fill="#5f1715"/>
<rect x="380" y="224" width="17" height="2" fill="#271612"/>
<rect x="380" y="226" width="17" height="2" fill="#301511"/>
<rect x="380" y="228" width="17" height="2" fill="#171b13"/>
<rect x="380" y="230" width="17" height="2" fill="#411412"/>
<rect x="380" y="232" width="17" height="2" fill="#4c1412"/>
<rect x="380" y="234" width="17" height="2" fill="#331b17"/>
<rect x="380" y="236" width="17" height="2" fill="#411412"/>
<rect x="380" y="238" width="17" height="2" fill="#601715"/>
<rect x="380" y="240" width="17" height="2" fill="#181c14"/>
<rect x="380" y="242" width="17" height="2" fill="#6a1816"/>
<rect x="380" y="244" width="17" height="2" fill="#1c1812"/>
<rect x="380" y="246" width="17" height="2" fill="#661715"/>
<rect x="380" y="248" width="17" height="2" fill="#491513"/>
<rect x="380" y="250" width="17" height="2" fill="#3b1210"/>
<rect x="380" y="252" width="17" height="2" fill="#971c1c"/>
<rect x="380" y="254" width="17" height="2" fill="#3a1612"/>
<rect x="380" y="256" width="17" height="2" fill="#4c1614"/>
<rect x="380" y="258" width="17" height="2" fill="#6f1917"/>
<rect x="380" y="260" width="17" height="2" fill="#851d1b"/>
<rect x="380" y="262" width="17" height="2" fill="#2f1411"/>
<rect x="380" y="264" width="17" height="2" fill="#421312"/>
<rect x="380" y="266" width="17" height="2" fill="#361411"/>
<rect x="380" y="268" width="17" height="2" fill="#7f1c1a"/>
<rect x="380" y="270" width="17" height="2" fill="#351410"/>
<rect x="380" y="272" width="17" height="2" fill="#341612"/>
<rect x="380" y="274" width="17" height="2" fill="#2d1410"/>
<rect x="380" y="276" width="17" height="2" fill="#291713"/>
<rect x="380" y="278" width="17" height="2" fill="#671715"/>
<rect x="380" y="280" width="17" height="2" fill="#2c1915"/>
<rect x="380" y="282" width="17" height="2" fill="#272f1d"/>
<rect x="380" y="284" width="17" height="2" fill="#3e1311"/>
<rect x="380" y="286" width="17" height="2" fill="#6d1b19"/>
<rect x="380" y="288" width="17" height="2" fill="#8d1b1b"/>
<rect x="380" y="290" width="17" height="2" fill="#701c1a"/>
<rect x="380" y="292" width="17" height="2" fill="#661a18"/>
<rect x="380" y="294" width="17" height="2" fill="#851d1b"/>
<rect x="380" y="296" width="17" height="2" fill="#4b1312"/>
<rect x="380" y="298" width="17" height="2" fill="#311511"/>
<rect x="380" y="300" width="17" height="2" fill="#6c1816"/>
<rect x="380" y="302" width="17" height="2" fill="#7b1b19"/>
<rect x="380" y="304" width="17" height="3" fill="#5c1614"/>
<rect x="380" y="307" width="17" height="2" fill="#331612"/>
<rect x="380" y="309" width="17" height="2" fill="#171b14"/>
<rect x="380" y="311" width="17" height="2" fill="#551614"/>
<rect x="380" y="313" width="17" height="2" fill="#811c1a"/>
<rect x="380" y="315" width="17" height="2" fill="#315129"/>
<rect x="380" y="317" width="17" height="2" fill="#1f291b"/>
<rect x="380" y="319" width="17" height="2" fill="#263b20"/>
<rect x="380" y="321" width="17" height="2" fill="#385c2f"/>
<rect x="380" y="323" width="17" height="2" fill="#33552b"/>
<rect x="380" y="325" width="17" height="2" fill="#34562c"/>
<rect x="380" y="327" width="17" height="2" fill="#22301e"/>
<rect x="380" y="329" width="17" height="2" fill="#2e4c28"/>
<rect x="380" y="331" width="17" height="2" fill="#681f1d"/>
<rect x="380" y="333" width="17" height="2" fill="#531715"/>
<rect x="380" y="335" width="17" height="2" fill="#5b1b19"/>
<rect x="380" y="337" width="17" height="2" fill="#274122"/>
<rect x="380" y="339" width="17" height="2" fill="#273d21"/>
<rect x="380" y="341" width="17" height="2" fill="#22321e"/>
<rect x="380" y="343" width="17" height="2" fill="#32542b"/>
<rect x="380" y="345" width="17" height="2" fill="#22321e"/>
<rect x="380" y="347" width="17" height="2" fill="#3a5f30"/>
<rect x="380" y="349" width="17" height="2" fill="#541716"/>
<rect x="380" y="351" width="17" height="2" fill="#35592d"/>
<rect x="380" y="353" width="17" height="2" fill="#35572c"/>
<rect x="380" y="355" width="17" height="2" fill="#2a4424"/>
<rect x="380" y="357" width="17" height="2" fill="#1f291b"/>
<rect x="380" y="359" width="17" height="2" fill="#35562c"/>
<rect x="380" y="361" width="17" height="2" fill="#35592d"/>
<rect x="380" y="363" width="17" height="2" fill="#2b4725"/>
<rect x="380" y="365" width="17" height="2" fill="#559643"/>
<rect x="380" y="367" width="17" height="2" fill="#32582c"/>
<rect x="380" y="369" width="17" height="2" fill="#589945"/>
<rect x="380" y="371" width="17" height="2" fill="#65aa4d"/>
<rect x="380" y="373" width="17" height="2" fill="#34542b"/>
<rect x="380" y="375" width="17" height="2" fill="#1e2d1b"/>
<rect x="380" y="377" width="17" height="2" fill="#2a4524"/>
<rect x="380" y="379" width="17" height="2" fill="#36582d"/>
<rect x="380" y="381" width="17" height="2" fill="#304f28"/>
<rect x="380" y="383" width="17" height="2" fill="#294023"/>
<rect x="380" y="385" width="17" height="2" fill="#386431"/>
<rect x="380" y="387" width="17" height="2" fill="#5d1a18"/>
<rect x="380" y="389" width="17" height="2" fill="#701c1a"/>
<rect x="380" y="391" width="17" height="2" fill="#4d1816"/>
<rect x="380" y="393" width="17" height="2" fill="#671f1d"/>
<rect x="380" y="395" width="17" height="2" fill="#22321e"/>
<rect x="380" y="397" width="17" height="2" fill="#23341f"/>
<rect x="380" y="399" width="17" height="2" fill="#35582d"/>
<rect x="397" y="148" width="18" height="2" fill="#5c1614"/>
<rect x="397" y="150" width="18" height="2" fill="#3a1210"/>
<rect x="397" y="152" width="18" height="2" fill="#511513"/>
<rect x="397" y="154" width="18" height="2" fill="#2f1411"/>
<rect x="397" y="156" width="18" height="2" fill="#2f1410"/>
<rect x="397" y="158" width="18" height="2" fill="#4f1412"/>
<rect x="397" y="160" width="18" height="2" fill="#311511"/>
<rect x="397" y="162" width="18" height="2" fill="#491513"/>
<rect x="397" y="164" width="18" height="2" fill="#4d1412"/>
<rect x="397" y="166" width="18" height="2" fill="#2a1814"/>
<rect x="397" y="168" width="18" height="2" fill="#7e1c1a"/>
<rect x="397" y="170" width="18" height="2" fill="#a41e1e"/>
<rect x="397" y="172" width="18" height="2" fill="#3c1612"/>
<rect x="397" y="174" width="18" height="2" fill="#451412"/>
<rect x="397" y="176" width="18" height="2" fill="#2f1411"/>
<rect x="397" y="178" width="18" height="2" fill="#391511"/>
<rect x="397" y="180" width="18" height="2" fill="#2e1410"/>
<rect x="397" y="182" width="18" height="2" fill="#511513"/>
<rect x="397" y="184" width="18" height="2" fill="#801c1a"/>
<rect x="397" y="186" width="18" height="2" fill="#2c1915"/>
<rect x="397" y="188" width="18" height="2" fill="#1b1712"/>
<rect x="397" y="190" width="18" height="2" fill="#731a18"/>
<rect x="397" y="192" width="18" height="2" fill="#2c1915"/>
<rect x="397" y="194" width="18" height="2" fill="#671a18"/>
<rect x="397" y="196" width="18" height="2" fill="#1b1812"/>
<rect x="397" y="198" width="18" height="2" fill="#3f1311"/>
<rect x="397" y="200" width="18" height="2" fill="#2b1914"/>
<rect x="397" y="202" width="18" height="2" fill="#2b1814"/>
<rect x="397" y="204" width="18" height="2" fill="#331612"/>
<rect x="397" y="206" width="18" height="2" fill="#271612"/>
<rect x="397" y="208" width="18" height="2" fill="#481513"/>
<rect x="397" y="210" width="18" height="2" fill="#1d2719"/>
<rect x="397" y="212" width="18" height="2" fill="#601715"/>
<rect x="397" y="214" width="18" height="2" fill="#222f1e"/>
<rect x="397" y="216" width="18" height="2" fill="#1f2417"/>
<rect x="397" y="218" width="18" height="2" fill="#4c1614"/>
<rect x="397" y="220" width="18" height="2" fill="#3c1712"/>
<rect x="397" y="222" width="18" height="2" fill="#261512"/>
<rect x="397" y="224" width="18" height="2" fill="#951d1d"/>
<rect x="397" y="226" width="18" height="2" fill="#351410"/>
<rect x="397" y="228" width="18" height="2" fill="#331612"/>
<rect x="397" y="230" width="18" height="2" fill="#6c1816"/>
<rect x="397" y="232" width="18" height="2" fill="#321612"/>
<rect x="397" y="234" width="18" height="2" fill="#261914"/>
<rect x="397" y="236" width="18" height="2" fill="#252d1b"/>
<rect x="397" y="238" width="18" height="2" fill="#281713"/>
<rect x="397" y="240" width="18" height="2" fill="#4f1412"/>
<rect x="397" y="242" width="18" height="2" fill="#701c1a"/>
<rect x="397" y="244" width="18" height="2" fill="#181c14"/>
<rect x="397" y="246" width="18" height="2" fill="#331612"/>
<rect x="397" y="248" width="18" height="2" fill="#5f1715"/>
<rect x="397" y="250" width="18" height="2" fill="#451412"/>
<rect x="397" y="252" width="18" height="2" fill="#3d1311"/>
<rect x="397" y="254" width="18" height="2" fill="#391511"/>
<rect x="397" y="256" width="18" height="2" fill="#4d1614"/>
<rect x="397" y="258" width="18" height="2" fill="#561614"/>
<rect x="397" y="260" width="18" height="2" fill="#7b1b19"/>
<rect x="397" y="262" width="18" height="2" fill="#761a18"/>
<rect x="397" y="264" width="18" height="2" fill="#831d1b"/>
<rect x="397" y="266" width="18" height="2" fill="#801c1a"/>
<rect x="397" y="268" width="18" height="2" fill="#721d1b"/>
<rect x="397" y="270" width="18" height="2" fill="#9b1d1d"/>
<rect x="397" y="272" width="18" height="2" fill="#271a14"/>
<rect x="397" y="274" width="18" height="2" fill="#371511"/>
<rect x="397" y="276" width="18" height="2" fill="#5b1614"/>
<rect x="397" y="278" width="18" height="2" fill="#2e1410"/>
<rect x="397" y="280" width="18" height="2" fill="#7d1b19"/>
<rect x="397" y="282" width="18" height="2" fill="#471513"/>
<rect x="397" y="284" width="18" height="2" fill="#2b1914"/>
<rect x="397" y="286" width="18" height="2" fill="#8e1c1c"/>
<rect x="397" y="288" width="18" height="2" fill="#7c1b19"/>
<rect x="397" y="290" width="18" height="2" fill="#a51f1f"/>
<rect x="397" y="292" width="18" height="2" fill="#851a1a"/>
<rect x="397" y="294" width="18" height="2" fill="#951d1d"/>
<rect x="397" y="296" width="18" height="2" fill="#7d1b19"/>
<rect x="397" y="298" width="18" height="2" fill="#a91f1f"/>
<rect x="397" y="300" width="18" height="2" fill="#8b1b1b"/>
<rect x="397" y="302" width="18" height="2" fill="#661a18"/>
<rect x="397" y="304" width="18" height="3" fill="#2a1814"/>
<rect x="397" y="307" width="18" height="2" fill="#771b19"/>
<rect x="397" y="309" width="18" height="2" fill="#731a18"/>
<rect x="397" y="311" width="18" height="2" fill="#7b1b19"/>
<rect x="397" y="313" width="18" height="2" fill="#5e1a18"/>
<rect x="397" y="315" width="18" height="2" fill="#294323"/>
<rect x="397" y="317" width="18" height="2" fill="#37592d"/>
<rect x="397" y="319" width="18" height="2" fill="#182014"/>
<rect x="397" y="321" width="18" height="2" fill="#31582c"/>
<rect x="397" y="323" width="18" height="2" fill="#284223"/>
<rect x="397" y="325" width="18" height="2" fill="#1f2d1b"/>
<rect x="397" y="327" width="18" height="2" fill="#315129"/>
<rect x="397" y="329" width="18" height="2" fill="#294023"/>
<rect x="397" y="331" width="18" height="2" fill="#3a5e30"/>
<rect x="397" y="333" width="18" height="2" fill="#283e22"/>
<rect x="397" y="335" width="18" height="2" fill="#23331f"/>
<rect x="397" y="337" width="18" height="2" fill="#21311d"/>
<rect x="397" y="339" width="18" height="2" fill="#4b803c"/>
<rect x="397" y="341" width="18" height="2" fill="#365a2e"/>
<rect x="397" y="343" width="18" height="2" fill="#407236"/>
<rect x="397" y="345" width="18" height="2" fill="#21311d"/>
<rect x="397" y="347" width="18" height="2" fill="#202f1c"/>
<rect x="397" y="349" width="18" height="2" fill="#34542b"/>
<rect x="397" y="351" width="18" height="2" fill="#2d4b27"/>
<rect x="397" y="353" width="18" height="2" fill="#253a20"/>
<rect x="397" y="355" width="18" height="2" fill="#22331e"/>
<rect x="397" y="357" width="18" height="2" fill="#273c21"/>
<rect x="397" y="359" width="18" height="2" fill="#34552b"/>
<rect x="397" y="361" width="18" height="2" fill="#31582c"/>
<rect x="397" y="363" width="18" height="2" fill="#21311d"/>
<rect x="397" y="365" width="18" height="2" fill="#5fa74a"/>
<rect x="397" y="367" width="18" height="2" fill="#599e46"/>
<rect x="397" y="369" width="18" height="2" fill="#5e9f48"/>
<rect x="397" y="371" width="18" height="2" fill="#6bb451"/>
<rect x="397" y="373" width="18" height="2" fill="#589b45"/>
<rect x="397" y="375" width="18" height="2" fill="#2e4b27"/>
<rect x="397" y="377" width="18" height="2" fill="#36592d"/>
<rect x="397" y="379" width="18" height="2" fill="#22331e"/>
<rect x="397" y="381" width="18" height="2" fill="#4a7e3b"/>
<rect x="397" y="383" width="18" height="2" fill="#508940"/>
<rect x="397" y="385" width="18" height="2" fill="#3f6f36"/>
<rect x="397" y="387" width="18" height="2" fill="#437538"/>
<rect x="397" y="389" width="18" height="2" fill="#3e6f36"/>
<rect x="397" y="391" width="18" height="2" fill="#528c42"/>
<rect x="397" y="393" width="18" height="2" fill="#365f2f"/>
<rect x="397" y="395" width="18" height="2" fill="#37612f"/>
<rect x="397" y="397" width="18" height="2" fill="#417537"/>
<rect x="397" y="399" width="18" height="2" fill="#4e853e"/>
<rect x="415" y="148" width="17" height="2" fill="#251512"/>
<rect x="415" y="150" width="17" height="2" fill="#2e1410"/>
<rect x="415" y="152" width="17" height="2" fill="#3b1210"/>
<rect x="415" y="154" width="17" height="2" fill="#3b1612"/>
<rect x="415" y="156" width="17" height="2" fill="#671715"/>
<rect x="415" y="158" width="17" height="2" fill="#3e1311"/>
<rect x="415" y="160" width="17" height="2" fill="#771b19"/>
<rect x="415" y="162" width="17" height="2" fill="#1f2a1b"/>
<rect x="415" y="164" width="17" height="2" fill="#651816"/>
<rect x="415" y="166" width="17" height="2" fill="#2d1410"/>
<rect x="415" y="168" width="17" height="2" fill="#341410"/>
<rect x="415" y="170" width="17" height="2" fill="#271612"/>
<rect x="415" y="172" width="17" height="2" fill="#721917"/>
<rect x="415" y="174" width="17" height="2" fill="#751a18"/>
<rect x="415" y="176" width="17" height="2" fill="#3f1311"/>
<rect x="415" y="178" width="17" height="2" fill="#891b1b"/>
<rect x="415" y="180" width="17" height="2" fill="#7a1b19"/>
<rect x="415" y="182" width="17" height="2" fill="#861a1a"/>
<rect x="415" y="184" width="17" height="2" fill="#6d1917"/>
<rect x="415" y="186" width="17" height="2" fill="#6d1817"/>
<rect x="415" y="188" width="17" height="2" fill="#501413"/>
<rect x="415" y="190" width="17" height="2" fill="#431412"/>
<rect x="415" y="192" width="17" height="2" fill="#4f1412"/>
<rect x="415" y="194" width="17" height="2" fill="#3c1210"/>
<rect x="415" y="196" width="17" height="2" fill="#901c1c"/>
<rect x="415" y="198" width="17" height="2" fill="#3b1915"/>
<rect x="415" y="200" width="17" height="2" fill="#3c1a16"/>
<rect x="415" y="202" width="17" height="2" fill="#4a1715"/>
<rect x="415" y="204" width="17" height="2" fill="#a11e1e"/>
<rect x="415" y="206" width="17" height="2" fill="#921c1c"/>
<rect x="415" y="208" width="17" height="2" fill="#7d1b19"/>
<rect x="415" y="210" width="17" height="2" fill="#531513"/>
<rect x="415" y="212" width="17" height="2" fill="#212e1d"/>
<rect x="415" y="214" width="17" height="2" fill="#661916"/>
<rect x="415" y="216" width="17" height="2" fill="#411412"/>
<rect x="415" y="218" width="17" height="2" fill="#421312"/>
<rect x="415" y="220" width="17" height="2" fill="#4d1614"/>
<rect x="415" y="222" width="17" height="2" fill="#781b19"/>
<rect x="415" y="224" width="17" height="2" fill="#3a1612"/>
<rect x="415" y="226" width="17" height="2" fill="#222919"/>
<rect x="415" y="228" width="17" height="2" fill="#261612"/>
<rect x="415" y="230" width="17" height="2" fill="#4d1714"/>
<rect x="415" y="232" width="17" height="2" fill="#1d2719"/>
<rect x="415" y="234" width="17" height="2" fill="#5d1614"/>
<rect x="415" y="236" width="17" height="2" fill="#391511"/>
<rect x="415" y="238" width="17" height="2" fill="#1f1b14"/>
<rect x="415" y="240" width="17" height="2" fill="#761a18"/>
<rect x="415" y="242" width="17" height="2" fill="#3c1712"/>
<rect x="415" y="244" width="17" height="2" fill="#7e1c1a"/>
<rect x="415" y="246" width="17" height="2" fill="#821919"/>
<rect x="415" y="248" width="17" height="2" fill="#8e1c1c"/>
<rect x="415" y="250" width="17" height="2" fill="#601b19"/>
<rect x="415" y="252" width="17" height="2" fill="#891b1b"/>
<rect x="415" y="254" width="17" height="2" fill="#351410"/>
<rect x="415" y="256" width="17" height="2" fill="#801c1a"/>
<rect x="415" y="258" width="17" height="2" fill="#2a1814"/>
<rect x="415" y="260" width="17" height="2" fill="#261914"/>
<rect x="415" y="262" width="17" height="2" fill="#431512"/>
<rect x="415" y="264" width="17" height="2" fill="#4c1614"/>
<rect x="415" y="266" width="17" height="2" fill="#421412"/>
<rect x="415" y="268" width="17" height="2" fill="#4c1312"/>
<rect x="415" y="270" width="17" height="2" fill="#631917"/>
<rect x="415" y="272" width="17" height="2" fill="#3c1612"/>
<rect x="415" y="274" width="17" height="2" fill="#2a1814"/>
<rect x="415" y="276" width="17" height="2" fill="#411412"/>
<rect x="415" y="278" width="17" height="2" fill="#481513"/>
<rect x="415" y="280" width="17" height="2" fill="#381511"/>
<rect x="415" y="282" width="17" height="2" fill="#3b1210"/>
<rect x="415" y="284" width="17" height="2" fill="#331612"/>
<rect x="415" y="286" width="17" height="2" fill="#2c3820"/>
<rect x="415" y="288" width="17" height="2" fill="#2c3820"/>
<rect x="415" y="290" width="17" height="2" fill="#261512"/>
<rect x="415" y="292" width="17" height="2" fill="#2a1814"/>
<rect x="415" y="294" width="17" height="2" fill="#8e1c1c"/>
<rect x="415" y="296" width="17" height="2" fill="#431512"/>
<rect x="415" y="298" width="17" height="2" fill="#381511"/>
<rect x="415" y="300" width="17" height="2" fill="#a61f1f"/>
<rect x="415" y="302" width="17" height="2" fill="#261512"/>
<rect x="415" y="304" width="17" height="3" fill="#291713"/>
<rect x="415" y="307" width="17" height="2" fill="#331612"/>
<rect x="415" y="309" width="17" height="2" fill="#301511"/>
<rect x="415" y="311" width="17" height="2" fill="#4a1614"/>
<rect x="415" y="313" width="17" height="2" fill="#721917"/>
<rect x="415" y="315" width="17" height="2" fill="#253a20"/>
<rect x="415" y="317" width="17" height="2" fill="#2b4725"/>
<rect x="415" y="319" width="17" height="2" fill="#284122"/>
<rect x="415" y="321" width="17" height="2" fill="#293f22"/>
<rect x="415" y="323" width="17" height="2" fill="#33552b"/>
<rect x="415" y="325" width="17" height="2" fill="#24371e"/>
<rect x="415" y="327" width="17" height="2" fill="#263b20"/>
<rect x="415" y="329" width="17" height="2" fill="#202f1c"/>
<rect x="415" y="331" width="17" height="2" fill="#2a4524"/>
<rect x="415" y="333" width="17" height="2" fill="#1f2e1b"/>
<rect x="415" y="335" width="17" height="2" fill="#34552b"/>
<rect x="415" y="337" width="17" height="2" fill="#376231"/>
<rect x="415" y="339" width="17" height="2" fill="#1f2d1b"/>
<rect x="415" y="341" width="17" height="2" fill="#35562c"/>
<rect x="415" y="343" width="17" height="2" fill="#23341f"/>
<rect x="415" y="345" width="17" height="2" fill="#1e281a"/>
<rect x="415" y="347" width="17" height="2" fill="#222f1e"/>
<rect x="415" y="349" width="17" height="2" fill="#294023"/>
<rect x="415" y="351" width="17" height="2" fill="#23341f"/>
<rect x="415" y="353" width="17" height="2" fill="#294023"/>
<rect x="415" y="355" width="17" height="2" fill="#21311d"/>
<rect x="415" y="357" width="17" height="2" fill="#212e1d"/>
<rect x="415" y="359" width="17" height="2" fill="#1e2d1b"/>
<rect x="415" y="361" width="17" height="2" fill="#2d4a27"/>
<rect x="415" y="363" width="17" height="2" fill="#3c6131"/>
<rect x="415" y="365" width="17" height="2" fill="#341c18"/>
<rect x="415" y="367" width="17" height="2" fill="#641e1c"/>
<rect x="415" y="369" width="17" height="2" fill="#5f1c1a"/>
<rect x="415" y="371" width="17" height="2" fill="#212e1d"/>
<rect x="415" y="373" width="17" height="2" fill="#1f291a"/>
<rect x="415" y="375" width="17" height="2" fill="#1c2618"/>
<rect x="415" y="377" width="17" height="2" fill="#1b2518"/>
<rect x="415" y="379" width="17" height="2" fill="#1f1b15"/>
<rect x="415" y="381" width="17" height="2" fill="#23301f"/>
<rect x="415" y="383" width="17" height="2" fill="#2c4826"/>
<rect x="415" y="385" width="17" height="2" fill="#3d6232"/>
<rect x="415" y="387" width="17" height="2" fill="#2f4e28"/>
<rect x="415" y="389" width="17" height="2" fill="#487f3c"/>
<rect x="415" y="391" width="17" height="2" fill="#273d21"/>
<rect x="415" y="393" width="17" height="2" fill="#294023"/>
<rect x="415" y="395" width="17" height="2" fill="#2a4625"/>
<rect x="415" y="397" width="17" height="2" fill="#23331f"/>
<rect x="415" y="399" width="17" height="2" fill="#467b3a"/>
<rect x="432" y="148" width="18" height="2" fill="#2e1410"/>
<rect x="432" y="150" width="18" height="2" fill="#3c1712"/>
<rect x="432" y="152" width="18" height="2" fill="#7b1b19"/>
<rect x="432" y="154" width="18" height="2" fill="#2d1410"/>
<rect x="432" y="156" width="18" height="2" fill="#4b1312"/>
<rect x="432" y="158" width="18" height="2" fill="#421412"/>
<rect x="432" y="160" width="18" height="2" fill="#2b371f"/>
<rect x="432" y="162" width="18" height="2" fill="#3d1311"/>
<rect x="432" y="164" width="18" height="2" fill="#5f1715"/>
<rect x="432" y="166" width="18" height="2" fill="#7a1b19"/>
<rect x="432" y="168" width="18" height="2" fill="#be1b1c"/>
<rect x="432" y="170" width="18" height="2" fill="#a21e1e"/>
<rect x="432" y="172" width="18" height="2" fill="#661a18"/>
<rect x="432" y="174" width="18" height="2" fill="#3c1612"/>
<rect x="432" y="176" width="18" height="2" fill="#3e1311"/>
<rect x="432" y="178" width="18" height="2" fill="#521513"/>
<rect x="432" y="180" width="18" height="2" fill="#721d1b"/>
<rect x="432" y="182" width="18" height="2" fill="#2e1410"/>
<rect x="432" y="184" width="18" height="2" fill="#751a18"/>
<rect x="432" y="186" width="18" height="2" fill="#1c1813"/>
<rect x="432" y="188" width="18" height="2" fill="#381511"/>
<rect x="432" y="190" width="18" height="2" fill="#4d1412"/>
<rect x="432" y="192" width="18" height="2" fill="#1b1f16"/>
<rect x="432" y="194" width="18" height="2" fill="#611715"/>
<rect x="432" y="196" width="18" height="2" fill="#481513"/>
<rect x="432" y="198" width="18" height="2" fill="#1b1f16"/>
<rect x="432" y="200" width="18" height="2" fill="#a51f1f"/>
<rect x="432" y="202" width="18" height="2" fill="#981c1c"/>
<rect x="432" y="204" width="18" height="2" fill="#3b1612"/>
<rect x="432" y="206" width="18" height="2" fill="#5c1614"/>
<rect x="432" y="208" width="18" height="2" fill="#741a18"/>
<rect x="432" y="210" width="18" height="2" fill="#6c1816"/>
<rect x="432" y="212" width="18" height="2" fill="#7d1b19"/>
<rect x="432" y="214" width="18" height="2" fill="#721917"/>
<rect x="432" y="216" width="18" height="2" fill="#411412"/>
<rect x="432" y="218" width="18" height="2" fill="#321612"/>
<rect x="432" y="220" width="18" height="2" fill="#381511"/>
<rect x="432" y="222" width="18" height="2" fill="#3f1311"/>
<rect x="432" y="224" width="18" height="2" fill="#621816"/>
<rect x="432" y="226" width="18" height="2" fill="#5a1614"/>
<rect x="432" y="228" width="18" height="2" fill="#261914"/>
<rect x="432" y="230" width="18" height="2" fill="#331b17"/>
<rect x="432" y="232" width="18" height="2" fill="#771b19"/>
<rect x="432" y="234" width="18" height="2" fill="#721917"/>
<rect x="432" y="236" width="18" height="2" fill="#431412"/>
<rect x="432" y="238" width="18" height="2" fill="#611715"/>
<rect x="432" y="240" width="18" height="2" fill="#4e1412"/>
<rect x="432" y="242" width="18" height="2" fill="#751a18"/>
<rect x="432" y="244" width="18" height="2" fill="#511513"/>
<rect x="432" y="246" width="18" height="2" fill="#651918"/>
<rect x="432" y="248" width="18" height="2" fill="#271a14"/>
<rect x="432" y="250" width="18" height="2" fill="#771a18"/>
<rect x="432" y="252" width="18" height="2" fill="#6b1816"/>
<rect x="432" y="254" width="18" height="2" fill="#341612"/>
<rect x="432" y="256" width="18" height="2" fill="#7d1b19"/>
<rect x="432" y="258" width="18" height="2" fill="#4f1412"/>
<rect x="432" y="260" width="18" height="2" fill="#212e1e"/>
<rect x="432" y="262" width="18" height="2" fill="#171b14"/>
<rect x="432" y="264" width="18" height="2" fill="#6a1816"/>
<rect x="432" y="266" width="18" height="2" fill="#561614"/>
<rect x="432" y="268" width="18" height="2" fill="#611715"/>
<rect x="432" y="270" width="18" height="2" fill="#311511"/>
<rect x="432" y="272" width="18" height="2" fill="#491513"/>
<rect x="432" y="274" width="18" height="2" fill="#4c1614"/>
<rect x="432" y="276" width="18" height="2" fill="#321612"/>
<rect x="432" y="278" width="18" height="2" fill="#3e1311"/>
<rect x="432" y="280" width="18" height="2" fill="#212719"/>
<rect x="432" y="282" width="18" height="2" fill="#262e1c"/>
<rect x="432" y="284" width="18" height="2" fill="#29351e"/>
<rect x="432" y="286" width="18" height="2" fill="#2f3c22"/>
<rect x="432" y="288" width="18" height="2" fill="#27301d"/>
<rect x="432" y="290" width="18" height="2" fill="#1e2417"/>
<rect x="432" y="292" width="18" height="2" fill="#313e23"/>
<rect x="432" y="294" width="18" height="2" fill="#303e23"/>
<rect x="432" y="296" width="18" height="2" fill="#262e1c"/>
<rect x="432" y="298" width="18" height="2" fill="#23291a"/>
<rect x="432" y="300" width="18" height="2" fill="#232a1a"/>
<rect x="432" y="302" width="18" height="2" fill="#232a1a"/>
<rect x="432" y="304" width="18" height="3" fill="#381511"/>
<rect x="432" y="307" width="18" height="2" fill="#243220"/>
<rect x="432" y="309" width="18" height="2" fill="#3f1311"/>
<rect x="432" y="311" width="18" height="2" fill="#701917"/>
<rect x="432" y="313" width="18" height="2" fill="#1c2518"/>
<rect x="432" y="315" width="18" height="2" fill="#341c18"/>
<rect x="432" y="317" width="18" height="2" fill="#281a15"/>
<rect x="432" y="319" width="18" height="2" fill="#3f1b17"/>
<rect x="432" y="321" width="18" height="2" fill="#385b2e"/>
<rect x="432" y="323" width="18" height="2" fill="#243320"/>
<rect x="432" y="325" width="18" height="2" fill="#395d2f"/>
<rect x="432" y="327" width="18" height="2" fill="#202f1c"/>
<rect x="432" y="329" width="18" height="2" fill="#24381f"/>
<rect x="432" y="331" width="18" height="2" fill="#2a4524"/>
<rect x="432" y="333" width="18" height="2" fill="#3b5f30"/>
<rect x="432" y="335" width="18" height="2" fill="#202f1c"/>
<rect x="432" y="337" width="18" height="2" fill="#304f28"/>
<rect x="432" y="339" width="18" height="2" fill="#33552b"/>
<rect x="432" y="341" width="18" height="2" fill="#24381f"/>
<rect x="432" y="343" width="18" height="2" fill="#2b4725"/>
<rect x="432" y="345" width="18" height="2" fill="#34552b"/>
<rect x="432" y="347" width="18" height="2" fill="#35592d"/>
<rect x="432" y="349" width="18" height="2" fill="#294023"/>
<rect x="432" y="351" width="18" height="2" fill="#549044"/>
<rect x="432" y="353" width="18" height="2" fill="#4e853e"/>
<rect x="432" y="355" width="18" height="2" fill="#22321e"/>
<rect x="432" y="357" width="18" height="2" fill="#23331f"/>
<rect x="432" y="359" width="18" height="2" fill="#4e853f"/>
<rect x="432" y="361" width="18" height="2" fill="#36582c"/>
<rect x="432" y="363" width="18" height="2" fill="#37592d"/>
<rect x="432" y="365" width="18" height="2" fill="#395d2f"/>
<rect x="432" y="367" width="18" height="2" fill="#305029"/>
<rect x="432" y="369" width="18" height="2" fill="#3c1a16"/>
<rect x="432" y="371" width="18" height="2" fill="#651e1c"/>
<rect x="432" y="373" width="18" height="2" fill="#4b1715"/>
<rect x="432" y="375" width="18" height="2" fill="#3c6131"/>
<rect x="432" y="377" width="18" height="2" fill="#385a2e"/>
<rect x="432" y="379" width="18" height="2" fill="#621d1b"/>
<rect x="432" y="381" width="18" height="2" fill="#2f4e28"/>
<rect x="432" y="383" width="18" height="2" fill="#2b4625"/>
<rect x="432" y="385" width="18" height="2" fill="#2a4123"/>
<rect x="432" y="387" width="18" height="2" fill="#35562c"/>
<rect x="432" y="389" width="18" height="2" fill="#315129"/>
<rect x="432" y="391" width="18" height="2" fill="#37592d"/>
<rect x="432" y="393" width="18" height="2" fill="#22321e"/>
<rect x="432" y="395" width="18" height="2" fill="#1f2d1b"/>
<rect x="432" y="397" width="18" height="2" fill="#4e863f"/>
<rect x="432" y="399" width="18" height="2" fill="#2a4524"/>
<rect x="450" y="148" width="17" height="2" fill="#2e1410"/>
<rect x="450" y="150" width="17" height="2" fill="#361410"/>
<rect x="450" y="152" width="17" height="2" fill="#3f1311"/>
<rect x="450" y="154" width="17" height="2" fill="#341c18"/>
<rect x="450" y="156" width="17" height="2" fill="#741a18"/>
<rect x="450" y="158" width="17" height="2" fill="#271612"/>
<rect x="450" y="160" width="17" height="2" fill="#9d1d1d"/>
<rect x="450" y="162" width="17" height="2" fill="#901c1c"/>
<rect x="450" y="164" width="17" height="2" fill="#4d1412"/>
<rect x="450" y="166" width="17" height="2" fill="#1e291a"/>
<rect x="450" y="168" width="17" height="2" fill="#261612"/>
<rect x="450" y="170" width="17" height="2" fill="#7d1b19"/>
<rect x="450" y="172" width="17" height="2" fill="#751a18"/>
<rect x="450" y="174" width="17" height="2" fill="#4b1614"/>
<rect x="450" y="176" width="17" height="2" fill="#421412"/>
<rect x="450" y="178" width="17" height="2" fill="#23311f"/>
<rect x="450" y="180" width="17" height="2" fill="#281713"/>
<rect x="450" y="182" width="17" height="2" fill="#361410"/>
<rect x="450" y="184" width="17" height="2" fill="#1b2417"/>
<rect x="450" y="186" width="17" height="2" fill="#7f1c1a"/>
<rect x="450" y="188" width="17" height="2" fill="#821c1a"/>
<rect x="450" y="190" width="17" height="2" fill="#331612"/>
<rect x="450" y="192" width="17" height="2" fill="#253321"/>
<rect x="450" y="194" width="17" height="2" fill="#761b18"/>
<rect x="450" y="196" width="17" height="2" fill="#22301f"/>
<rect x="450" y="198" width="17" height="2" fill="#481513"/>
<rect x="450" y="200" width="17" height="2" fill="#3e1311"/>
<rect x="450" y="202" width="17" height="2" fill="#6e1917"/>
<rect x="450" y="204" width="17" height="2" fill="#411412"/>
<rect x="450" y="206" width="17" height="2" fill="#3d1311"/>
<rect x="450" y="208" width="17" height="2" fill="#4d1412"/>
<rect x="450" y="210" width="17" height="2" fill="#6d1817"/>
<rect x="450" y="212" width="17" height="2" fill="#911b1b"/>
<rect x="450" y="214" width="17" height="2" fill="#3e1311"/>
<rect x="450" y="216" width="17" height="2" fill="#281b15"/>
<rect x="450" y="218" width="17" height="2" fill="#291b15"/>
<rect x="450" y="220" width="17" height="2" fill="#411412"/>
<rect x="450" y="222" width="17" height="2" fill="#6b1b19"/>
<rect x="450" y="224" width="17" height="2" fill="#6a1b19"/>
<rect x="450" y="226" width="17" height="2" fill="#831d1b"/>
<rect x="450" y="228" width="17" height="2" fill="#9e1d1d"/>
<rect x="450" y="230" width="17" height="2" fill="#371814"/>
<rect x="450" y="232" width="17" height="2" fill="#7a1b19"/>
<rect x="450" y="234" width="17" height="2" fill="#831d1b"/>
<rect x="450" y="236" width="17" height="2" fill="#311a16"/>
<rect x="450" y="238" width="17" height="2" fill="#491513"/>
<rect x="450" y="240" width="17" height="2" fill="#551614"/>
<rect x="450" y="242" width="17" height="2" fill="#471513"/>
<rect x="450" y="244" width="17" height="2" fill="#6c1816"/>
<rect x="450" y="246" width="17" height="2" fill="#451412"/>
<rect x="450" y="248" width="17" height="2" fill="#461513"/>
<rect x="450" y="250" width="17" height="2" fill="#331b17"/>
<rect x="450" y="252" width="17" height="2" fill="#421412"/>
<rect x="450" y="254" width="17" height="2" fill="#751a18"/>
<rect x="450" y="256" width="17" height="2" fill="#591514"/>
<rect x="450" y="258" width="17" height="2" fill="#821c1a"/>
<rect x="450" y="260" width="17" height="2" fill="#661916"/>
<rect x="450" y="262" width="17" height="2" fill="#661a18"/>
<rect x="450" y="264" width="17" height="2" fill="#7e1c1a"/>
<rect x="450" y="266" width="17" height="2" fill="#671a18"/>
<rect x="450" y="268" width="17" height="2" fill="#be1a1c"/>
<rect x="450" y="270" width="17" height="2" fill="#731d1b"/>
<rect x="450" y="272" width="17" height="2" fill="#601715"/>
<rect x="450" y="274" width="17" height="2" fill="#3f1311"/>
<rect x="450" y="276" width="17" height="2" fill="#341310"/>
<rect x="450" y="278" width="17" height="2" fill="#361410"/>
<rect x="450" y="280" width="17" height="2" fill="#7e1c1a"/>
<rect x="450" y="282" width="17" height="2" fill="#761a18"/>
<rect x="450" y="284" width="17" height="2" fill="#301511"/>
<rect x="450" y="286" width="17" height="2" fill="#441412"/>
<rect x="450" y="288" width="17" height="2" fill="#3d1311"/>
<rect x="450" y="290" width="17" height="2" fill="#3b1612"/>
<rect x="450" y="292" width="17" height="2" fill="#611715"/>
<rect x="450" y="294" width="17" height="2" fill="#731a18"/>
<rect x="450" y="296" width="17" height="2" fill="#2e1410"/>
<rect x="450" y="298" width="17" height="2" fill="#441412"/>
<rect x="450" y="300" width="17" height="2" fill="#5c1614"/>
<rect x="450" y="302" width="17" height="2" fill="#2f1411"/>
<rect x="450" y="304" width="17" height="3" fill="#5a1614"/>
<rect x="450" y="307" width="17" height="2" fill="#751a18"/>
<rect x="450" y="309" width="17" height="2" fill="#5e1715"/>
<rect x="450" y="311" width="17" height="2" fill="#401412"/>
<rect x="450" y="313" width="17" height="2" fill="#569245"/>
<rect x="450" y="315" width="17" height="2" fill="#345d2e"/>
<rect x="450" y="317" width="17" height="2" fill="#65ab4d"/>
<rect x="450" y="319" width="17" height="2" fill="#5ea649"/>
<rect x="450" y="321" width="17" height="2" fill="#5ca248"/>
<rect x="450" y="323" width="17" height="2" fill="#5ca348"/>
<rect x="450" y="325" width="17" height="2" fill="#23341f"/>
<rect x="450" y="327" width="17" height="2" fill="#273d21"/>
<rect x="450" y="329" width="17" height="2" fill="#263b20"/>
<rect x="450" y="331" width="17" height="2" fill="#22321e"/>
<rect x="450" y="333" width="17" height="2" fill="#2d4a27"/>
<rect x="450" y="335" width="17" height="2" fill="#3b6031"/>
<rect x="450" y="337" width="17" height="2" fill="#2b4725"/>
<rect x="450" y="339" width="17" height="2" fill="#37592d"/>
<rect x="450" y="341" width="17" height="2" fill="#283e22"/>
<rect x="450" y="343" width="17" height="2" fill="#22331e"/>
<rect x="450" y="345" width="17" height="2" fill="#2e4b27"/>
<rect x="450" y="347" width="17" height="2" fill="#1f2e1b"/>
<rect x="450" y="349" width="17" height="2" fill="#263c20"/>
<rect x="450" y="351" width="17" height="2" fill="#202f1c"/>
<rect x="450" y="353" width="17" height="2" fill="#2a4524"/>
<rect x="450" y="355" width="17" height="2" fill="#2c4826"/>
<rect x="450" y="357" width="17" height="2" fill="#34572c"/>
<rect x="450" y="359" width="17" height="2" fill="#2a4124"/>
<rect x="450" y="361" width="17" height="2" fill="#273d21"/>
<rect x="450" y="363" width="17" height="2" fill="#365a2e"/>
<rect x="450" y="365" width="17" height="2" fill="#1e2d1b"/>
<rect x="450" y="367" width="17" height="2" fill="#437939"/>
<rect x="450" y="369" width="17" height="2" fill="#386431"/>
<rect x="450" y="371" width="17" height="2" fill="#376130"/>
<rect x="450" y="373" width="17" height="2" fill="#497e3b"/>
<rect x="450" y="375" width="17" height="2" fill="#273d21"/>
<rect x="450" y="377" width="17" height="2" fill="#253320"/>
<rect x="450" y="379" width="17" height="2" fill="#22301f"/>
<rect x="450" y="381" width="17" height="2" fill="#2f1915"/>
<rect x="450" y="383" width="17" height="2" fill="#341c18"/>
<rect x="450" y="385" width="17" height="2" fill="#385b2e"/>
<rect x="450" y="387" width="17" height="2" fill="#2c4826"/>
<rect x="450" y="389" width="17" height="2" fill="#4f8a3f"/>
<rect x="450" y="391" width="17" height="2" fill="#518e40"/>
<rect x="450" y="393" width="17" height="2" fill="#5a9e47"/>
<rect x="450" y="395" width="17" height="2" fill="#68af4f"/>
<rect x="450" y="397" width="17" height="2" fill="#539242"/>
<rect x="450" y="399" width="17" height="2" fill="#579744"/>
<rect x="467" y="148" width="17" height="2" fill="#243220"/>
<rect x="467" y="150" width="17" height="2" fill="#681a18"/>
<rect x="467" y="152" width="17" height="2" fill="#1f2518"/>
<rect x="467" y="154" width="17" height="2" fill="#841d1b"/>
<rect x="467" y="156" width="17" height="2" fill="#4a1614"/>
<rect x="467" y="158" width="17" height="2" fill="#3b1210"/>
<rect x="467" y="160" width="17" height="2" fill="#361410"/>
<rect x="467" y="162" width="17" height="2" fill="#351410"/>
<rect x="467" y="164" width="17" height="2" fill="#571614"/>
<rect x="467" y="166" width="17" height="2" fill="#1b1f17"/>
<rect x="467" y="168" width="17" height="2" fill="#351410"/>
<rect x="467" y="170" width="17" height="2" fill="#1a1e16"/>
<rect x="467" y="172" width="17" height="2" fill="#3c1211"/>
<rect x="467" y="174" width="17" height="2" fill="#821919"/>
<rect x="467" y="176" width="17" height="2" fill="#581513"/>
<rect x="467" y="178" width="17" height="2" fill="#621816"/>
<rect x="467" y="180" width="17" height="2" fill="#191d15"/>
<rect x="467" y="182" width="17" height="2" fill="#471513"/>
<rect x="467" y="184" width="17" height="2" fill="#2f1410"/>
<rect x="467" y="186" width="17" height="2" fill="#6f1c1a"/>
<rect x="467" y="188" width="17" height="2" fill="#631917"/>
<rect x="467" y="190" width="17" height="2" fill="#851d1b"/>
<rect x="467" y="192" width="17" height="2" fill="#991c1c"/>
<rect x="467" y="194" width="17" height="2" fill="#671a18"/>
<rect x="467" y="196" width="17" height="2" fill="#23291b"/>
<rect x="467" y="198" width="17" height="2" fill="#3f1311"/>
<rect x="467" y="200" width="17" height="2" fill="#381511"/>
<rect x="467" y="202" width="17" height="2" fill="#381511"/>
<rect x="467" y="204" width="17" height="2" fill="#291713"/>
<rect x="467" y="206" width="17" height="2" fill="#6e1917"/>
<rect x="467" y="208" width="17" height="2" fill="#2a1814"/>
<rect x="467" y="210" width="17" height="2" fill="#391511"/>
<rect x="467" y="212" width="17" height="2" fill="#841d1b"/>
<rect x="467" y="214" width="17" height="2" fill="#2e1410"/>
<rect x="467" y="216" width="17" height="2" fill="#3d1712"/>
<rect x="467" y="218" width="17" height="2" fill="#2b1914"/>
<rect x="467" y="220" width="17" height="2" fill="#3c1311"/>
<rect x="467" y="222" width="17" height="2" fill="#a41e1e"/>
<rect x="467" y="224" width="17" height="2" fill="#2e1915"/>
<rect x="467" y="226" width="17" height="2" fill="#321612"/>
<rect x="467" y="228" width="17" height="2" fill="#431312"/>
<rect x="467" y="230" width="17" height="2" fill="#8a1b1b"/>
<rect x="467" y="232" width="17" height="2" fill="#3c1211"/>
<rect x="467" y="234" width="17" height="2" fill="#611715"/>
<rect x="467" y="236" width="17" height="2" fill="#391511"/>
<rect x="467" y="238" width="17" height="2" fill="#6a1816"/>
<rect x="467" y="240" width="17" height="2" fill="#2a1814"/>
<rect x="467" y="242" width="17" height="2" fill="#711c1a"/>
<rect x="467" y="244" width="17" height="2" fill="#811c1a"/>
<rect x="467" y="246" width="17" height="2" fill="#781a18"/>
<rect x="467" y="248" width="17" height="2" fill="#1e1a14"/>
<rect x="467" y="250" width="17" height="2" fill="#811c1a"/>
<rect x="467" y="252" width="17" height="2" fill="#281713"/>
<rect x="467" y="254" width="17" height="2" fill="#2d1410"/>
<rect x="467" y="256" width="17" height="2" fill="#711917"/>
<rect x="467" y="258" width="17" height="2" fill="#6d1817"/>
<rect x="467" y="260" width="17" height="2" fill="#3c1612"/>
<rect x="467" y="262" width="17" height="2" fill="#6f1917"/>
<rect x="467" y="264" width="17" height="2" fill="#581715"/>
<rect x="467" y="266" width="17" height="2" fill="#401412"/>
<rect x="467" y="268" width="17" height="2" fill="#1d1913"/>
<rect x="467" y="270" width="17" height="2" fill="#781a18"/>
<rect x="467" y="272" width="17" height="2" fill="#3e1311"/>
<rect x="467" y="274" width="17" height="2" fill="#391511"/>
<rect x="467" y="276" width="17" height="2" fill="#611715"/>
<rect x="467" y="278" width="17" height="2" fill="#461412"/>
<rect x="467" y="280" width="17" height="2" fill="#501513"/>
<rect x="467" y="282" width="17" height="2" fill="#361d19"/>
<rect x="467" y="284" width="17" height="2" fill="#301511"/>
<rect x="467" y="286" width="17" height="2" fill="#601715"/>
<rect x="467" y="288" width="17" height="2" fill="#531513"/>
<rect x="467" y="290" width="17" height="2" fill="#3a1210"/>
<rect x="467" y="292" width="17" height="2" fill="#581714"/>
<rect x="467" y="294" width="17" height="2" fill="#301511"/>
<rect x="467" y="296" width="17" height="2" fill="#721917"/>
<rect x="467" y="298" width="17" height="2" fill="#23311f"/>
<rect x="467" y="300" width="17" height="2" fill="#6d1917"/>
<rect x="467" y="302" width="17" height="2" fill="#3c1612"/>
<rect x="467" y="304" width="17" height="3" fill="#5e1715"/>
<rect x="467" y="307" width="17" height="2" fill="#4c1412"/>
<rect x="467" y="309" width="17" height="2" fill="#321612"/>
<rect x="467" y="311" width="17" height="2" fill="#351410"/>
<rect x="467" y="313" width="17" height="2" fill="#5c1b19"/>
<rect x="467" y="315" width="17" height="2" fill="#6f1b19"/>
<rect x="467" y="317" width="17" height="2" fill="#202d1c"/>
<rect x="467" y="319" width="17" height="2" fill="#293f22"/>
<rect x="467" y="321" width="17" height="2" fill="#35582d"/>
<rect x="467" y="323" width="17" height="2" fill="#21311d"/>
<rect x="467" y="325" width="17" height="2" fill="#23341f"/>
<rect x="467" y="327" width="17" height="2" fill="#34552b"/>
<rect x="467" y="329" width="17" height="2" fill="#427638"/>
<rect x="467" y="331" width="17" height="2" fill="#2a3d23"/>
<rect x="467" y="333" width="17" height="2" fill="#2a4524"/>
<rect x="467" y="335" width="17" height="2" fill="#315129"/>
<rect x="467" y="337" width="17" height="2" fill="#1b2417"/>
<rect x="467" y="339" width="17" height="2" fill="#253a1f"/>
<rect x="467" y="341" width="17" height="2" fill="#32542b"/>
<rect x="467" y="343" width="17" height="2" fill="#294023"/>
<rect x="467" y="345" width="17" height="2" fill="#2a4424"/>
<rect x="467" y="347" width="17" height="2" fill="#293f22"/>
<rect x="467" y="349" width="17" height="2" fill="#35562c"/>
<rect x="467" y="351" width="17" height="2" fill="#273c21"/>
<rect x="467" y="353" width="17" height="2" fill="#2b4725"/>
<rect x="467" y="355" width="17" height="2" fill="#283e22"/>
<rect x="467" y="357" width="17" height="2" fill="#559245"/>
<rect x="467" y="359" width="17" height="2" fill="#345d2e"/>
<rect x="467" y="361" width="17" height="2" fill="#335b2d"/>
<rect x="467" y="363" width="17" height="2" fill="#355f2f"/>
<rect x="467" y="365" width="17" height="2" fill="#3c6a34"/>
<rect x="467" y="367" width="17" height="2" fill="#22331e"/>
<rect x="467" y="369" width="17" height="2" fill="#4e853f"/>
<rect x="467" y="371" width="17" height="2" fill="#569345"/>
<rect x="467" y="373" width="17" height="2" fill="#376331"/>
<rect x="467" y="375" width="17" height="2" fill="#202f1c"/>
<rect x="467" y="377" width="17" height="2" fill="#36582d"/>
<rect x="467" y="379" width="17" height="2" fill="#3b6031"/>
<rect x="467" y="381" width="17" height="2" fill="#2e4c28"/>
<rect x="467" y="383" width="17" height="2" fill="#23311f"/>
<rect x="467" y="385" width="17" height="2" fill="#711c1a"/>
<rect x="467" y="387" width="17" height="2" fill="#531715"/>
<rect x="467" y="389" width="17" height="2" fill="#1e1a14"/>
<rect x="467" y="391" width="17" height="2" fill="#481614"/>
<rect x="467" y="393" width="17" height="2" fill="#761d1b"/>
<rect x="467" y="395" width="17" height="2" fill="#841d1b"/>
<rect x="467" y="397" width="17" height="2" fill="#481614"/>
<rect x="467" y="399" width="17" height="2" fill="#471614"/>
<rect x="484" y="148" width="18" height="2" fill="#281713"/>
<rect x="484" y="150" width="18" height="2" fill="#351c18"/>
<rect x="484" y="152" width="18" height="2" fill="#1c2618"/>
<rect x="484" y="154" width="18" height="2" fill="#391210"/>
<rect x="484" y="156" width="18" height="2" fill="#261612"/>
<rect x="484" y="158" width="18" height="2" fill="#721917"/>
<rect x="484" y="160" width="18" height="2" fill="#9d1d1d"/>
<rect x="484" y="162" width="18" height="2" fill="#561614"/>
<rect x="484" y="164" width="18" height="2" fill="#721917"/>
<rect x="484" y="166" width="18" height="2" fill="#801c1a"/>
<rect x="484" y="168" width="18" height="2" fill="#461614"/>
<rect x="484" y="170" width="18" height="2" fill="#9e1d1d"/>
<rect x="484" y="172" width="18" height="2" fill="#3e1b17"/>
<rect x="484" y="174" width="18" height="2" fill="#751a18"/>
<rect x="484" y="176" width="18" height="2" fill="#671917"/>
<rect x="484" y="178" width="18" height="2" fill="#1f1b15"/>
<rect x="484" y="180" width="18" height="2" fill="#541614"/>
<rect x="484" y="182" width="18" height="2" fill="#511513"/>
<rect x="484" y="184" width="18" height="2" fill="#851a1a"/>
<rect x="484" y="186" width="18" height="2" fill="#821919"/>
<rect x="484" y="188" width="18" height="2" fill="#961d1d"/>
<rect x="484" y="190" width="18" height="2" fill="#3f1311"/>
<rect x="484" y="192" width="18" height="2" fill="#331b17"/>
<rect x="484" y="194" width="18" height="2" fill="#461413"/>
<rect x="484" y="196" width="18" height="2" fill="#2e1410"/>
<rect x="484" y="198" width="18" height="2" fill="#4e1412"/>
<rect x="484" y="200" width="18" height="2" fill="#481513"/>
<rect x="484" y="202" width="18" height="2" fill="#301511"/>
<rect x="484" y="204" width="18" height="2" fill="#751a18"/>
<rect x="484" y="206" width="18" height="2" fill="#681715"/>
<rect x="484" y="208" width="18" height="2" fill="#731917"/>
<rect x="484" y="210" width="18" height="2" fill="#4b1715"/>
<rect x="484" y="212" width="18" height="2" fill="#4c1816"/>
<rect x="484" y="214" width="18" height="2" fill="#a11e1e"/>
<rect x="484" y="216" width="18" height="2" fill="#581513"/>
<rect x="484" y="218" width="18" height="2" fill="#351c18"/>
<rect x="484" y="220" width="18" height="2" fill="#391210"/>
<rect x="484" y="222" width="18" height="2" fill="#311a16"/>
<rect x="484" y="224" width="18" height="2" fill="#581513"/>
<rect x="484" y="226" width="18" height="2" fill="#461413"/>
<rect x="484" y="228" width="18" height="2" fill="#261612"/>
<rect x="484" y="230" width="18" height="2" fill="#331612"/>
<rect x="484" y="232" width="18" height="2" fill="#1e281a"/>
<rect x="484" y="234" width="18" height="2" fill="#311511"/>
<rect x="484" y="236" width="18" height="2" fill="#3e1311"/>
<rect x="484" y="238" width="18" height="2" fill="#761a18"/>
<rect x="484" y="240" width="18" height="2" fill="#391210"/>
<rect x="484" y="242" width="18" height="2" fill="#721a18"/>
<rect x="484" y="244" width="18" height="2" fill="#202618"/>
<rect x="484" y="246" width="18" height="2" fill="#381511"/>
<rect x="484" y="248" width="18" height="2" fill="#501513"/>
<rect x="484" y="250" width="18" height="2" fill="#661917"/>
<rect x="484" y="252" width="18" height="2" fill="#561614"/>
<rect x="484" y="254" width="18" height="2" fill="#4c1614"/>
<rect x="484" y="256" width="18" height="2" fill="#581715"/>
<rect x="484" y="258" width="18" height="2" fill="#761b19"/>
<rect x="484" y="260" width="18" height="2" fill="#601715"/>
<rect x="484" y="262" width="18" height="2" fill="#2a1814"/>
<rect x="484" y="264" width="18" height="2" fill="#731a18"/>
<rect x="484" y="266" width="18" height="2" fill="#701917"/>
<rect x="484" y="268" width="18" height="2" fill="#2e1410"/>
<rect x="484" y="270" width="18" height="2" fill="#291713"/>
<rect x="484" y="272" width="18" height="2" fill="#4a1614"/>
<rect x="484" y="274" width="18" height="2" fill="#2b1814"/>
<rect x="484" y="276" width="18" height="2" fill="#431513"/>
<rect x="484" y="278" width="18" height="2" fill="#251913"/>
<rect x="484" y="280" width="18" height="2" fill="#731a18"/>
<rect x="484" y="282" width="18" height="2" fill="#3d1712"/>
<rect x="484" y="284" width="18" height="2" fill="#411412"/>
<rect x="484" y="286" width="18" height="2" fill="#3b1612"/>
<rect x="484" y="288" width="18" height="2" fill="#421412"/>
<rect x="484" y="290" width="18" height="2" fill="#431312"/>
<rect x="484" y="292" width="18" height="2" fill="#331612"/>
<rect x="484" y="294" width="18" height="2" fill="#4b1614"/>
<rect x="484" y="296" width="18" height="2" fill="#351c18"/>
<rect x="484" y="298" width="18" height="2" fill="#5e1715"/>
<rect x="484" y="300" width="18" height="2" fill="#3a1210"/>
<rect x="484" y="302" width="18" height="2" fill="#2c1915"/>
<rect x="484" y="304" width="18" height="3" fill="#4d1714"/>
<rect x="484" y="307" width="18" height="2" fill="#401412"/>
<rect x="484" y="309" width="18" height="2" fill="#351410"/>
<rect x="484" y="311" width="18" height="2" fill="#771b19"/>
<rect x="484" y="313" width="18" height="2" fill="#1a2216"/>
<rect x="484" y="315" width="18" height="2" fill="#376231"/>
<rect x="484" y="317" width="18" height="2" fill="#3c6a34"/>
<rect x="484" y="319" width="18" height="2" fill="#21311d"/>
<rect x="484" y="321" width="18" height="2" fill="#33552b"/>
<rect x="484" y="323" width="18" height="2" fill="#3a5e30"/>
<rect x="484" y="325" width="18" height="2" fill="#294023"/>
<rect x="484" y="327" width="18" height="2" fill="#4e8941"/>
<rect x="484" y="329" width="18" height="2" fill="#283b22"/>
<rect x="484" y="331" width="18" height="2" fill="#3b6933"/>
<rect x="484" y="333" width="18" height="2" fill="#22321e"/>
<rect x="484" y="335" width="18" height="2" fill="#3e6e36"/>
<rect x="484" y="337" width="18" height="2" fill="#294323"/>
<rect x="484" y="339" width="18" height="2" fill="#283e22"/>
<rect x="484" y="341" width="18" height="2" fill="#284122"/>
<rect x="484" y="343" width="18" height="2" fill="#31522a"/>
<rect x="484" y="345" width="18" height="2" fill="#3a5e30"/>
<rect x="484" y="347" width="18" height="2" fill="#24391f"/>
<rect x="484" y="349" width="18" height="2" fill="#34572c"/>
<rect x="484" y="351" width="18" height="2" fill="#274122"/>
<rect x="484" y="353" width="18" height="2" fill="#20301c"/>
<rect x="484" y="355" width="18" height="2" fill="#23331e"/>
<rect x="484" y="357" width="18" height="2" fill="#396632"/>
<rect x="484" y="359" width="18" height="2" fill="#294023"/>
<rect x="484" y="361" width="18" height="2" fill="#24381f"/>
<rect x="484" y="363" width="18" height="2" fill="#366030"/>
<rect x="484" y="365" width="18" height="2" fill="#35572c"/>
<rect x="484" y="367" width="18" height="2" fill="#447939"/>
<rect x="484" y="369" width="18" height="2" fill="#2a4424"/>
<rect x="484" y="371" width="18" height="2" fill="#33542b"/>
<rect x="484" y="373" width="18" height="2" fill="#263421"/>
<rect x="484" y="375" width="18" height="2" fill="#33542b"/>
<rect x="484" y="377" width="18" height="2" fill="#23301f"/>
<rect x="484" y="379" width="18" height="2" fill="#23331f"/>
<rect x="484" y="381" width="18" height="2" fill="#23341f"/>
<rect x="484" y="383" width="18" height="2" fill="#22331e"/>
<rect x="484" y="385" width="18" height="2" fill="#3b5f30"/>
<rect x="484" y="387" width="18" height="2" fill="#395d2f"/>
<rect x="484" y="389" width="18" height="2" fill="#192115"/>
<rect x="484" y="391" width="18" height="2" fill="#35572c"/>
<rect x="484" y="393" width="18" height="2" fill="#2a4524"/>
<rect x="484" y="395" width="18" height="2" fill="#1b2417"/>
<rect x="484" y="397" width="18" height="2" fill="#25391f"/>
<rect x="484" y="399" width="18" height="2" fill="#35582d"/>
</g>
<rect x="257.5" y="405.3" width="85" height="2.6" fill="#000" />
<rect x="346.2" y="405.3" width="157" height="2.6" fill="#000" />
<text x="303.2" y="420" font-size="10" font-weight="bold" font-style="normal" text-anchor="middle" fill="#000" >pre-B cell</text>
<text x="425.5" y="420" font-size="10" font-weight="bold" font-style="normal" text-anchor="middle" fill="#000" >DLBCL</text>
<text x="0.2" y="451.4" font-size="17" font-weight="bold" font-style="normal" text-anchor="start" fill="#000" >D</text>
<line x1="38.2" y1="506" x2="38.2" y2="645.8" stroke="#000" stroke-width="2.2" />
<line x1="37.1" y1="644.8" x2="166.8" y2="644.8" stroke="#000" stroke-width="2.2" />
<line x1="33.8" y1="644.6" x2="38.2" y2="644.6" stroke="#000" stroke-width="2" />
<text x="31" y="648.2" font-size="10" font-weight="bold" font-style="normal" text-anchor="end" fill="#000" >0</text>
<line x1="33.8" y1="610.35" x2="38.2" y2="610.35" stroke="#000" stroke-width="2" />
<text x="31" y="613.95" font-size="10" font-weight="bold" font-style="normal" text-anchor="end" fill="#000" >5</text>
<line x1="33.8" y1="576.1" x2="38.2" y2="576.1" stroke="#000" stroke-width="2" />
<text x="31" y="579.7" font-size="10" font-weight="bold" font-style="normal" text-anchor="end" fill="#000" >10</text>
<line x1="33.8" y1="541.85" x2="38.2" y2="541.85" stroke="#000" stroke-width="2" />
<text x="31" y="545.45" font-size="10" font-weight="bold" font-style="normal" text-anchor="end" fill="#000" >15</text>
<line x1="33.8" y1="507.6" x2="38.2" y2="507.6" stroke="#000" stroke-width="2" />
<text x="31" y="511.20000000000005" font-size="10" font-weight="bold" font-style="normal" text-anchor="end" fill="#000" >20</text>
<line x1="59.6" y1="644.8" x2="59.6" y2="648.6" stroke="#000" stroke-width="2" />
<line x1="102.6" y1="644.8" x2="102.6" y2="648.6" stroke="#000" stroke-width="2" />
<line x1="145.2" y1="644.8" x2="145.2" y2="648.6" stroke="#000" stroke-width="2" />
<text transform="translate(13.9,574.8) rotate(-90)" font-size="10.5" text-anchor="middle" fill="#000">DLBCL Latency (months)</text>
<circle cx="53.1" cy="520.3" r="2.25" fill="#000"/>
<circle cx="66.2" cy="519.7" r="2.25" fill="#000"/>
<circle cx="59.7" cy="526.2" r="2.25" fill="#000"/>
<circle cx="59.7" cy="541.8" r="2.25" fill="#000"/>
<circle cx="59.7" cy="565.8" r="2.25" fill="#000"/>
<circle cx="59.7" cy="572.3" r="2.25" fill="#000"/>
<rect x="96.9" y="574.6999999999999" width="4.2" height="4.2" fill="#000" />
<rect x="103.9" y="574.0" width="4.2" height="4.2" fill="#000" />
<rect x="100.4" y="583.3" width="4.2" height="4.2" fill="#000" />
<rect x="103.9" y="595.6" width="4.2" height="4.2" fill="#000" />
<rect x="96.9" y="600.3" width="4.2" height="4.2" fill="#000" />
<rect x="96.9" y="612.9" width="4.2" height="4.2" fill="#000" />
<rect x="103.9" y="614.6999999999999" width="4.2" height="4.2" fill="#000" />
<rect x="100.4" y="622.3" width="4.2" height="4.2" fill="#000" />
<polygon points="142.3,597.8 147.5,597.8 144.9,593.3" fill="#000"/>
<polygon points="142.3,607.3 147.5,607.3 144.9,602.8" fill="#000"/>
<polygon points="142.3,624.7 147.5,624.7 144.9,620.2" fill="#000"/>
<line x1="45.4" y1="533.8" x2="73.8" y2="533.8" stroke="#000" stroke-width="2.2" />
<line x1="88.3" y1="600.3" x2="116.9" y2="600.3" stroke="#000" stroke-width="2.2" />
<line x1="131.6" y1="605" x2="160" y2="605" stroke="#000" stroke-width="2.2" />
<polyline points="59.7,473.8 59.7,461.2 147.2,461.2 147.2,553" fill="none" stroke="#000" stroke-width="2.2" stroke-linejoin="miter"/>
<polyline points="59.7,510.8 59.7,497.7 104.6,497.7 104.6,553" fill="none" stroke="#000" stroke-width="2.2" stroke-linejoin="miter"/>
<text x="75.8" y="457" font-size="10.5" font-weight="bold" fill="#000"><tspan font-style="italic">P</tspan> = 0.0119</text>
<text x="57.6" y="494" font-size="10.5" font-weight="bold" fill="#000"><tspan font-style="italic">P</tspan> = 0.0003</text>
<text transform="translate(63,655) rotate(-45)" font-size="11" font-style="italic" text-anchor="end" fill="#000">IuHABcl6</text>
<text transform="translate(106,655) rotate(-45)" font-size="11" font-style="italic" text-anchor="end" fill="#000">IuHABcl6 Ung<tspan font-size="7.5" dy="-4">-/-</tspan><tspan dy="4"> Msh2</tspan><tspan font-size="7.5" dy="-4">-/-</tspan></text>
<text transform="translate(148.6,655) rotate(-45)" font-size="11" font-style="italic" text-anchor="end" fill="#000">IuHABcl6 Msh2<tspan font-size="7.5" dy="-4">-/-</tspan></text>
<text x="216.8" y="451.8" font-size="17" font-weight="bold" font-style="normal" text-anchor="start" fill="#000" >E</text>
<line x1="261.6" y1="463.8" x2="261.6" y2="620.3" stroke="#000" stroke-width="2.2" />
<line x1="260.6" y1="619.3" x2="479.5" y2="619.3" stroke="#000" stroke-width="2.2" />
<line x1="257" y1="619.3" x2="261.6" y2="619.3" stroke="#000" stroke-width="2" />
<text x="255.3" y="623.5999999999999" font-size="10" font-weight="bold" font-style="normal" text-anchor="end" fill="#000" >0</text>
<line x1="257" y1="583.9" x2="261.6" y2="583.9" stroke="#000" stroke-width="2" />
<text x="255.3" y="588.1999999999999" font-size="10" font-weight="bold" font-style="normal" text-anchor="end" fill="#000" >25</text>
<line x1="257" y1="548.5" x2="261.6" y2="548.5" stroke="#000" stroke-width="2" />
<text x="255.3" y="552.8" font-size="10" font-weight="bold" font-style="normal" text-anchor="end" fill="#000" >50</text>
<line x1="257" y1="513.0999999999999" x2="261.6" y2="513.0999999999999" stroke="#000" stroke-width="2" />
<text x="255.3" y="517.3999999999999" font-size="10" font-weight="bold" font-style="normal" text-anchor="end" fill="#000" >75</text>
<line x1="257" y1="477.69999999999993" x2="261.6" y2="477.69999999999993" stroke="#000" stroke-width="2" />
<text x="255.3" y="481.99999999999994" font-size="10" font-weight="bold" font-style="normal" text-anchor="end" fill="#000" >100</text>
<line x1="298.0" y1="619.3" x2="298.0" y2="622.8" stroke="#000" stroke-width="2" />
<line x1="334.20000000000005" y1="619.3" x2="334.20000000000005" y2="622.8" stroke="#000" stroke-width="2" />
<line x1="370.40000000000003" y1="619.3" x2="370.40000000000003" y2="622.8" stroke="#000" stroke-width="2" />
<line x1="406.6" y1="619.3" x2="406.6" y2="622.8" stroke="#000" stroke-width="2" />
<line x1="442.8" y1="619.3" x2="442.8" y2="622.8" stroke="#000" stroke-width="2" />
<line x1="479.0" y1="619.3" x2="479.0" y2="622.8" stroke="#000" stroke-width="2" />
<text x="261.8" y="636" font-size="10" font-weight="bold" font-style="normal" text-anchor="middle" fill="#000" >0</text>
<text x="334.20000000000005" y="636" font-size="10" font-weight="bold" font-style="normal" text-anchor="middle" fill="#000" >10</text>
<text x="406.6" y="636" font-size="10" font-weight="bold" font-style="normal" text-anchor="middle" fill="#000" >20</text>
<text x="479.0" y="636" font-size="10" font-weight="bold" font-style="normal" text-anchor="middle" fill="#000" >30</text>
<text x="370.2" y="647.4" font-size="10" font-weight="bold" font-style="normal" text-anchor="middle" fill="#000" >Months</text>
<text transform="translate(230,539.8) rotate(-90)" font-size="10.5" text-anchor="middle" fill="#000">Overall survival, DLBCL (%)</text>
<polyline points="337.8,477.7 337.8,485.4 344.7,485.4 344.7,494.4 370.7,494.4 370.7,504.8 387.1,504.8 387.1,519.5 392.3,519.5 392.3,546.3 407,546.3" fill="none" stroke="#000" stroke-width="2.2" stroke-linejoin="miter"/>
<rect x="338.3" y="483.0" width="2.4" height="2.4" fill="#000" />
<rect x="352.2" y="491.6" width="2.4" height="2.4" fill="#000" />
<rect x="372.8" y="502.40000000000003" width="2.4" height="2.4" fill="#000" />
<rect x="403.2" y="543.9" width="2.4" height="2.4" fill="#000" />
<rect x="404.8" y="543.9" width="2.4" height="2.4" fill="#000" />
<polyline points="283.4,477.7 285,477.7 285,495 303.5,495 303.5,512.3 313.8,512.3 313.8,538.8 340.4,538.8" fill="none" stroke="#5aa046" stroke-width="2.4" stroke-linejoin="miter"/>
<polyline points="283.4,477.7 283.4,489.2 292.5,489.2 292.5,513.5 305.2,513.5 305.2,525 311,525 311,536.5 324.2,536.5 324.2,548 334,548 334,571.2 368,571.2" fill="none" stroke="#c81c1e" stroke-width="2.4" stroke-linejoin="miter"/>
<rect x="284.3" y="491.8" width="2.4" height="2.4" fill="#000" />
<rect x="291.3" y="497.8" width="2.4" height="2.4" fill="#000" />
<rect x="305.8" y="510.09999999999997" width="2.4" height="2.4" fill="#000" />
<rect x="308.8" y="510.09999999999997" width="2.4" height="2.4" fill="#000" />
<rect x="309.8" y="527.8" width="2.4" height="2.4" fill="#000" />
<rect x="333.8" y="536.3" width="2.4" height="2.4" fill="#000" />
<rect x="338.8" y="536.3" width="2.4" height="2.4" fill="#000" />
<rect x="332.8" y="557.8" width="2.4" height="2.4" fill="#000" />
<rect x="335.8" y="568.8" width="2.4" height="2.4" fill="#000" />
<rect x="338.3" y="568.8" width="2.4" height="2.4" fill="#000" />
<rect x="349.8" y="568.8" width="2.4" height="2.4" fill="#000" />
<rect x="362.3" y="568.8" width="2.4" height="2.4" fill="#000" />
<line x1="261.6" y1="477.1" x2="447.9" y2="477.1" stroke="#9ccbe6" stroke-width="1.6" />
<rect x="304.59999999999997" y="475.2" width="1.6" height="1.7" fill="#000" />
<rect x="313.0" y="475.2" width="1.6" height="1.7" fill="#000" />
<rect x="328.4" y="475.2" width="1.6" height="1.7" fill="#000" />
<rect x="366.9" y="475.2" width="1.6" height="1.7" fill="#000" />
<rect x="368.9" y="475.2" width="1.6" height="1.7" fill="#000" />
<rect x="370.9" y="475.2" width="1.6" height="1.7" fill="#000" />
<rect x="372.7" y="475.2" width="1.6" height="1.7" fill="#000" />
<rect x="374.4" y="475.2" width="1.6" height="1.7" fill="#000" />
<rect x="377.9" y="475.2" width="1.6" height="1.7" fill="#000" />
<rect x="385.59999999999997" y="475.2" width="1.6" height="1.7" fill="#000" />
<rect x="395.09999999999997" y="475.2" width="1.6" height="1.7" fill="#000" />
<rect x="409.0" y="475.2" width="1.6" height="1.7" fill="#000" />
<rect x="415.3" y="475.2" width="1.6" height="1.7" fill="#000" />
<rect x="425.09999999999997" y="475.2" width="1.6" height="1.7" fill="#000" />
<rect x="432.2" y="475.2" width="1.6" height="1.7" fill="#000" />
<rect x="434.2" y="475.2" width="1.6" height="1.7" fill="#000" />
<rect x="436.2" y="475.2" width="1.6" height="1.7" fill="#000" />
<rect x="438.2" y="475.2" width="1.6" height="1.7" fill="#000" />
<rect x="440.2" y="475.2" width="1.6" height="1.7" fill="#000" />
<rect x="444.8" y="475.2" width="1.6" height="1.7" fill="#000" />
<polyline points="455.3,477.5 468,477.5 468,546 455.3,546" fill="none" stroke="#000" stroke-width="2.3" stroke-linejoin="miter"/>
<polyline points="416.2,548.3 428.6,548.3 428.6,571.8 416.2,571.8" fill="none" stroke="#000" stroke-width="2.3" stroke-linejoin="miter"/>
<text x="475.5" y="516.6" font-size="10.4" fill="#000"><tspan font-style="italic">P</tspan> = 0.002</text>
<text x="435.8" y="563.8" font-size="10.4" fill="#000"><tspan font-style="italic">P</tspan> &lt; 0.0001</text>
<line x1="300.4" y1="660.9" x2="314.2" y2="660.9" stroke="#000" stroke-width="1.8" />
<rect x="306.3" y="658.6999999999999" width="1.8" height="2" fill="#000" />
<text x="319.6" y="663.9" font-size="10.5" fill="#000"><tspan font-style="italic">I&#956;HABcl6</tspan> (n = 22)</text>
<line x1="300.4" y1="678.5" x2="314.2" y2="678.5" stroke="#c8191e" stroke-width="1.8" />
<rect x="306.3" y="676.3" width="1.8" height="2" fill="#000" />
<text x="319.6" y="681.5" font-size="10.5" fill="#000"><tspan font-style="italic">I&#956;HABcl6 Ung<tspan font-size="7" dy="-4">-/-</tspan><tspan dy="4"> Msh2</tspan><tspan font-size="7" dy="-4">-/-</tspan></tspan><tspan dy="4"> (n = 12)</tspan></text>
<line x1="300.4" y1="696.1" x2="314.2" y2="696.1" stroke="#9ccbe6" stroke-width="1.8" />
<rect x="306.3" y="693.9" width="1.8" height="2" fill="#000" />
<text x="319.6" y="699.1" font-size="10.5" fill="#000"><tspan font-style="italic">I&#956;HABcl6 Ung<tspan font-size="7" dy="-4">-/-</tspan></tspan><tspan dy="4"> (n = 19)</tspan></text>
<line x1="300.4" y1="713.7" x2="314.2" y2="713.7" stroke="#5a9e3a" stroke-width="1.8" />
<rect x="306.3" y="711.5" width="1.8" height="2" fill="#000" />
<text x="319.6" y="716.7" font-size="10.5" fill="#000"><tspan font-style="italic">I&#956;HABcl6 Msh2<tspan font-size="7" dy="-4">-/-</tspan></tspan><tspan dy="4"> (n = 8)</tspan></text>
</svg></body></html>
